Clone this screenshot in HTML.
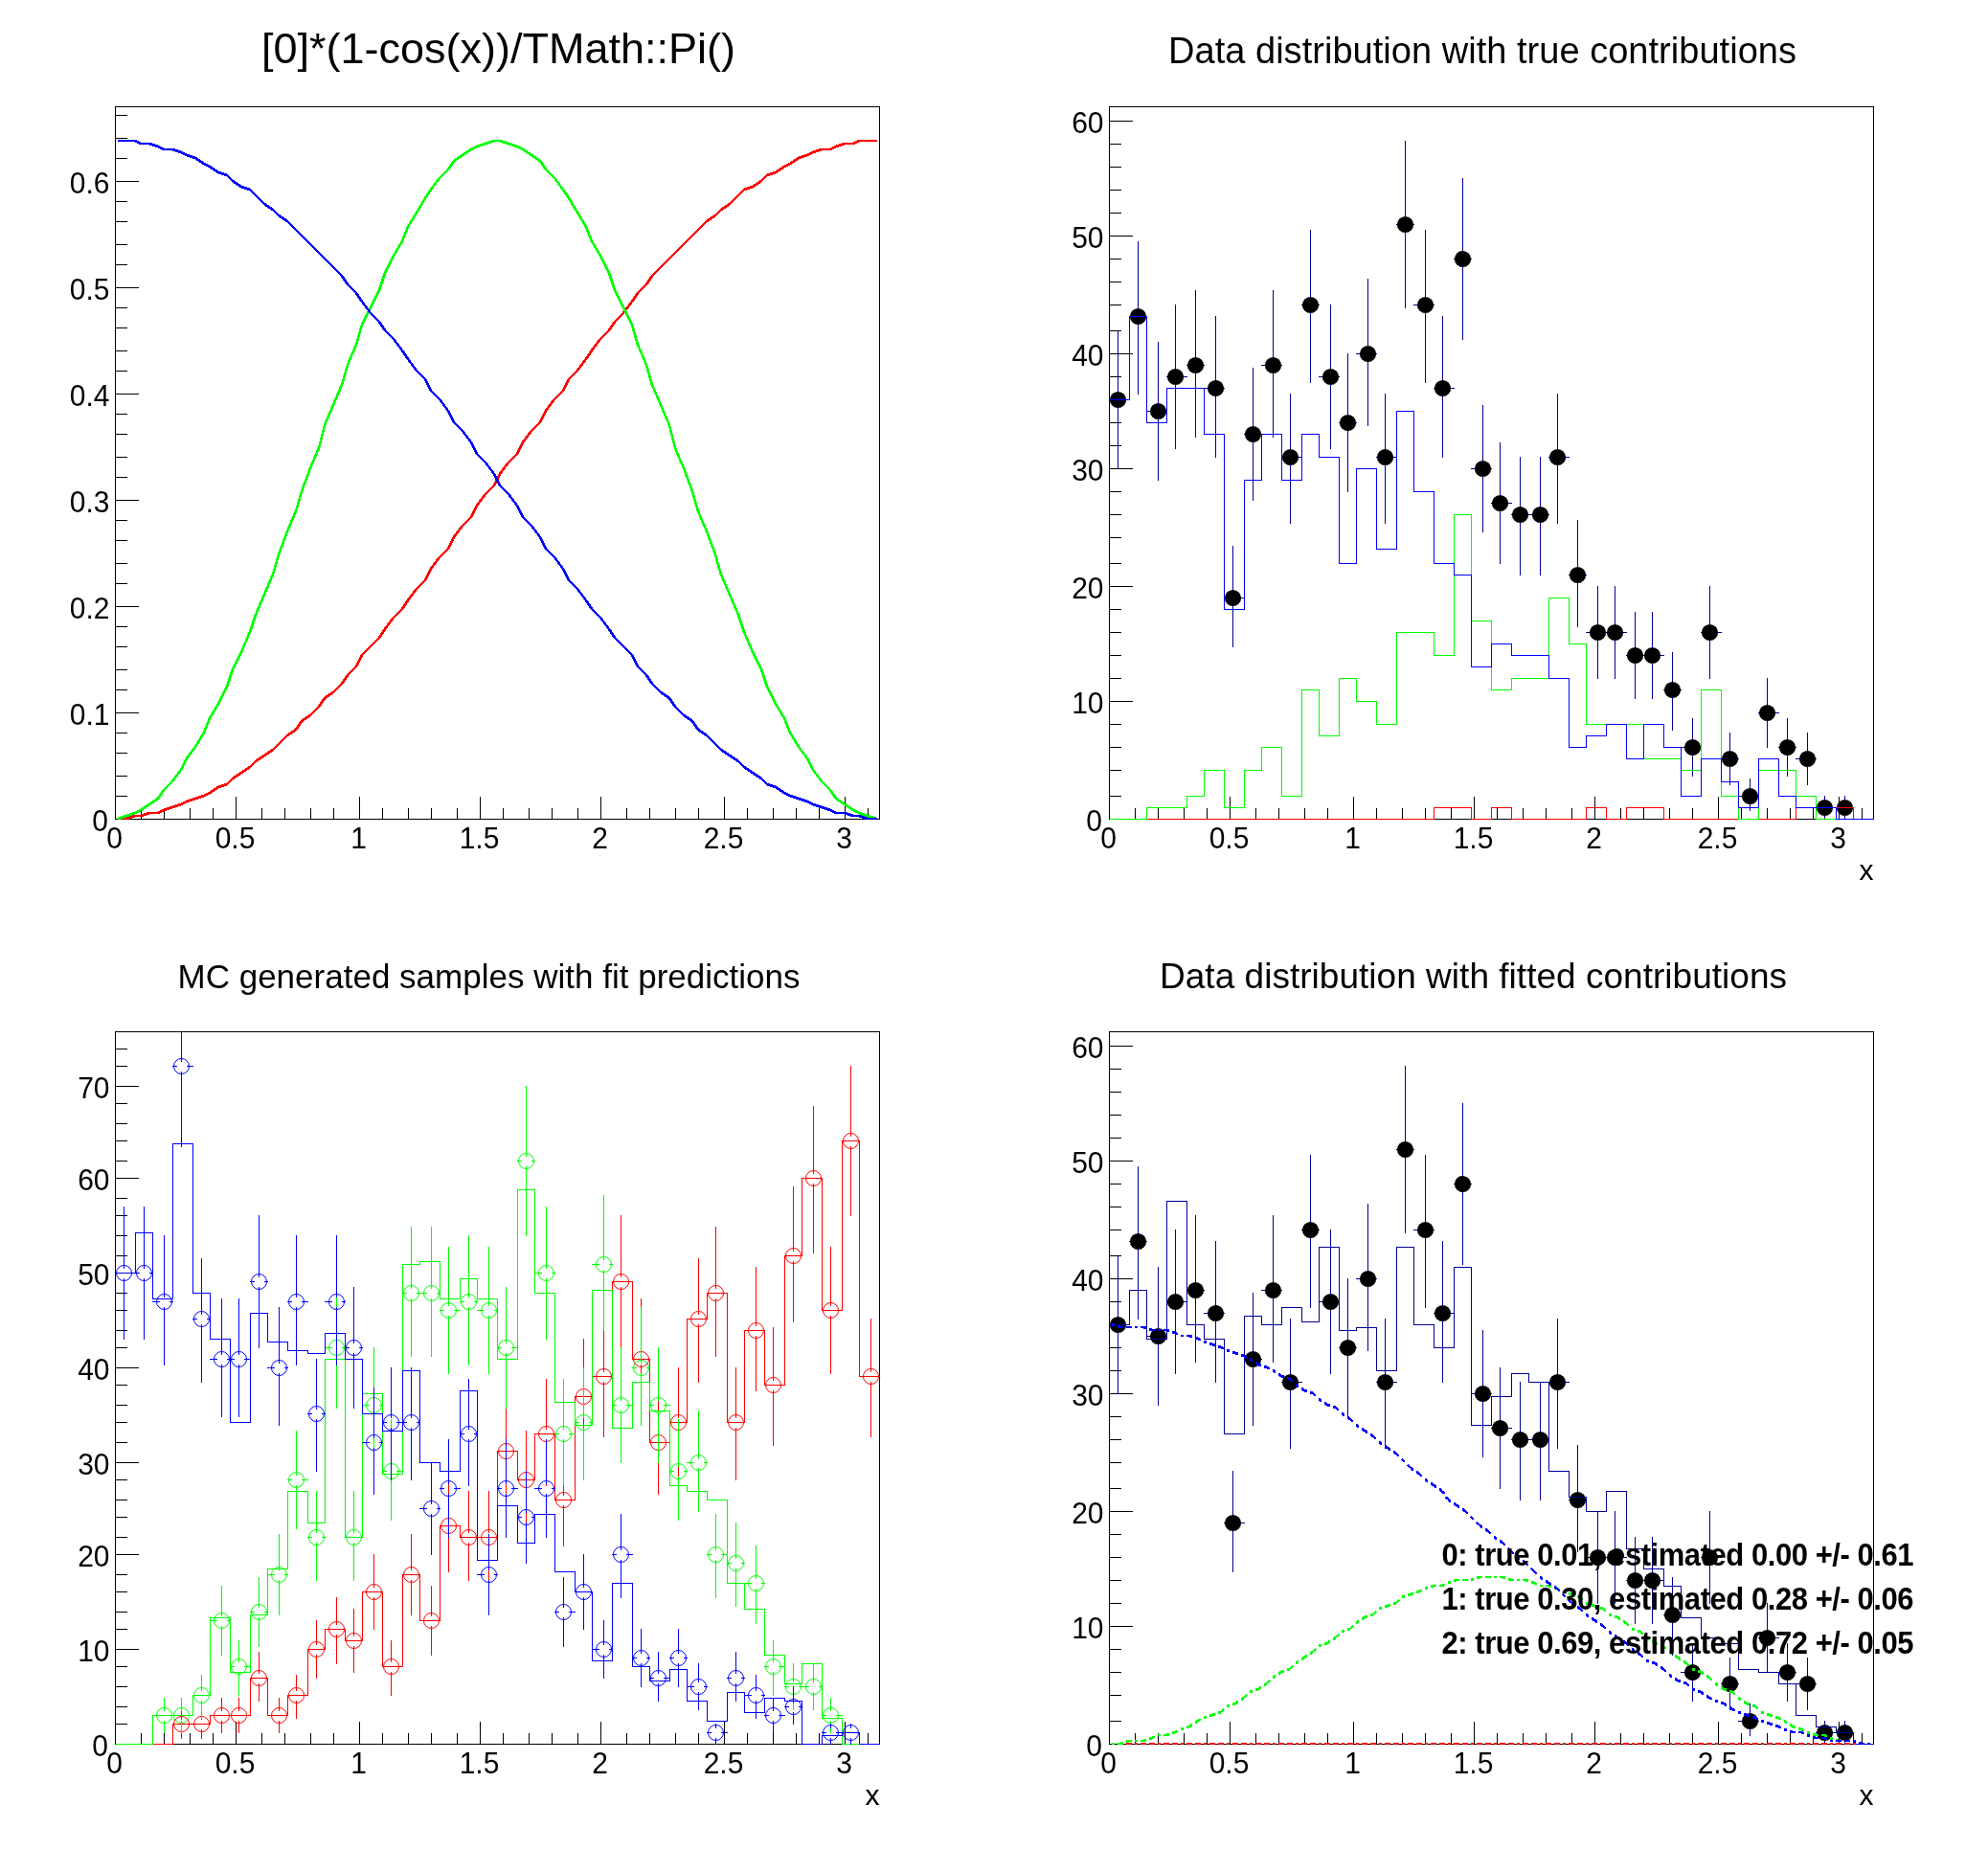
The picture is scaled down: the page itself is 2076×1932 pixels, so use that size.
<!DOCTYPE html>
<html><head><meta charset="utf-8"><title>TFractionFitter example</title>
<style>html,body{margin:0;padding:0;background:#fff}svg{display:block;will-change:transform}text{font-family:"Liberation Sans", sans-serif;fill:#000}.lab{font-size:30px}.b{font-size:31px;font-weight:bold}</style></head><body>
<svg width="2076" height="1932" viewBox="0 0 2076 1932" shape-rendering="crispEdges">
<rect x="0" y="0" width="2076" height="1932" fill="#fff"/>
<defs>
<clipPath id="c1"><rect x="120" y="111" width="799" height="745"/></clipPath>
<clipPath id="c2"><rect x="1158" y="111" width="799" height="745"/></clipPath>
<clipPath id="c3"><rect x="120" y="1077" width="799" height="745"/></clipPath>
<clipPath id="c4"><rect x="1158" y="1077" width="799" height="745"/></clipPath>
</defs>
<rect x="120.5" y="111.5" width="798" height="744" fill="none" stroke="#000" stroke-width="1"/>
<line x1="120.5" y1="855.5" x2="120.5" y2="831.5" stroke="#000" stroke-width="1" />
<text transform="translate(119.5,886.0) scale(1,1.07)" text-anchor="middle" class="lab">0</text>
<line x1="147.5" y1="855.5" x2="147.5" y2="843.5" stroke="#000" stroke-width="1" />
<line x1="171.5" y1="855.5" x2="171.5" y2="843.5" stroke="#000" stroke-width="1" />
<line x1="198.5" y1="855.5" x2="198.5" y2="843.5" stroke="#000" stroke-width="1" />
<line x1="222.5" y1="855.5" x2="222.5" y2="843.5" stroke="#000" stroke-width="1" />
<line x1="246.5" y1="855.5" x2="246.5" y2="831.5" stroke="#000" stroke-width="1" />
<text transform="translate(245.5,886.0) scale(1,1.07)" text-anchor="middle" class="lab">0.5</text>
<line x1="273.5" y1="855.5" x2="273.5" y2="843.5" stroke="#000" stroke-width="1" />
<line x1="297.5" y1="855.5" x2="297.5" y2="843.5" stroke="#000" stroke-width="1" />
<line x1="324.5" y1="855.5" x2="324.5" y2="843.5" stroke="#000" stroke-width="1" />
<line x1="348.5" y1="855.5" x2="348.5" y2="843.5" stroke="#000" stroke-width="1" />
<line x1="375.5" y1="855.5" x2="375.5" y2="831.5" stroke="#000" stroke-width="1" />
<text transform="translate(374.5,886.0) scale(1,1.07)" text-anchor="middle" class="lab">1</text>
<line x1="399.5" y1="855.5" x2="399.5" y2="843.5" stroke="#000" stroke-width="1" />
<line x1="426.5" y1="855.5" x2="426.5" y2="843.5" stroke="#000" stroke-width="1" />
<line x1="450.5" y1="855.5" x2="450.5" y2="843.5" stroke="#000" stroke-width="1" />
<line x1="477.5" y1="855.5" x2="477.5" y2="843.5" stroke="#000" stroke-width="1" />
<line x1="501.5" y1="855.5" x2="501.5" y2="831.5" stroke="#000" stroke-width="1" />
<text transform="translate(500.5,886.0) scale(1,1.07)" text-anchor="middle" class="lab">1.5</text>
<line x1="525.5" y1="855.5" x2="525.5" y2="843.5" stroke="#000" stroke-width="1" />
<line x1="552.5" y1="855.5" x2="552.5" y2="843.5" stroke="#000" stroke-width="1" />
<line x1="576.5" y1="855.5" x2="576.5" y2="843.5" stroke="#000" stroke-width="1" />
<line x1="603.5" y1="855.5" x2="603.5" y2="843.5" stroke="#000" stroke-width="1" />
<line x1="627.5" y1="855.5" x2="627.5" y2="831.5" stroke="#000" stroke-width="1" />
<text transform="translate(626.5,886.0) scale(1,1.07)" text-anchor="middle" class="lab">2</text>
<line x1="654.5" y1="855.5" x2="654.5" y2="843.5" stroke="#000" stroke-width="1" />
<line x1="678.5" y1="855.5" x2="678.5" y2="843.5" stroke="#000" stroke-width="1" />
<line x1="705.5" y1="855.5" x2="705.5" y2="843.5" stroke="#000" stroke-width="1" />
<line x1="729.5" y1="855.5" x2="729.5" y2="843.5" stroke="#000" stroke-width="1" />
<line x1="756.5" y1="855.5" x2="756.5" y2="831.5" stroke="#000" stroke-width="1" />
<text transform="translate(755.5,886.0) scale(1,1.07)" text-anchor="middle" class="lab">2.5</text>
<line x1="780.5" y1="855.5" x2="780.5" y2="843.5" stroke="#000" stroke-width="1" />
<line x1="807.5" y1="855.5" x2="807.5" y2="843.5" stroke="#000" stroke-width="1" />
<line x1="831.5" y1="855.5" x2="831.5" y2="843.5" stroke="#000" stroke-width="1" />
<line x1="855.5" y1="855.5" x2="855.5" y2="843.5" stroke="#000" stroke-width="1" />
<line x1="882.5" y1="855.5" x2="882.5" y2="831.5" stroke="#000" stroke-width="1" />
<text transform="translate(881.5,886.0) scale(1,1.07)" text-anchor="middle" class="lab">3</text>
<line x1="906.5" y1="855.5" x2="906.5" y2="843.5" stroke="#000" stroke-width="1" />
<line x1="120.5" y1="855.5" x2="145.0" y2="855.5" stroke="#000" stroke-width="1" />
<text transform="translate(113.0,868.0) scale(1,1.07)" text-anchor="end" class="lab">0</text>
<line x1="120.5" y1="831.5" x2="133.0" y2="831.5" stroke="#000" stroke-width="1" />
<line x1="120.5" y1="810.5" x2="133.0" y2="810.5" stroke="#000" stroke-width="1" />
<line x1="120.5" y1="786.5" x2="133.0" y2="786.5" stroke="#000" stroke-width="1" />
<line x1="120.5" y1="765.5" x2="133.0" y2="765.5" stroke="#000" stroke-width="1" />
<line x1="120.5" y1="744.5" x2="145.0" y2="744.5" stroke="#000" stroke-width="1" />
<text transform="translate(114.5,757.0) scale(1,1.07)" text-anchor="end" class="lab">0.1</text>
<line x1="120.5" y1="720.5" x2="133.0" y2="720.5" stroke="#000" stroke-width="1" />
<line x1="120.5" y1="699.5" x2="133.0" y2="699.5" stroke="#000" stroke-width="1" />
<line x1="120.5" y1="675.5" x2="133.0" y2="675.5" stroke="#000" stroke-width="1" />
<line x1="120.5" y1="654.5" x2="133.0" y2="654.5" stroke="#000" stroke-width="1" />
<line x1="120.5" y1="633.5" x2="145.0" y2="633.5" stroke="#000" stroke-width="1" />
<text transform="translate(114.5,646.0) scale(1,1.07)" text-anchor="end" class="lab">0.2</text>
<line x1="120.5" y1="609.5" x2="133.0" y2="609.5" stroke="#000" stroke-width="1" />
<line x1="120.5" y1="588.5" x2="133.0" y2="588.5" stroke="#000" stroke-width="1" />
<line x1="120.5" y1="564.5" x2="133.0" y2="564.5" stroke="#000" stroke-width="1" />
<line x1="120.5" y1="543.5" x2="133.0" y2="543.5" stroke="#000" stroke-width="1" />
<line x1="120.5" y1="522.5" x2="145.0" y2="522.5" stroke="#000" stroke-width="1" />
<text transform="translate(114.5,535.0) scale(1,1.07)" text-anchor="end" class="lab">0.3</text>
<line x1="120.5" y1="498.5" x2="133.0" y2="498.5" stroke="#000" stroke-width="1" />
<line x1="120.5" y1="477.5" x2="133.0" y2="477.5" stroke="#000" stroke-width="1" />
<line x1="120.5" y1="453.5" x2="133.0" y2="453.5" stroke="#000" stroke-width="1" />
<line x1="120.5" y1="432.5" x2="133.0" y2="432.5" stroke="#000" stroke-width="1" />
<line x1="120.5" y1="411.5" x2="145.0" y2="411.5" stroke="#000" stroke-width="1" />
<text transform="translate(114.5,424.0) scale(1,1.07)" text-anchor="end" class="lab">0.4</text>
<line x1="120.5" y1="387.5" x2="133.0" y2="387.5" stroke="#000" stroke-width="1" />
<line x1="120.5" y1="366.5" x2="133.0" y2="366.5" stroke="#000" stroke-width="1" />
<line x1="120.5" y1="342.5" x2="133.0" y2="342.5" stroke="#000" stroke-width="1" />
<line x1="120.5" y1="321.5" x2="133.0" y2="321.5" stroke="#000" stroke-width="1" />
<line x1="120.5" y1="300.5" x2="145.0" y2="300.5" stroke="#000" stroke-width="1" />
<text transform="translate(114.5,313.0) scale(1,1.07)" text-anchor="end" class="lab">0.5</text>
<line x1="120.5" y1="276.5" x2="133.0" y2="276.5" stroke="#000" stroke-width="1" />
<line x1="120.5" y1="255.5" x2="133.0" y2="255.5" stroke="#000" stroke-width="1" />
<line x1="120.5" y1="231.5" x2="133.0" y2="231.5" stroke="#000" stroke-width="1" />
<line x1="120.5" y1="210.5" x2="133.0" y2="210.5" stroke="#000" stroke-width="1" />
<line x1="120.5" y1="189.5" x2="145.0" y2="189.5" stroke="#000" stroke-width="1" />
<text transform="translate(114.5,202.0) scale(1,1.07)" text-anchor="end" class="lab">0.6</text>
<line x1="120.5" y1="165.5" x2="133.0" y2="165.5" stroke="#000" stroke-width="1" />
<line x1="120.5" y1="144.5" x2="133.0" y2="144.5" stroke="#000" stroke-width="1" />
<line x1="120.5" y1="120.5" x2="133.0" y2="120.5" stroke="#000" stroke-width="1" />
<text x="273" y="66" textLength="495" lengthAdjust="spacing" style="font-size:45px">[0]*(1-cos(x))/TMath::Pi()</text>
<path d="M123,855 L132,855 L141,852 L147,852 L156,849 L165,849 L171,846 L180,843 L189,840 L195,837 L204,834 L213,831 L219,828 L228,822 L237,819 L243,813 L252,807 L261,801 L267,795 L276,789 L285,783 L291,777 L300,768 L309,762 L315,753 L324,747 L333,738 L339,729 L348,723 L357,714 L363,705 L372,696 L378,684 L387,675 L396,666 L402,657 L411,645 L420,636 L426,627 L435,615 L444,606 L450,594 L459,582 L468,573 L474,561 L483,549 L492,540 L498,528 L507,516 L516,507 L522,495 L531,483 L540,474 L546,462 L555,450 L564,441 L570,429 L579,417 L588,408 L594,396 L603,387 L612,375 L618,366 L627,354 L636,345 L642,336 L651,327 L660,315 L666,306 L675,297 L681,288 L690,279 L699,270 L705,264 L714,255 L723,246 L729,240 L738,231 L747,225 L753,219 L762,213 L771,204 L777,198 L786,195 L795,189 L801,183 L810,180 L819,174 L825,171 L834,165 L843,162 L849,159 L858,156 L867,156 L873,153 L882,150 L891,150 L897,147 L906,147 L915,147 L916,147" fill="none" stroke="#ff0000" stroke-width="2.6" stroke-linejoin="round"/>
<path d="M123,855 L132,852 L141,849 L147,846 L156,840 L165,834 L171,825 L180,816 L189,804 L195,792 L204,780 L213,765 L219,750 L228,735 L237,717 L243,699 L252,681 L261,660 L267,642 L276,621 L285,600 L291,579 L300,555 L309,534 L315,513 L324,489 L333,468 L339,444 L348,423 L357,402 L363,381 L372,360 L378,339 L387,321 L396,303 L402,285 L411,267 L420,252 L426,237 L435,222 L444,207 L450,198 L459,186 L468,177 L474,168 L483,162 L492,156 L498,153 L507,150 L516,147 L522,147 L531,150 L540,153 L546,156 L555,162 L564,168 L570,177 L579,186 L588,198 L594,207 L603,222 L612,237 L618,252 L627,267 L636,285 L642,303 L651,321 L660,339 L666,360 L675,381 L681,402 L690,423 L699,444 L705,468 L714,489 L723,513 L729,534 L738,555 L747,579 L753,600 L762,621 L771,642 L777,660 L786,681 L795,699 L801,717 L810,735 L819,750 L825,765 L834,780 L843,792 L849,804 L858,816 L867,825 L873,834 L882,840 L891,846 L897,849 L906,852 L915,855 L916,855" fill="none" stroke="#00ff00" stroke-width="2.6" stroke-linejoin="round"/>
<path d="M123,147 L132,147 L141,147 L147,150 L156,150 L165,153 L171,156 L180,156 L189,159 L195,162 L204,165 L213,171 L219,174 L228,180 L237,183 L243,189 L252,195 L261,198 L267,204 L276,213 L285,219 L291,225 L300,231 L309,240 L315,246 L324,255 L333,264 L339,270 L348,279 L357,288 L363,297 L372,306 L378,315 L387,327 L396,336 L402,345 L411,354 L420,366 L426,375 L435,387 L444,396 L450,408 L459,417 L468,429 L474,441 L483,450 L492,462 L498,474 L507,483 L516,495 L522,507 L531,516 L540,528 L546,540 L555,549 L564,561 L570,573 L579,582 L588,594 L594,606 L603,615 L612,627 L618,636 L627,645 L636,657 L642,666 L651,675 L660,684 L666,696 L675,705 L681,714 L690,723 L699,729 L705,738 L714,747 L723,753 L729,762 L738,768 L747,777 L753,783 L762,789 L771,795 L777,801 L786,807 L795,813 L801,819 L810,822 L819,828 L825,831 L834,834 L843,837 L849,840 L858,843 L867,846 L873,849 L882,849 L891,852 L897,852 L906,855 L915,855 L916,855" fill="none" stroke="#0000ff" stroke-width="2.6" stroke-linejoin="round"/>
<rect x="1158.5" y="111.5" width="798" height="744" fill="none" stroke="#000" stroke-width="1"/>
<line x1="1158.5" y1="855.5" x2="1158.5" y2="831.5" stroke="#000" stroke-width="1" />
<text transform="translate(1157.5,886.0) scale(1,1.07)" text-anchor="middle" class="lab">0</text>
<line x1="1185.5" y1="855.5" x2="1185.5" y2="843.5" stroke="#000" stroke-width="1" />
<line x1="1209.5" y1="855.5" x2="1209.5" y2="843.5" stroke="#000" stroke-width="1" />
<line x1="1236.5" y1="855.5" x2="1236.5" y2="843.5" stroke="#000" stroke-width="1" />
<line x1="1260.5" y1="855.5" x2="1260.5" y2="843.5" stroke="#000" stroke-width="1" />
<line x1="1284.5" y1="855.5" x2="1284.5" y2="831.5" stroke="#000" stroke-width="1" />
<text transform="translate(1283.5,886.0) scale(1,1.07)" text-anchor="middle" class="lab">0.5</text>
<line x1="1311.5" y1="855.5" x2="1311.5" y2="843.5" stroke="#000" stroke-width="1" />
<line x1="1335.5" y1="855.5" x2="1335.5" y2="843.5" stroke="#000" stroke-width="1" />
<line x1="1362.5" y1="855.5" x2="1362.5" y2="843.5" stroke="#000" stroke-width="1" />
<line x1="1386.5" y1="855.5" x2="1386.5" y2="843.5" stroke="#000" stroke-width="1" />
<line x1="1413.5" y1="855.5" x2="1413.5" y2="831.5" stroke="#000" stroke-width="1" />
<text transform="translate(1412.5,886.0) scale(1,1.07)" text-anchor="middle" class="lab">1</text>
<line x1="1437.5" y1="855.5" x2="1437.5" y2="843.5" stroke="#000" stroke-width="1" />
<line x1="1464.5" y1="855.5" x2="1464.5" y2="843.5" stroke="#000" stroke-width="1" />
<line x1="1488.5" y1="855.5" x2="1488.5" y2="843.5" stroke="#000" stroke-width="1" />
<line x1="1515.5" y1="855.5" x2="1515.5" y2="843.5" stroke="#000" stroke-width="1" />
<line x1="1539.5" y1="855.5" x2="1539.5" y2="831.5" stroke="#000" stroke-width="1" />
<text transform="translate(1538.5,886.0) scale(1,1.07)" text-anchor="middle" class="lab">1.5</text>
<line x1="1563.5" y1="855.5" x2="1563.5" y2="843.5" stroke="#000" stroke-width="1" />
<line x1="1590.5" y1="855.5" x2="1590.5" y2="843.5" stroke="#000" stroke-width="1" />
<line x1="1614.5" y1="855.5" x2="1614.5" y2="843.5" stroke="#000" stroke-width="1" />
<line x1="1641.5" y1="855.5" x2="1641.5" y2="843.5" stroke="#000" stroke-width="1" />
<line x1="1665.5" y1="855.5" x2="1665.5" y2="831.5" stroke="#000" stroke-width="1" />
<text transform="translate(1664.5,886.0) scale(1,1.07)" text-anchor="middle" class="lab">2</text>
<line x1="1692.5" y1="855.5" x2="1692.5" y2="843.5" stroke="#000" stroke-width="1" />
<line x1="1716.5" y1="855.5" x2="1716.5" y2="843.5" stroke="#000" stroke-width="1" />
<line x1="1743.5" y1="855.5" x2="1743.5" y2="843.5" stroke="#000" stroke-width="1" />
<line x1="1767.5" y1="855.5" x2="1767.5" y2="843.5" stroke="#000" stroke-width="1" />
<line x1="1794.5" y1="855.5" x2="1794.5" y2="831.5" stroke="#000" stroke-width="1" />
<text transform="translate(1793.5,886.0) scale(1,1.07)" text-anchor="middle" class="lab">2.5</text>
<line x1="1818.5" y1="855.5" x2="1818.5" y2="843.5" stroke="#000" stroke-width="1" />
<line x1="1845.5" y1="855.5" x2="1845.5" y2="843.5" stroke="#000" stroke-width="1" />
<line x1="1869.5" y1="855.5" x2="1869.5" y2="843.5" stroke="#000" stroke-width="1" />
<line x1="1893.5" y1="855.5" x2="1893.5" y2="843.5" stroke="#000" stroke-width="1" />
<line x1="1920.5" y1="855.5" x2="1920.5" y2="831.5" stroke="#000" stroke-width="1" />
<text transform="translate(1919.5,886.0) scale(1,1.07)" text-anchor="middle" class="lab">3</text>
<line x1="1944.5" y1="855.5" x2="1944.5" y2="843.5" stroke="#000" stroke-width="1" />
<line x1="1158.5" y1="855.5" x2="1183.0" y2="855.5" stroke="#000" stroke-width="1" />
<text transform="translate(1151.0,868.0) scale(1,1.07)" text-anchor="end" class="lab">0</text>
<line x1="1158.5" y1="831.5" x2="1171.0" y2="831.5" stroke="#000" stroke-width="1" />
<line x1="1158.5" y1="804.5" x2="1171.0" y2="804.5" stroke="#000" stroke-width="1" />
<line x1="1158.5" y1="780.5" x2="1171.0" y2="780.5" stroke="#000" stroke-width="1" />
<line x1="1158.5" y1="756.5" x2="1171.0" y2="756.5" stroke="#000" stroke-width="1" />
<line x1="1158.5" y1="732.5" x2="1183.0" y2="732.5" stroke="#000" stroke-width="1" />
<text transform="translate(1152.5,745.0) scale(1,1.07)" text-anchor="end" class="lab">10</text>
<line x1="1158.5" y1="708.5" x2="1171.0" y2="708.5" stroke="#000" stroke-width="1" />
<line x1="1158.5" y1="684.5" x2="1171.0" y2="684.5" stroke="#000" stroke-width="1" />
<line x1="1158.5" y1="660.5" x2="1171.0" y2="660.5" stroke="#000" stroke-width="1" />
<line x1="1158.5" y1="636.5" x2="1171.0" y2="636.5" stroke="#000" stroke-width="1" />
<line x1="1158.5" y1="612.5" x2="1183.0" y2="612.5" stroke="#000" stroke-width="1" />
<text transform="translate(1152.5,625.0) scale(1,1.07)" text-anchor="end" class="lab">20</text>
<line x1="1158.5" y1="588.5" x2="1171.0" y2="588.5" stroke="#000" stroke-width="1" />
<line x1="1158.5" y1="561.5" x2="1171.0" y2="561.5" stroke="#000" stroke-width="1" />
<line x1="1158.5" y1="537.5" x2="1171.0" y2="537.5" stroke="#000" stroke-width="1" />
<line x1="1158.5" y1="513.5" x2="1171.0" y2="513.5" stroke="#000" stroke-width="1" />
<line x1="1158.5" y1="489.5" x2="1183.0" y2="489.5" stroke="#000" stroke-width="1" />
<text transform="translate(1152.5,502.0) scale(1,1.07)" text-anchor="end" class="lab">30</text>
<line x1="1158.5" y1="465.5" x2="1171.0" y2="465.5" stroke="#000" stroke-width="1" />
<line x1="1158.5" y1="441.5" x2="1171.0" y2="441.5" stroke="#000" stroke-width="1" />
<line x1="1158.5" y1="417.5" x2="1171.0" y2="417.5" stroke="#000" stroke-width="1" />
<line x1="1158.5" y1="393.5" x2="1171.0" y2="393.5" stroke="#000" stroke-width="1" />
<line x1="1158.5" y1="369.5" x2="1183.0" y2="369.5" stroke="#000" stroke-width="1" />
<text transform="translate(1152.5,382.0) scale(1,1.07)" text-anchor="end" class="lab">40</text>
<line x1="1158.5" y1="345.5" x2="1171.0" y2="345.5" stroke="#000" stroke-width="1" />
<line x1="1158.5" y1="318.5" x2="1171.0" y2="318.5" stroke="#000" stroke-width="1" />
<line x1="1158.5" y1="294.5" x2="1171.0" y2="294.5" stroke="#000" stroke-width="1" />
<line x1="1158.5" y1="270.5" x2="1171.0" y2="270.5" stroke="#000" stroke-width="1" />
<line x1="1158.5" y1="246.5" x2="1183.0" y2="246.5" stroke="#000" stroke-width="1" />
<text transform="translate(1152.5,259.0) scale(1,1.07)" text-anchor="end" class="lab">50</text>
<line x1="1158.5" y1="222.5" x2="1171.0" y2="222.5" stroke="#000" stroke-width="1" />
<line x1="1158.5" y1="198.5" x2="1171.0" y2="198.5" stroke="#000" stroke-width="1" />
<line x1="1158.5" y1="174.5" x2="1171.0" y2="174.5" stroke="#000" stroke-width="1" />
<line x1="1158.5" y1="150.5" x2="1171.0" y2="150.5" stroke="#000" stroke-width="1" />
<line x1="1158.5" y1="126.5" x2="1183.0" y2="126.5" stroke="#000" stroke-width="1" />
<text transform="translate(1152.5,139.0) scale(1,1.07)" text-anchor="end" class="lab">60</text>
<text x="1220" y="66" textLength="656" lengthAdjust="spacing" style="font-size:38px">Data distribution with true contributions</text>
<text x="1956.5" y="918.5" text-anchor="end" class="lab">x</text>
<g clip-path="url(#c2)">
<line x1="1167.5" y1="345" x2="1167.5" y2="409.5" stroke="#000099" stroke-width="1" />
<line x1="1167.5" y1="425.5" x2="1167.5" y2="490" stroke="#000099" stroke-width="1" />
<line x1="1158.0" y1="417.5" x2="1159.5" y2="417.5" stroke="#000099" stroke-width="1" />
<line x1="1175.5" y1="417.5" x2="1180.0" y2="417.5" stroke="#000099" stroke-width="1" />
<circle cx="1167.5" cy="417.5" r="8.6" fill="#000" shape-rendering="auto"/>
<line x1="1188.5" y1="252" x2="1188.5" y2="322.5" stroke="#000099" stroke-width="1" />
<line x1="1188.5" y1="338.5" x2="1188.5" y2="412" stroke="#000099" stroke-width="1" />
<line x1="1179.0" y1="330.5" x2="1180.5" y2="330.5" stroke="#000099" stroke-width="1" />
<line x1="1196.5" y1="330.5" x2="1198.0" y2="330.5" stroke="#000099" stroke-width="1" />
<circle cx="1188.5" cy="330.5" r="8.6" fill="#000" shape-rendering="auto"/>
<line x1="1209.5" y1="357" x2="1209.5" y2="421.5" stroke="#000099" stroke-width="1" />
<line x1="1209.5" y1="437.5" x2="1209.5" y2="502" stroke="#000099" stroke-width="1" />
<line x1="1197.0" y1="429.5" x2="1201.5" y2="429.5" stroke="#000099" stroke-width="1" />
<line x1="1217.5" y1="429.5" x2="1219.0" y2="429.5" stroke="#000099" stroke-width="1" />
<circle cx="1209.5" cy="429.5" r="8.6" fill="#000" shape-rendering="auto"/>
<line x1="1227.5" y1="318" x2="1227.5" y2="385.5" stroke="#000099" stroke-width="1" />
<line x1="1227.5" y1="401.5" x2="1227.5" y2="469" stroke="#000099" stroke-width="1" />
<line x1="1218.0" y1="393.5" x2="1219.5" y2="393.5" stroke="#000099" stroke-width="1" />
<line x1="1235.5" y1="393.5" x2="1240.0" y2="393.5" stroke="#000099" stroke-width="1" />
<circle cx="1227.5" cy="393.5" r="8.6" fill="#000" shape-rendering="auto"/>
<line x1="1248.5" y1="303" x2="1248.5" y2="373.5" stroke="#000099" stroke-width="1" />
<line x1="1248.5" y1="389.5" x2="1248.5" y2="457" stroke="#000099" stroke-width="1" />
<line x1="1239.0" y1="381.5" x2="1240.5" y2="381.5" stroke="#000099" stroke-width="1" />
<line x1="1256.5" y1="381.5" x2="1258.0" y2="381.5" stroke="#000099" stroke-width="1" />
<circle cx="1248.5" cy="381.5" r="8.6" fill="#000" shape-rendering="auto"/>
<line x1="1269.5" y1="330" x2="1269.5" y2="397.5" stroke="#000099" stroke-width="1" />
<line x1="1269.5" y1="413.5" x2="1269.5" y2="478" stroke="#000099" stroke-width="1" />
<line x1="1257.0" y1="405.5" x2="1261.5" y2="405.5" stroke="#000099" stroke-width="1" />
<line x1="1277.5" y1="405.5" x2="1279.0" y2="405.5" stroke="#000099" stroke-width="1" />
<circle cx="1269.5" cy="405.5" r="8.6" fill="#000" shape-rendering="auto"/>
<line x1="1287.5" y1="570" x2="1287.5" y2="616.5" stroke="#000099" stroke-width="1" />
<line x1="1287.5" y1="632.5" x2="1287.5" y2="676" stroke="#000099" stroke-width="1" />
<line x1="1278.0" y1="624.5" x2="1279.5" y2="624.5" stroke="#000099" stroke-width="1" />
<line x1="1295.5" y1="624.5" x2="1300.0" y2="624.5" stroke="#000099" stroke-width="1" />
<circle cx="1287.5" cy="624.5" r="8.6" fill="#000" shape-rendering="auto"/>
<line x1="1308.5" y1="384" x2="1308.5" y2="445.5" stroke="#000099" stroke-width="1" />
<line x1="1308.5" y1="461.5" x2="1308.5" y2="523" stroke="#000099" stroke-width="1" />
<line x1="1299.0" y1="453.5" x2="1300.5" y2="453.5" stroke="#000099" stroke-width="1" />
<line x1="1316.5" y1="453.5" x2="1318.0" y2="453.5" stroke="#000099" stroke-width="1" />
<circle cx="1308.5" cy="453.5" r="8.6" fill="#000" shape-rendering="auto"/>
<line x1="1329.5" y1="303" x2="1329.5" y2="373.5" stroke="#000099" stroke-width="1" />
<line x1="1329.5" y1="389.5" x2="1329.5" y2="457" stroke="#000099" stroke-width="1" />
<line x1="1317.0" y1="381.5" x2="1321.5" y2="381.5" stroke="#000099" stroke-width="1" />
<line x1="1337.5" y1="381.5" x2="1339.0" y2="381.5" stroke="#000099" stroke-width="1" />
<circle cx="1329.5" cy="381.5" r="8.6" fill="#000" shape-rendering="auto"/>
<line x1="1347.5" y1="411" x2="1347.5" y2="469.5" stroke="#000099" stroke-width="1" />
<line x1="1347.5" y1="485.5" x2="1347.5" y2="547" stroke="#000099" stroke-width="1" />
<line x1="1338.0" y1="477.5" x2="1339.5" y2="477.5" stroke="#000099" stroke-width="1" />
<line x1="1355.5" y1="477.5" x2="1360.0" y2="477.5" stroke="#000099" stroke-width="1" />
<circle cx="1347.5" cy="477.5" r="8.6" fill="#000" shape-rendering="auto"/>
<line x1="1368.5" y1="240" x2="1368.5" y2="310.5" stroke="#000099" stroke-width="1" />
<line x1="1368.5" y1="326.5" x2="1368.5" y2="400" stroke="#000099" stroke-width="1" />
<line x1="1359.0" y1="318.5" x2="1360.5" y2="318.5" stroke="#000099" stroke-width="1" />
<line x1="1376.5" y1="318.5" x2="1378.0" y2="318.5" stroke="#000099" stroke-width="1" />
<circle cx="1368.5" cy="318.5" r="8.6" fill="#000" shape-rendering="auto"/>
<line x1="1389.5" y1="318" x2="1389.5" y2="385.5" stroke="#000099" stroke-width="1" />
<line x1="1389.5" y1="401.5" x2="1389.5" y2="469" stroke="#000099" stroke-width="1" />
<line x1="1377.0" y1="393.5" x2="1381.5" y2="393.5" stroke="#000099" stroke-width="1" />
<line x1="1397.5" y1="393.5" x2="1399.0" y2="393.5" stroke="#000099" stroke-width="1" />
<circle cx="1389.5" cy="393.5" r="8.6" fill="#000" shape-rendering="auto"/>
<line x1="1407.5" y1="369" x2="1407.5" y2="433.5" stroke="#000099" stroke-width="1" />
<line x1="1407.5" y1="449.5" x2="1407.5" y2="514" stroke="#000099" stroke-width="1" />
<line x1="1398.0" y1="441.5" x2="1399.5" y2="441.5" stroke="#000099" stroke-width="1" />
<line x1="1415.5" y1="441.5" x2="1417.0" y2="441.5" stroke="#000099" stroke-width="1" />
<circle cx="1407.5" cy="441.5" r="8.6" fill="#000" shape-rendering="auto"/>
<line x1="1428.5" y1="291" x2="1428.5" y2="361.5" stroke="#000099" stroke-width="1" />
<line x1="1428.5" y1="377.5" x2="1428.5" y2="445" stroke="#000099" stroke-width="1" />
<line x1="1416.0" y1="369.5" x2="1420.5" y2="369.5" stroke="#000099" stroke-width="1" />
<line x1="1436.5" y1="369.5" x2="1438.0" y2="369.5" stroke="#000099" stroke-width="1" />
<circle cx="1428.5" cy="369.5" r="8.6" fill="#000" shape-rendering="auto"/>
<line x1="1446.5" y1="411" x2="1446.5" y2="469.5" stroke="#000099" stroke-width="1" />
<line x1="1446.5" y1="485.5" x2="1446.5" y2="547" stroke="#000099" stroke-width="1" />
<line x1="1437.0" y1="477.5" x2="1438.5" y2="477.5" stroke="#000099" stroke-width="1" />
<line x1="1454.5" y1="477.5" x2="1459.0" y2="477.5" stroke="#000099" stroke-width="1" />
<circle cx="1446.5" cy="477.5" r="8.6" fill="#000" shape-rendering="auto"/>
<line x1="1467.5" y1="147" x2="1467.5" y2="226.5" stroke="#000099" stroke-width="1" />
<line x1="1467.5" y1="242.5" x2="1467.5" y2="322" stroke="#000099" stroke-width="1" />
<line x1="1458.0" y1="234.5" x2="1459.5" y2="234.5" stroke="#000099" stroke-width="1" />
<line x1="1475.5" y1="234.5" x2="1477.0" y2="234.5" stroke="#000099" stroke-width="1" />
<circle cx="1467.5" cy="234.5" r="8.6" fill="#000" shape-rendering="auto"/>
<line x1="1488.5" y1="240" x2="1488.5" y2="310.5" stroke="#000099" stroke-width="1" />
<line x1="1488.5" y1="326.5" x2="1488.5" y2="400" stroke="#000099" stroke-width="1" />
<line x1="1476.0" y1="318.5" x2="1480.5" y2="318.5" stroke="#000099" stroke-width="1" />
<line x1="1496.5" y1="318.5" x2="1498.0" y2="318.5" stroke="#000099" stroke-width="1" />
<circle cx="1488.5" cy="318.5" r="8.6" fill="#000" shape-rendering="auto"/>
<line x1="1506.5" y1="330" x2="1506.5" y2="397.5" stroke="#000099" stroke-width="1" />
<line x1="1506.5" y1="413.5" x2="1506.5" y2="478" stroke="#000099" stroke-width="1" />
<line x1="1497.0" y1="405.5" x2="1498.5" y2="405.5" stroke="#000099" stroke-width="1" />
<line x1="1514.5" y1="405.5" x2="1519.0" y2="405.5" stroke="#000099" stroke-width="1" />
<circle cx="1506.5" cy="405.5" r="8.6" fill="#000" shape-rendering="auto"/>
<line x1="1527.5" y1="186" x2="1527.5" y2="262.5" stroke="#000099" stroke-width="1" />
<line x1="1527.5" y1="278.5" x2="1527.5" y2="355" stroke="#000099" stroke-width="1" />
<line x1="1518.0" y1="270.5" x2="1519.5" y2="270.5" stroke="#000099" stroke-width="1" />
<line x1="1535.5" y1="270.5" x2="1537.0" y2="270.5" stroke="#000099" stroke-width="1" />
<circle cx="1527.5" cy="270.5" r="8.6" fill="#000" shape-rendering="auto"/>
<line x1="1548.5" y1="423" x2="1548.5" y2="481.5" stroke="#000099" stroke-width="1" />
<line x1="1548.5" y1="497.5" x2="1548.5" y2="556" stroke="#000099" stroke-width="1" />
<line x1="1536.0" y1="489.5" x2="1540.5" y2="489.5" stroke="#000099" stroke-width="1" />
<line x1="1556.5" y1="489.5" x2="1558.0" y2="489.5" stroke="#000099" stroke-width="1" />
<circle cx="1548.5" cy="489.5" r="8.6" fill="#000" shape-rendering="auto"/>
<line x1="1566.5" y1="462" x2="1566.5" y2="517.5" stroke="#000099" stroke-width="1" />
<line x1="1566.5" y1="533.5" x2="1566.5" y2="589" stroke="#000099" stroke-width="1" />
<line x1="1557.0" y1="525.5" x2="1558.5" y2="525.5" stroke="#000099" stroke-width="1" />
<line x1="1574.5" y1="525.5" x2="1579.0" y2="525.5" stroke="#000099" stroke-width="1" />
<circle cx="1566.5" cy="525.5" r="8.6" fill="#000" shape-rendering="auto"/>
<line x1="1587.5" y1="477" x2="1587.5" y2="529.5" stroke="#000099" stroke-width="1" />
<line x1="1587.5" y1="545.5" x2="1587.5" y2="601" stroke="#000099" stroke-width="1" />
<line x1="1578.0" y1="537.5" x2="1579.5" y2="537.5" stroke="#000099" stroke-width="1" />
<line x1="1595.5" y1="537.5" x2="1597.0" y2="537.5" stroke="#000099" stroke-width="1" />
<circle cx="1587.5" cy="537.5" r="8.6" fill="#000" shape-rendering="auto"/>
<line x1="1608.5" y1="477" x2="1608.5" y2="529.5" stroke="#000099" stroke-width="1" />
<line x1="1608.5" y1="545.5" x2="1608.5" y2="601" stroke="#000099" stroke-width="1" />
<line x1="1596.0" y1="537.5" x2="1600.5" y2="537.5" stroke="#000099" stroke-width="1" />
<line x1="1616.5" y1="537.5" x2="1618.0" y2="537.5" stroke="#000099" stroke-width="1" />
<circle cx="1608.5" cy="537.5" r="8.6" fill="#000" shape-rendering="auto"/>
<line x1="1626.5" y1="411" x2="1626.5" y2="469.5" stroke="#000099" stroke-width="1" />
<line x1="1626.5" y1="485.5" x2="1626.5" y2="547" stroke="#000099" stroke-width="1" />
<line x1="1617.0" y1="477.5" x2="1618.5" y2="477.5" stroke="#000099" stroke-width="1" />
<line x1="1634.5" y1="477.5" x2="1639.0" y2="477.5" stroke="#000099" stroke-width="1" />
<circle cx="1626.5" cy="477.5" r="8.6" fill="#000" shape-rendering="auto"/>
<line x1="1647.5" y1="543" x2="1647.5" y2="592.5" stroke="#000099" stroke-width="1" />
<line x1="1647.5" y1="608.5" x2="1647.5" y2="655" stroke="#000099" stroke-width="1" />
<line x1="1638.0" y1="600.5" x2="1639.5" y2="600.5" stroke="#000099" stroke-width="1" />
<line x1="1655.5" y1="600.5" x2="1657.0" y2="600.5" stroke="#000099" stroke-width="1" />
<circle cx="1647.5" cy="600.5" r="8.6" fill="#000" shape-rendering="auto"/>
<line x1="1668.5" y1="612" x2="1668.5" y2="652.5" stroke="#000099" stroke-width="1" />
<line x1="1668.5" y1="668.5" x2="1668.5" y2="709" stroke="#000099" stroke-width="1" />
<line x1="1656.0" y1="660.5" x2="1660.5" y2="660.5" stroke="#000099" stroke-width="1" />
<line x1="1676.5" y1="660.5" x2="1678.0" y2="660.5" stroke="#000099" stroke-width="1" />
<circle cx="1668.5" cy="660.5" r="8.6" fill="#000" shape-rendering="auto"/>
<line x1="1686.5" y1="612" x2="1686.5" y2="652.5" stroke="#000099" stroke-width="1" />
<line x1="1686.5" y1="668.5" x2="1686.5" y2="709" stroke="#000099" stroke-width="1" />
<line x1="1677.0" y1="660.5" x2="1678.5" y2="660.5" stroke="#000099" stroke-width="1" />
<line x1="1694.5" y1="660.5" x2="1699.0" y2="660.5" stroke="#000099" stroke-width="1" />
<circle cx="1686.5" cy="660.5" r="8.6" fill="#000" shape-rendering="auto"/>
<line x1="1707.5" y1="639" x2="1707.5" y2="676.5" stroke="#000099" stroke-width="1" />
<line x1="1707.5" y1="692.5" x2="1707.5" y2="730" stroke="#000099" stroke-width="1" />
<line x1="1698.0" y1="684.5" x2="1699.5" y2="684.5" stroke="#000099" stroke-width="1" />
<line x1="1715.5" y1="684.5" x2="1717.0" y2="684.5" stroke="#000099" stroke-width="1" />
<circle cx="1707.5" cy="684.5" r="8.6" fill="#000" shape-rendering="auto"/>
<line x1="1725.5" y1="639" x2="1725.5" y2="676.5" stroke="#000099" stroke-width="1" />
<line x1="1725.5" y1="692.5" x2="1725.5" y2="730" stroke="#000099" stroke-width="1" />
<line x1="1716.0" y1="684.5" x2="1717.5" y2="684.5" stroke="#000099" stroke-width="1" />
<line x1="1733.5" y1="684.5" x2="1738.0" y2="684.5" stroke="#000099" stroke-width="1" />
<circle cx="1725.5" cy="684.5" r="8.6" fill="#000" shape-rendering="auto"/>
<line x1="1746.5" y1="681" x2="1746.5" y2="712.5" stroke="#000099" stroke-width="1" />
<line x1="1746.5" y1="728.5" x2="1746.5" y2="763" stroke="#000099" stroke-width="1" />
<line x1="1737.0" y1="720.5" x2="1738.5" y2="720.5" stroke="#000099" stroke-width="1" />
<line x1="1754.5" y1="720.5" x2="1756.0" y2="720.5" stroke="#000099" stroke-width="1" />
<circle cx="1746.5" cy="720.5" r="8.6" fill="#000" shape-rendering="auto"/>
<line x1="1767.5" y1="750" x2="1767.5" y2="772.5" stroke="#000099" stroke-width="1" />
<line x1="1767.5" y1="788.5" x2="1767.5" y2="811" stroke="#000099" stroke-width="1" />
<line x1="1755.0" y1="780.5" x2="1759.5" y2="780.5" stroke="#000099" stroke-width="1" />
<line x1="1775.5" y1="780.5" x2="1777.0" y2="780.5" stroke="#000099" stroke-width="1" />
<circle cx="1767.5" cy="780.5" r="8.6" fill="#000" shape-rendering="auto"/>
<line x1="1785.5" y1="612" x2="1785.5" y2="652.5" stroke="#000099" stroke-width="1" />
<line x1="1785.5" y1="668.5" x2="1785.5" y2="709" stroke="#000099" stroke-width="1" />
<line x1="1776.0" y1="660.5" x2="1777.5" y2="660.5" stroke="#000099" stroke-width="1" />
<line x1="1793.5" y1="660.5" x2="1798.0" y2="660.5" stroke="#000099" stroke-width="1" />
<circle cx="1785.5" cy="660.5" r="8.6" fill="#000" shape-rendering="auto"/>
<line x1="1806.5" y1="765" x2="1806.5" y2="784.5" stroke="#000099" stroke-width="1" />
<line x1="1806.5" y1="800.5" x2="1806.5" y2="820" stroke="#000099" stroke-width="1" />
<line x1="1797.0" y1="792.5" x2="1798.5" y2="792.5" stroke="#000099" stroke-width="1" />
<line x1="1814.5" y1="792.5" x2="1816.0" y2="792.5" stroke="#000099" stroke-width="1" />
<circle cx="1806.5" cy="792.5" r="8.6" fill="#000" shape-rendering="auto"/>
<line x1="1827.5" y1="813" x2="1827.5" y2="823.5" stroke="#000099" stroke-width="1" />
<line x1="1827.5" y1="839.5" x2="1827.5" y2="847" stroke="#000099" stroke-width="1" />
<line x1="1815.0" y1="831.5" x2="1819.5" y2="831.5" stroke="#000099" stroke-width="1" />
<line x1="1835.5" y1="831.5" x2="1837.0" y2="831.5" stroke="#000099" stroke-width="1" />
<circle cx="1827.5" cy="831.5" r="8.6" fill="#000" shape-rendering="auto"/>
<line x1="1845.5" y1="708" x2="1845.5" y2="736.5" stroke="#000099" stroke-width="1" />
<line x1="1845.5" y1="752.5" x2="1845.5" y2="781" stroke="#000099" stroke-width="1" />
<line x1="1836.0" y1="744.5" x2="1837.5" y2="744.5" stroke="#000099" stroke-width="1" />
<line x1="1853.5" y1="744.5" x2="1858.0" y2="744.5" stroke="#000099" stroke-width="1" />
<circle cx="1845.5" cy="744.5" r="8.6" fill="#000" shape-rendering="auto"/>
<line x1="1866.5" y1="750" x2="1866.5" y2="772.5" stroke="#000099" stroke-width="1" />
<line x1="1866.5" y1="788.5" x2="1866.5" y2="811" stroke="#000099" stroke-width="1" />
<line x1="1857.0" y1="780.5" x2="1858.5" y2="780.5" stroke="#000099" stroke-width="1" />
<line x1="1874.5" y1="780.5" x2="1876.0" y2="780.5" stroke="#000099" stroke-width="1" />
<circle cx="1866.5" cy="780.5" r="8.6" fill="#000" shape-rendering="auto"/>
<line x1="1887.5" y1="765" x2="1887.5" y2="784.5" stroke="#000099" stroke-width="1" />
<line x1="1887.5" y1="800.5" x2="1887.5" y2="820" stroke="#000099" stroke-width="1" />
<line x1="1875.0" y1="792.5" x2="1879.5" y2="792.5" stroke="#000099" stroke-width="1" />
<line x1="1895.5" y1="792.5" x2="1897.0" y2="792.5" stroke="#000099" stroke-width="1" />
<circle cx="1887.5" cy="792.5" r="8.6" fill="#000" shape-rendering="auto"/>
<line x1="1905.5" y1="831" x2="1905.5" y2="835.5" stroke="#000099" stroke-width="1" />
<line x1="1905.5" y1="851.5" x2="1905.5" y2="856" stroke="#000099" stroke-width="1" />
<line x1="1896.0" y1="843.5" x2="1897.5" y2="843.5" stroke="#000099" stroke-width="1" />
<line x1="1913.5" y1="843.5" x2="1918.0" y2="843.5" stroke="#000099" stroke-width="1" />
<circle cx="1905.5" cy="843.5" r="8.6" fill="#000" shape-rendering="auto"/>
<line x1="1926.5" y1="831" x2="1926.5" y2="835.5" stroke="#000099" stroke-width="1" />
<line x1="1926.5" y1="851.5" x2="1926.5" y2="856" stroke="#000099" stroke-width="1" />
<line x1="1917.0" y1="843.5" x2="1918.5" y2="843.5" stroke="#000099" stroke-width="1" />
<line x1="1934.5" y1="843.5" x2="1936.0" y2="843.5" stroke="#000099" stroke-width="1" />
<circle cx="1926.5" cy="843.5" r="8.6" fill="#000" shape-rendering="auto"/>
</g>
<path d="M1158.5,855.5 L1179.5,855.5 L1179.5,855.5 L1197.5,855.5 L1197.5,855.5 L1218.5,855.5 L1218.5,855.5 L1239.5,855.5 L1239.5,855.5 L1257.5,855.5 L1257.5,855.5 L1278.5,855.5 L1278.5,855.5 L1299.5,855.5 L1299.5,855.5 L1317.5,855.5 L1317.5,855.5 L1338.5,855.5 L1338.5,855.5 L1359.5,855.5 L1359.5,855.5 L1377.5,855.5 L1377.5,855.5 L1398.5,855.5 L1398.5,855.5 L1416.5,855.5 L1416.5,855.5 L1437.5,855.5 L1437.5,855.5 L1458.5,855.5 L1458.5,855.5 L1476.5,855.5 L1476.5,855.5 L1497.5,855.5 L1497.5,843.5 L1518.5,843.5 L1518.5,843.5 L1536.5,843.5 L1536.5,855.5 L1557.5,855.5 L1557.5,843.5 L1578.5,843.5 L1578.5,855.5 L1596.5,855.5 L1596.5,855.5 L1617.5,855.5 L1617.5,855.5 L1638.5,855.5 L1638.5,855.5 L1656.5,855.5 L1656.5,843.5 L1677.5,843.5 L1677.5,855.5 L1698.5,855.5 L1698.5,843.5 L1716.5,843.5 L1716.5,843.5 L1737.5,843.5 L1737.5,855.5 L1755.5,855.5 L1755.5,855.5 L1776.5,855.5 L1776.5,855.5 L1797.5,855.5 L1797.5,855.5 L1815.5,855.5 L1815.5,843.5 L1836.5,843.5 L1836.5,855.5 L1857.5,855.5 L1857.5,855.5 L1875.5,855.5 L1875.5,831.5 L1896.5,831.5 L1896.5,855.5 L1917.5,855.5 L1917.5,843.5 L1935.5,843.5 L1935.5,855.5 L1956.5,855.5" fill="none" stroke="#ff0000" stroke-width="1" stroke-linejoin="miter"/>
<path d="M1158.5,855.5 L1179.5,855.5 L1179.5,855.5 L1197.5,855.5 L1197.5,843.5 L1218.5,843.5 L1218.5,843.5 L1239.5,843.5 L1239.5,831.5 L1257.5,831.5 L1257.5,804.5 L1278.5,804.5 L1278.5,843.5 L1299.5,843.5 L1299.5,804.5 L1317.5,804.5 L1317.5,780.5 L1338.5,780.5 L1338.5,831.5 L1359.5,831.5 L1359.5,720.5 L1377.5,720.5 L1377.5,768.5 L1398.5,768.5 L1398.5,708.5 L1416.5,708.5 L1416.5,732.5 L1437.5,732.5 L1437.5,756.5 L1458.5,756.5 L1458.5,660.5 L1476.5,660.5 L1476.5,660.5 L1497.5,660.5 L1497.5,684.5 L1518.5,684.5 L1518.5,537.5 L1536.5,537.5 L1536.5,648.5 L1557.5,648.5 L1557.5,720.5 L1578.5,720.5 L1578.5,708.5 L1596.5,708.5 L1596.5,708.5 L1617.5,708.5 L1617.5,624.5 L1638.5,624.5 L1638.5,672.5 L1656.5,672.5 L1656.5,756.5 L1677.5,756.5 L1677.5,756.5 L1698.5,756.5 L1698.5,756.5 L1716.5,756.5 L1716.5,792.5 L1737.5,792.5 L1737.5,792.5 L1755.5,792.5 L1755.5,804.5 L1776.5,804.5 L1776.5,720.5 L1797.5,720.5 L1797.5,831.5 L1815.5,831.5 L1815.5,855.5 L1836.5,855.5 L1836.5,804.5 L1857.5,804.5 L1857.5,804.5 L1875.5,804.5 L1875.5,831.5 L1896.5,831.5 L1896.5,855.5 L1917.5,855.5 L1917.5,855.5 L1935.5,855.5 L1935.5,855.5 L1956.5,855.5" fill="none" stroke="#00ff00" stroke-width="1" stroke-linejoin="miter"/>
<path d="M1158.5,417.5 L1179.5,417.5 L1179.5,330.5 L1197.5,330.5 L1197.5,441.5 L1218.5,441.5 L1218.5,405.5 L1239.5,405.5 L1239.5,405.5 L1257.5,405.5 L1257.5,453.5 L1278.5,453.5 L1278.5,636.5 L1299.5,636.5 L1299.5,501.5 L1317.5,501.5 L1317.5,453.5 L1338.5,453.5 L1338.5,501.5 L1359.5,501.5 L1359.5,453.5 L1377.5,453.5 L1377.5,477.5 L1398.5,477.5 L1398.5,588.5 L1416.5,588.5 L1416.5,489.5 L1437.5,489.5 L1437.5,573.5 L1458.5,573.5 L1458.5,429.5 L1476.5,429.5 L1476.5,513.5 L1497.5,513.5 L1497.5,588.5 L1518.5,588.5 L1518.5,600.5 L1536.5,600.5 L1536.5,696.5 L1557.5,696.5 L1557.5,672.5 L1578.5,672.5 L1578.5,684.5 L1596.5,684.5 L1596.5,684.5 L1617.5,684.5 L1617.5,708.5 L1638.5,708.5 L1638.5,780.5 L1656.5,780.5 L1656.5,768.5 L1677.5,768.5 L1677.5,756.5 L1698.5,756.5 L1698.5,792.5 L1716.5,792.5 L1716.5,756.5 L1737.5,756.5 L1737.5,780.5 L1755.5,780.5 L1755.5,831.5 L1776.5,831.5 L1776.5,792.5 L1797.5,792.5 L1797.5,816.5 L1815.5,816.5 L1815.5,843.5 L1836.5,843.5 L1836.5,792.5 L1857.5,792.5 L1857.5,831.5 L1875.5,831.5 L1875.5,843.5 L1896.5,843.5 L1896.5,843.5 L1917.5,843.5 L1917.5,855.5 L1935.5,855.5 L1935.5,855.5 L1956.5,855.5" fill="none" stroke="#0000ff" stroke-width="1" stroke-linejoin="miter"/>
<rect x="120.5" y="1077.5" width="798" height="744" fill="none" stroke="#000" stroke-width="1"/>
<line x1="120.5" y1="1821.5" x2="120.5" y2="1797.5" stroke="#000" stroke-width="1" />
<text transform="translate(119.5,1852.0) scale(1,1.07)" text-anchor="middle" class="lab">0</text>
<line x1="147.5" y1="1821.5" x2="147.5" y2="1809.5" stroke="#000" stroke-width="1" />
<line x1="171.5" y1="1821.5" x2="171.5" y2="1809.5" stroke="#000" stroke-width="1" />
<line x1="198.5" y1="1821.5" x2="198.5" y2="1809.5" stroke="#000" stroke-width="1" />
<line x1="222.5" y1="1821.5" x2="222.5" y2="1809.5" stroke="#000" stroke-width="1" />
<line x1="246.5" y1="1821.5" x2="246.5" y2="1797.5" stroke="#000" stroke-width="1" />
<text transform="translate(245.5,1852.0) scale(1,1.07)" text-anchor="middle" class="lab">0.5</text>
<line x1="273.5" y1="1821.5" x2="273.5" y2="1809.5" stroke="#000" stroke-width="1" />
<line x1="297.5" y1="1821.5" x2="297.5" y2="1809.5" stroke="#000" stroke-width="1" />
<line x1="324.5" y1="1821.5" x2="324.5" y2="1809.5" stroke="#000" stroke-width="1" />
<line x1="348.5" y1="1821.5" x2="348.5" y2="1809.5" stroke="#000" stroke-width="1" />
<line x1="375.5" y1="1821.5" x2="375.5" y2="1797.5" stroke="#000" stroke-width="1" />
<text transform="translate(374.5,1852.0) scale(1,1.07)" text-anchor="middle" class="lab">1</text>
<line x1="399.5" y1="1821.5" x2="399.5" y2="1809.5" stroke="#000" stroke-width="1" />
<line x1="426.5" y1="1821.5" x2="426.5" y2="1809.5" stroke="#000" stroke-width="1" />
<line x1="450.5" y1="1821.5" x2="450.5" y2="1809.5" stroke="#000" stroke-width="1" />
<line x1="477.5" y1="1821.5" x2="477.5" y2="1809.5" stroke="#000" stroke-width="1" />
<line x1="501.5" y1="1821.5" x2="501.5" y2="1797.5" stroke="#000" stroke-width="1" />
<text transform="translate(500.5,1852.0) scale(1,1.07)" text-anchor="middle" class="lab">1.5</text>
<line x1="525.5" y1="1821.5" x2="525.5" y2="1809.5" stroke="#000" stroke-width="1" />
<line x1="552.5" y1="1821.5" x2="552.5" y2="1809.5" stroke="#000" stroke-width="1" />
<line x1="576.5" y1="1821.5" x2="576.5" y2="1809.5" stroke="#000" stroke-width="1" />
<line x1="603.5" y1="1821.5" x2="603.5" y2="1809.5" stroke="#000" stroke-width="1" />
<line x1="627.5" y1="1821.5" x2="627.5" y2="1797.5" stroke="#000" stroke-width="1" />
<text transform="translate(626.5,1852.0) scale(1,1.07)" text-anchor="middle" class="lab">2</text>
<line x1="654.5" y1="1821.5" x2="654.5" y2="1809.5" stroke="#000" stroke-width="1" />
<line x1="678.5" y1="1821.5" x2="678.5" y2="1809.5" stroke="#000" stroke-width="1" />
<line x1="705.5" y1="1821.5" x2="705.5" y2="1809.5" stroke="#000" stroke-width="1" />
<line x1="729.5" y1="1821.5" x2="729.5" y2="1809.5" stroke="#000" stroke-width="1" />
<line x1="756.5" y1="1821.5" x2="756.5" y2="1797.5" stroke="#000" stroke-width="1" />
<text transform="translate(755.5,1852.0) scale(1,1.07)" text-anchor="middle" class="lab">2.5</text>
<line x1="780.5" y1="1821.5" x2="780.5" y2="1809.5" stroke="#000" stroke-width="1" />
<line x1="807.5" y1="1821.5" x2="807.5" y2="1809.5" stroke="#000" stroke-width="1" />
<line x1="831.5" y1="1821.5" x2="831.5" y2="1809.5" stroke="#000" stroke-width="1" />
<line x1="855.5" y1="1821.5" x2="855.5" y2="1809.5" stroke="#000" stroke-width="1" />
<line x1="882.5" y1="1821.5" x2="882.5" y2="1797.5" stroke="#000" stroke-width="1" />
<text transform="translate(881.5,1852.0) scale(1,1.07)" text-anchor="middle" class="lab">3</text>
<line x1="906.5" y1="1821.5" x2="906.5" y2="1809.5" stroke="#000" stroke-width="1" />
<line x1="120.5" y1="1821.5" x2="145.0" y2="1821.5" stroke="#000" stroke-width="1" />
<text transform="translate(113.0,1834.0) scale(1,1.07)" text-anchor="end" class="lab">0</text>
<line x1="120.5" y1="1800.5" x2="133.0" y2="1800.5" stroke="#000" stroke-width="1" />
<line x1="120.5" y1="1782.5" x2="133.0" y2="1782.5" stroke="#000" stroke-width="1" />
<line x1="120.5" y1="1761.5" x2="133.0" y2="1761.5" stroke="#000" stroke-width="1" />
<line x1="120.5" y1="1740.5" x2="133.0" y2="1740.5" stroke="#000" stroke-width="1" />
<line x1="120.5" y1="1722.5" x2="145.0" y2="1722.5" stroke="#000" stroke-width="1" />
<text transform="translate(114.5,1735.0) scale(1,1.07)" text-anchor="end" class="lab">10</text>
<line x1="120.5" y1="1701.5" x2="133.0" y2="1701.5" stroke="#000" stroke-width="1" />
<line x1="120.5" y1="1683.5" x2="133.0" y2="1683.5" stroke="#000" stroke-width="1" />
<line x1="120.5" y1="1662.5" x2="133.0" y2="1662.5" stroke="#000" stroke-width="1" />
<line x1="120.5" y1="1644.5" x2="133.0" y2="1644.5" stroke="#000" stroke-width="1" />
<line x1="120.5" y1="1623.5" x2="145.0" y2="1623.5" stroke="#000" stroke-width="1" />
<text transform="translate(114.5,1636.0) scale(1,1.07)" text-anchor="end" class="lab">20</text>
<line x1="120.5" y1="1605.5" x2="133.0" y2="1605.5" stroke="#000" stroke-width="1" />
<line x1="120.5" y1="1584.5" x2="133.0" y2="1584.5" stroke="#000" stroke-width="1" />
<line x1="120.5" y1="1566.5" x2="133.0" y2="1566.5" stroke="#000" stroke-width="1" />
<line x1="120.5" y1="1545.5" x2="133.0" y2="1545.5" stroke="#000" stroke-width="1" />
<line x1="120.5" y1="1527.5" x2="145.0" y2="1527.5" stroke="#000" stroke-width="1" />
<text transform="translate(114.5,1540.0) scale(1,1.07)" text-anchor="end" class="lab">30</text>
<line x1="120.5" y1="1506.5" x2="133.0" y2="1506.5" stroke="#000" stroke-width="1" />
<line x1="120.5" y1="1485.5" x2="133.0" y2="1485.5" stroke="#000" stroke-width="1" />
<line x1="120.5" y1="1467.5" x2="133.0" y2="1467.5" stroke="#000" stroke-width="1" />
<line x1="120.5" y1="1446.5" x2="133.0" y2="1446.5" stroke="#000" stroke-width="1" />
<line x1="120.5" y1="1428.5" x2="145.0" y2="1428.5" stroke="#000" stroke-width="1" />
<text transform="translate(114.5,1441.0) scale(1,1.07)" text-anchor="end" class="lab">40</text>
<line x1="120.5" y1="1407.5" x2="133.0" y2="1407.5" stroke="#000" stroke-width="1" />
<line x1="120.5" y1="1389.5" x2="133.0" y2="1389.5" stroke="#000" stroke-width="1" />
<line x1="120.5" y1="1368.5" x2="133.0" y2="1368.5" stroke="#000" stroke-width="1" />
<line x1="120.5" y1="1350.5" x2="133.0" y2="1350.5" stroke="#000" stroke-width="1" />
<line x1="120.5" y1="1329.5" x2="145.0" y2="1329.5" stroke="#000" stroke-width="1" />
<text transform="translate(114.5,1342.0) scale(1,1.07)" text-anchor="end" class="lab">50</text>
<line x1="120.5" y1="1311.5" x2="133.0" y2="1311.5" stroke="#000" stroke-width="1" />
<line x1="120.5" y1="1290.5" x2="133.0" y2="1290.5" stroke="#000" stroke-width="1" />
<line x1="120.5" y1="1269.5" x2="133.0" y2="1269.5" stroke="#000" stroke-width="1" />
<line x1="120.5" y1="1251.5" x2="133.0" y2="1251.5" stroke="#000" stroke-width="1" />
<line x1="120.5" y1="1230.5" x2="145.0" y2="1230.5" stroke="#000" stroke-width="1" />
<text transform="translate(114.5,1243.0) scale(1,1.07)" text-anchor="end" class="lab">60</text>
<line x1="120.5" y1="1212.5" x2="133.0" y2="1212.5" stroke="#000" stroke-width="1" />
<line x1="120.5" y1="1191.5" x2="133.0" y2="1191.5" stroke="#000" stroke-width="1" />
<line x1="120.5" y1="1173.5" x2="133.0" y2="1173.5" stroke="#000" stroke-width="1" />
<line x1="120.5" y1="1152.5" x2="133.0" y2="1152.5" stroke="#000" stroke-width="1" />
<line x1="120.5" y1="1134.5" x2="145.0" y2="1134.5" stroke="#000" stroke-width="1" />
<text transform="translate(114.5,1147.0) scale(1,1.07)" text-anchor="end" class="lab">70</text>
<line x1="120.5" y1="1113.5" x2="133.0" y2="1113.5" stroke="#000" stroke-width="1" />
<line x1="120.5" y1="1095.5" x2="133.0" y2="1095.5" stroke="#000" stroke-width="1" />
<text x="185.5" y="1032" textLength="650" lengthAdjust="spacing" style="font-size:35px">MC generated samples with fit predictions</text>
<text x="918.5" y="1884.5" text-anchor="end" class="lab">x</text>
<g clip-path="url(#c3)">
<line x1="189.5" y1="1785" x2="189.5" y2="1792.5" stroke="#ff0000" stroke-width="1" />
<line x1="189.5" y1="1808.5" x2="189.5" y2="1816" stroke="#ff0000" stroke-width="1" />
<line x1="180.0" y1="1800.5" x2="181.5" y2="1800.5" stroke="#ff0000" stroke-width="1" />
<line x1="197.5" y1="1800.5" x2="202.0" y2="1800.5" stroke="#ff0000" stroke-width="1" />
<circle cx="189.5" cy="1800.5" r="8" fill="none" stroke="#ff0000" stroke-width="1" shape-rendering="auto"/>
<line x1="189.5" y1="1792.5" x2="189.5" y2="1795.5" stroke="#ff0000" stroke-width="1" />
<line x1="189.5" y1="1805.5" x2="189.5" y2="1808.5" stroke="#ff0000" stroke-width="1" />
<line x1="181.5" y1="1800.5" x2="184.5" y2="1800.5" stroke="#ff0000" stroke-width="1" />
<line x1="194.5" y1="1800.5" x2="197.5" y2="1800.5" stroke="#ff0000" stroke-width="1" />
<line x1="210.5" y1="1785" x2="210.5" y2="1792.5" stroke="#ff0000" stroke-width="1" />
<line x1="210.5" y1="1808.5" x2="210.5" y2="1816" stroke="#ff0000" stroke-width="1" />
<line x1="201.0" y1="1800.5" x2="202.5" y2="1800.5" stroke="#ff0000" stroke-width="1" />
<line x1="218.5" y1="1800.5" x2="220.0" y2="1800.5" stroke="#ff0000" stroke-width="1" />
<circle cx="210.5" cy="1800.5" r="8" fill="none" stroke="#ff0000" stroke-width="1" shape-rendering="auto"/>
<line x1="210.5" y1="1792.5" x2="210.5" y2="1795.5" stroke="#ff0000" stroke-width="1" />
<line x1="210.5" y1="1805.5" x2="210.5" y2="1808.5" stroke="#ff0000" stroke-width="1" />
<line x1="202.5" y1="1800.5" x2="205.5" y2="1800.5" stroke="#ff0000" stroke-width="1" />
<line x1="215.5" y1="1800.5" x2="218.5" y2="1800.5" stroke="#ff0000" stroke-width="1" />
<line x1="231.5" y1="1773" x2="231.5" y2="1783.5" stroke="#ff0000" stroke-width="1" />
<line x1="231.5" y1="1799.5" x2="231.5" y2="1810" stroke="#ff0000" stroke-width="1" />
<line x1="219.0" y1="1791.5" x2="223.5" y2="1791.5" stroke="#ff0000" stroke-width="1" />
<line x1="239.5" y1="1791.5" x2="241.0" y2="1791.5" stroke="#ff0000" stroke-width="1" />
<circle cx="231.5" cy="1791.5" r="8" fill="none" stroke="#ff0000" stroke-width="1" shape-rendering="auto"/>
<line x1="231.5" y1="1783.5" x2="231.5" y2="1786.5" stroke="#ff0000" stroke-width="1" />
<line x1="231.5" y1="1796.5" x2="231.5" y2="1799.5" stroke="#ff0000" stroke-width="1" />
<line x1="223.5" y1="1791.5" x2="226.5" y2="1791.5" stroke="#ff0000" stroke-width="1" />
<line x1="236.5" y1="1791.5" x2="239.5" y2="1791.5" stroke="#ff0000" stroke-width="1" />
<line x1="249.5" y1="1773" x2="249.5" y2="1783.5" stroke="#ff0000" stroke-width="1" />
<line x1="249.5" y1="1799.5" x2="249.5" y2="1810" stroke="#ff0000" stroke-width="1" />
<line x1="240.0" y1="1791.5" x2="241.5" y2="1791.5" stroke="#ff0000" stroke-width="1" />
<line x1="257.5" y1="1791.5" x2="262.0" y2="1791.5" stroke="#ff0000" stroke-width="1" />
<circle cx="249.5" cy="1791.5" r="8" fill="none" stroke="#ff0000" stroke-width="1" shape-rendering="auto"/>
<line x1="249.5" y1="1783.5" x2="249.5" y2="1786.5" stroke="#ff0000" stroke-width="1" />
<line x1="249.5" y1="1796.5" x2="249.5" y2="1799.5" stroke="#ff0000" stroke-width="1" />
<line x1="241.5" y1="1791.5" x2="244.5" y2="1791.5" stroke="#ff0000" stroke-width="1" />
<line x1="254.5" y1="1791.5" x2="257.5" y2="1791.5" stroke="#ff0000" stroke-width="1" />
<line x1="270.5" y1="1725" x2="270.5" y2="1744.5" stroke="#ff0000" stroke-width="1" />
<line x1="270.5" y1="1760.5" x2="270.5" y2="1777" stroke="#ff0000" stroke-width="1" />
<line x1="261.0" y1="1752.5" x2="262.5" y2="1752.5" stroke="#ff0000" stroke-width="1" />
<line x1="278.5" y1="1752.5" x2="280.0" y2="1752.5" stroke="#ff0000" stroke-width="1" />
<circle cx="270.5" cy="1752.5" r="8" fill="none" stroke="#ff0000" stroke-width="1" shape-rendering="auto"/>
<line x1="270.5" y1="1744.5" x2="270.5" y2="1747.5" stroke="#ff0000" stroke-width="1" />
<line x1="270.5" y1="1757.5" x2="270.5" y2="1760.5" stroke="#ff0000" stroke-width="1" />
<line x1="262.5" y1="1752.5" x2="265.5" y2="1752.5" stroke="#ff0000" stroke-width="1" />
<line x1="275.5" y1="1752.5" x2="278.5" y2="1752.5" stroke="#ff0000" stroke-width="1" />
<line x1="291.5" y1="1773" x2="291.5" y2="1783.5" stroke="#ff0000" stroke-width="1" />
<line x1="291.5" y1="1799.5" x2="291.5" y2="1810" stroke="#ff0000" stroke-width="1" />
<line x1="279.0" y1="1791.5" x2="283.5" y2="1791.5" stroke="#ff0000" stroke-width="1" />
<line x1="299.5" y1="1791.5" x2="301.0" y2="1791.5" stroke="#ff0000" stroke-width="1" />
<circle cx="291.5" cy="1791.5" r="8" fill="none" stroke="#ff0000" stroke-width="1" shape-rendering="auto"/>
<line x1="291.5" y1="1783.5" x2="291.5" y2="1786.5" stroke="#ff0000" stroke-width="1" />
<line x1="291.5" y1="1796.5" x2="291.5" y2="1799.5" stroke="#ff0000" stroke-width="1" />
<line x1="283.5" y1="1791.5" x2="286.5" y2="1791.5" stroke="#ff0000" stroke-width="1" />
<line x1="296.5" y1="1791.5" x2="299.5" y2="1791.5" stroke="#ff0000" stroke-width="1" />
<line x1="309.5" y1="1749" x2="309.5" y2="1762.5" stroke="#ff0000" stroke-width="1" />
<line x1="309.5" y1="1778.5" x2="309.5" y2="1795" stroke="#ff0000" stroke-width="1" />
<line x1="300.0" y1="1770.5" x2="301.5" y2="1770.5" stroke="#ff0000" stroke-width="1" />
<line x1="317.5" y1="1770.5" x2="322.0" y2="1770.5" stroke="#ff0000" stroke-width="1" />
<circle cx="309.5" cy="1770.5" r="8" fill="none" stroke="#ff0000" stroke-width="1" shape-rendering="auto"/>
<line x1="309.5" y1="1762.5" x2="309.5" y2="1765.5" stroke="#ff0000" stroke-width="1" />
<line x1="309.5" y1="1775.5" x2="309.5" y2="1778.5" stroke="#ff0000" stroke-width="1" />
<line x1="301.5" y1="1770.5" x2="304.5" y2="1770.5" stroke="#ff0000" stroke-width="1" />
<line x1="314.5" y1="1770.5" x2="317.5" y2="1770.5" stroke="#ff0000" stroke-width="1" />
<line x1="330.5" y1="1692" x2="330.5" y2="1714.5" stroke="#ff0000" stroke-width="1" />
<line x1="330.5" y1="1730.5" x2="330.5" y2="1753" stroke="#ff0000" stroke-width="1" />
<line x1="321.0" y1="1722.5" x2="322.5" y2="1722.5" stroke="#ff0000" stroke-width="1" />
<line x1="338.5" y1="1722.5" x2="340.0" y2="1722.5" stroke="#ff0000" stroke-width="1" />
<circle cx="330.5" cy="1722.5" r="8" fill="none" stroke="#ff0000" stroke-width="1" shape-rendering="auto"/>
<line x1="330.5" y1="1714.5" x2="330.5" y2="1717.5" stroke="#ff0000" stroke-width="1" />
<line x1="330.5" y1="1727.5" x2="330.5" y2="1730.5" stroke="#ff0000" stroke-width="1" />
<line x1="322.5" y1="1722.5" x2="325.5" y2="1722.5" stroke="#ff0000" stroke-width="1" />
<line x1="335.5" y1="1722.5" x2="338.5" y2="1722.5" stroke="#ff0000" stroke-width="1" />
<line x1="351.5" y1="1668" x2="351.5" y2="1693.5" stroke="#ff0000" stroke-width="1" />
<line x1="351.5" y1="1709.5" x2="351.5" y2="1738" stroke="#ff0000" stroke-width="1" />
<line x1="339.0" y1="1701.5" x2="343.5" y2="1701.5" stroke="#ff0000" stroke-width="1" />
<line x1="359.5" y1="1701.5" x2="361.0" y2="1701.5" stroke="#ff0000" stroke-width="1" />
<circle cx="351.5" cy="1701.5" r="8" fill="none" stroke="#ff0000" stroke-width="1" shape-rendering="auto"/>
<line x1="351.5" y1="1693.5" x2="351.5" y2="1696.5" stroke="#ff0000" stroke-width="1" />
<line x1="351.5" y1="1706.5" x2="351.5" y2="1709.5" stroke="#ff0000" stroke-width="1" />
<line x1="343.5" y1="1701.5" x2="346.5" y2="1701.5" stroke="#ff0000" stroke-width="1" />
<line x1="356.5" y1="1701.5" x2="359.5" y2="1701.5" stroke="#ff0000" stroke-width="1" />
<line x1="369.5" y1="1680" x2="369.5" y2="1705.5" stroke="#ff0000" stroke-width="1" />
<line x1="369.5" y1="1721.5" x2="369.5" y2="1747" stroke="#ff0000" stroke-width="1" />
<line x1="360.0" y1="1713.5" x2="361.5" y2="1713.5" stroke="#ff0000" stroke-width="1" />
<line x1="377.5" y1="1713.5" x2="379.0" y2="1713.5" stroke="#ff0000" stroke-width="1" />
<circle cx="369.5" cy="1713.5" r="8" fill="none" stroke="#ff0000" stroke-width="1" shape-rendering="auto"/>
<line x1="369.5" y1="1705.5" x2="369.5" y2="1708.5" stroke="#ff0000" stroke-width="1" />
<line x1="369.5" y1="1718.5" x2="369.5" y2="1721.5" stroke="#ff0000" stroke-width="1" />
<line x1="361.5" y1="1713.5" x2="364.5" y2="1713.5" stroke="#ff0000" stroke-width="1" />
<line x1="374.5" y1="1713.5" x2="377.5" y2="1713.5" stroke="#ff0000" stroke-width="1" />
<line x1="390.5" y1="1623" x2="390.5" y2="1654.5" stroke="#ff0000" stroke-width="1" />
<line x1="390.5" y1="1670.5" x2="390.5" y2="1702" stroke="#ff0000" stroke-width="1" />
<line x1="378.0" y1="1662.5" x2="382.5" y2="1662.5" stroke="#ff0000" stroke-width="1" />
<line x1="398.5" y1="1662.5" x2="400.0" y2="1662.5" stroke="#ff0000" stroke-width="1" />
<circle cx="390.5" cy="1662.5" r="8" fill="none" stroke="#ff0000" stroke-width="1" shape-rendering="auto"/>
<line x1="390.5" y1="1654.5" x2="390.5" y2="1657.5" stroke="#ff0000" stroke-width="1" />
<line x1="390.5" y1="1667.5" x2="390.5" y2="1670.5" stroke="#ff0000" stroke-width="1" />
<line x1="382.5" y1="1662.5" x2="385.5" y2="1662.5" stroke="#ff0000" stroke-width="1" />
<line x1="395.5" y1="1662.5" x2="398.5" y2="1662.5" stroke="#ff0000" stroke-width="1" />
<line x1="408.5" y1="1713" x2="408.5" y2="1732.5" stroke="#ff0000" stroke-width="1" />
<line x1="408.5" y1="1748.5" x2="408.5" y2="1771" stroke="#ff0000" stroke-width="1" />
<line x1="399.0" y1="1740.5" x2="400.5" y2="1740.5" stroke="#ff0000" stroke-width="1" />
<line x1="416.5" y1="1740.5" x2="421.0" y2="1740.5" stroke="#ff0000" stroke-width="1" />
<circle cx="408.5" cy="1740.5" r="8" fill="none" stroke="#ff0000" stroke-width="1" shape-rendering="auto"/>
<line x1="408.5" y1="1732.5" x2="408.5" y2="1735.5" stroke="#ff0000" stroke-width="1" />
<line x1="408.5" y1="1745.5" x2="408.5" y2="1748.5" stroke="#ff0000" stroke-width="1" />
<line x1="400.5" y1="1740.5" x2="403.5" y2="1740.5" stroke="#ff0000" stroke-width="1" />
<line x1="413.5" y1="1740.5" x2="416.5" y2="1740.5" stroke="#ff0000" stroke-width="1" />
<line x1="429.5" y1="1602" x2="429.5" y2="1636.5" stroke="#ff0000" stroke-width="1" />
<line x1="429.5" y1="1652.5" x2="429.5" y2="1687" stroke="#ff0000" stroke-width="1" />
<line x1="420.0" y1="1644.5" x2="421.5" y2="1644.5" stroke="#ff0000" stroke-width="1" />
<line x1="437.5" y1="1644.5" x2="439.0" y2="1644.5" stroke="#ff0000" stroke-width="1" />
<circle cx="429.5" cy="1644.5" r="8" fill="none" stroke="#ff0000" stroke-width="1" shape-rendering="auto"/>
<line x1="429.5" y1="1636.5" x2="429.5" y2="1639.5" stroke="#ff0000" stroke-width="1" />
<line x1="429.5" y1="1649.5" x2="429.5" y2="1652.5" stroke="#ff0000" stroke-width="1" />
<line x1="421.5" y1="1644.5" x2="424.5" y2="1644.5" stroke="#ff0000" stroke-width="1" />
<line x1="434.5" y1="1644.5" x2="437.5" y2="1644.5" stroke="#ff0000" stroke-width="1" />
<line x1="450.5" y1="1656" x2="450.5" y2="1684.5" stroke="#ff0000" stroke-width="1" />
<line x1="450.5" y1="1700.5" x2="450.5" y2="1729" stroke="#ff0000" stroke-width="1" />
<line x1="438.0" y1="1692.5" x2="442.5" y2="1692.5" stroke="#ff0000" stroke-width="1" />
<line x1="458.5" y1="1692.5" x2="460.0" y2="1692.5" stroke="#ff0000" stroke-width="1" />
<circle cx="450.5" cy="1692.5" r="8" fill="none" stroke="#ff0000" stroke-width="1" shape-rendering="auto"/>
<line x1="450.5" y1="1684.5" x2="450.5" y2="1687.5" stroke="#ff0000" stroke-width="1" />
<line x1="450.5" y1="1697.5" x2="450.5" y2="1700.5" stroke="#ff0000" stroke-width="1" />
<line x1="442.5" y1="1692.5" x2="445.5" y2="1692.5" stroke="#ff0000" stroke-width="1" />
<line x1="455.5" y1="1692.5" x2="458.5" y2="1692.5" stroke="#ff0000" stroke-width="1" />
<line x1="468.5" y1="1548" x2="468.5" y2="1585.5" stroke="#ff0000" stroke-width="1" />
<line x1="468.5" y1="1601.5" x2="468.5" y2="1642" stroke="#ff0000" stroke-width="1" />
<line x1="459.0" y1="1593.5" x2="460.5" y2="1593.5" stroke="#ff0000" stroke-width="1" />
<line x1="476.5" y1="1593.5" x2="481.0" y2="1593.5" stroke="#ff0000" stroke-width="1" />
<circle cx="468.5" cy="1593.5" r="8" fill="none" stroke="#ff0000" stroke-width="1" shape-rendering="auto"/>
<line x1="468.5" y1="1585.5" x2="468.5" y2="1588.5" stroke="#ff0000" stroke-width="1" />
<line x1="468.5" y1="1598.5" x2="468.5" y2="1601.5" stroke="#ff0000" stroke-width="1" />
<line x1="460.5" y1="1593.5" x2="463.5" y2="1593.5" stroke="#ff0000" stroke-width="1" />
<line x1="473.5" y1="1593.5" x2="476.5" y2="1593.5" stroke="#ff0000" stroke-width="1" />
<line x1="489.5" y1="1557" x2="489.5" y2="1597.5" stroke="#ff0000" stroke-width="1" />
<line x1="489.5" y1="1613.5" x2="489.5" y2="1651" stroke="#ff0000" stroke-width="1" />
<line x1="480.0" y1="1605.5" x2="481.5" y2="1605.5" stroke="#ff0000" stroke-width="1" />
<line x1="497.5" y1="1605.5" x2="499.0" y2="1605.5" stroke="#ff0000" stroke-width="1" />
<circle cx="489.5" cy="1605.5" r="8" fill="none" stroke="#ff0000" stroke-width="1" shape-rendering="auto"/>
<line x1="489.5" y1="1597.5" x2="489.5" y2="1600.5" stroke="#ff0000" stroke-width="1" />
<line x1="489.5" y1="1610.5" x2="489.5" y2="1613.5" stroke="#ff0000" stroke-width="1" />
<line x1="481.5" y1="1605.5" x2="484.5" y2="1605.5" stroke="#ff0000" stroke-width="1" />
<line x1="494.5" y1="1605.5" x2="497.5" y2="1605.5" stroke="#ff0000" stroke-width="1" />
<line x1="510.5" y1="1557" x2="510.5" y2="1597.5" stroke="#ff0000" stroke-width="1" />
<line x1="510.5" y1="1613.5" x2="510.5" y2="1651" stroke="#ff0000" stroke-width="1" />
<line x1="498.0" y1="1605.5" x2="502.5" y2="1605.5" stroke="#ff0000" stroke-width="1" />
<line x1="518.5" y1="1605.5" x2="520.0" y2="1605.5" stroke="#ff0000" stroke-width="1" />
<circle cx="510.5" cy="1605.5" r="8" fill="none" stroke="#ff0000" stroke-width="1" shape-rendering="auto"/>
<line x1="510.5" y1="1597.5" x2="510.5" y2="1600.5" stroke="#ff0000" stroke-width="1" />
<line x1="510.5" y1="1610.5" x2="510.5" y2="1613.5" stroke="#ff0000" stroke-width="1" />
<line x1="502.5" y1="1605.5" x2="505.5" y2="1605.5" stroke="#ff0000" stroke-width="1" />
<line x1="515.5" y1="1605.5" x2="518.5" y2="1605.5" stroke="#ff0000" stroke-width="1" />
<line x1="528.5" y1="1461" x2="528.5" y2="1507.5" stroke="#ff0000" stroke-width="1" />
<line x1="528.5" y1="1523.5" x2="528.5" y2="1570" stroke="#ff0000" stroke-width="1" />
<line x1="519.0" y1="1515.5" x2="520.5" y2="1515.5" stroke="#ff0000" stroke-width="1" />
<line x1="536.5" y1="1515.5" x2="541.0" y2="1515.5" stroke="#ff0000" stroke-width="1" />
<circle cx="528.5" cy="1515.5" r="8" fill="none" stroke="#ff0000" stroke-width="1" shape-rendering="auto"/>
<line x1="528.5" y1="1507.5" x2="528.5" y2="1510.5" stroke="#ff0000" stroke-width="1" />
<line x1="528.5" y1="1520.5" x2="528.5" y2="1523.5" stroke="#ff0000" stroke-width="1" />
<line x1="520.5" y1="1515.5" x2="523.5" y2="1515.5" stroke="#ff0000" stroke-width="1" />
<line x1="533.5" y1="1515.5" x2="536.5" y2="1515.5" stroke="#ff0000" stroke-width="1" />
<line x1="549.5" y1="1494" x2="549.5" y2="1537.5" stroke="#ff0000" stroke-width="1" />
<line x1="549.5" y1="1553.5" x2="549.5" y2="1597" stroke="#ff0000" stroke-width="1" />
<line x1="540.0" y1="1545.5" x2="541.5" y2="1545.5" stroke="#ff0000" stroke-width="1" />
<line x1="557.5" y1="1545.5" x2="559.0" y2="1545.5" stroke="#ff0000" stroke-width="1" />
<circle cx="549.5" cy="1545.5" r="8" fill="none" stroke="#ff0000" stroke-width="1" shape-rendering="auto"/>
<line x1="549.5" y1="1537.5" x2="549.5" y2="1540.5" stroke="#ff0000" stroke-width="1" />
<line x1="549.5" y1="1550.5" x2="549.5" y2="1553.5" stroke="#ff0000" stroke-width="1" />
<line x1="541.5" y1="1545.5" x2="544.5" y2="1545.5" stroke="#ff0000" stroke-width="1" />
<line x1="554.5" y1="1545.5" x2="557.5" y2="1545.5" stroke="#ff0000" stroke-width="1" />
<line x1="570.5" y1="1440" x2="570.5" y2="1489.5" stroke="#ff0000" stroke-width="1" />
<line x1="570.5" y1="1505.5" x2="570.5" y2="1552" stroke="#ff0000" stroke-width="1" />
<line x1="558.0" y1="1497.5" x2="562.5" y2="1497.5" stroke="#ff0000" stroke-width="1" />
<line x1="578.5" y1="1497.5" x2="580.0" y2="1497.5" stroke="#ff0000" stroke-width="1" />
<circle cx="570.5" cy="1497.5" r="8" fill="none" stroke="#ff0000" stroke-width="1" shape-rendering="auto"/>
<line x1="570.5" y1="1489.5" x2="570.5" y2="1492.5" stroke="#ff0000" stroke-width="1" />
<line x1="570.5" y1="1502.5" x2="570.5" y2="1505.5" stroke="#ff0000" stroke-width="1" />
<line x1="562.5" y1="1497.5" x2="565.5" y2="1497.5" stroke="#ff0000" stroke-width="1" />
<line x1="575.5" y1="1497.5" x2="578.5" y2="1497.5" stroke="#ff0000" stroke-width="1" />
<line x1="588.5" y1="1515" x2="588.5" y2="1558.5" stroke="#ff0000" stroke-width="1" />
<line x1="588.5" y1="1574.5" x2="588.5" y2="1615" stroke="#ff0000" stroke-width="1" />
<line x1="579.0" y1="1566.5" x2="580.5" y2="1566.5" stroke="#ff0000" stroke-width="1" />
<line x1="596.5" y1="1566.5" x2="601.0" y2="1566.5" stroke="#ff0000" stroke-width="1" />
<circle cx="588.5" cy="1566.5" r="8" fill="none" stroke="#ff0000" stroke-width="1" shape-rendering="auto"/>
<line x1="588.5" y1="1558.5" x2="588.5" y2="1561.5" stroke="#ff0000" stroke-width="1" />
<line x1="588.5" y1="1571.5" x2="588.5" y2="1574.5" stroke="#ff0000" stroke-width="1" />
<line x1="580.5" y1="1566.5" x2="583.5" y2="1566.5" stroke="#ff0000" stroke-width="1" />
<line x1="593.5" y1="1566.5" x2="596.5" y2="1566.5" stroke="#ff0000" stroke-width="1" />
<line x1="609.5" y1="1398" x2="609.5" y2="1450.5" stroke="#ff0000" stroke-width="1" />
<line x1="609.5" y1="1466.5" x2="609.5" y2="1519" stroke="#ff0000" stroke-width="1" />
<line x1="600.0" y1="1458.5" x2="601.5" y2="1458.5" stroke="#ff0000" stroke-width="1" />
<line x1="617.5" y1="1458.5" x2="619.0" y2="1458.5" stroke="#ff0000" stroke-width="1" />
<circle cx="609.5" cy="1458.5" r="8" fill="none" stroke="#ff0000" stroke-width="1" shape-rendering="auto"/>
<line x1="609.5" y1="1450.5" x2="609.5" y2="1453.5" stroke="#ff0000" stroke-width="1" />
<line x1="609.5" y1="1463.5" x2="609.5" y2="1466.5" stroke="#ff0000" stroke-width="1" />
<line x1="601.5" y1="1458.5" x2="604.5" y2="1458.5" stroke="#ff0000" stroke-width="1" />
<line x1="614.5" y1="1458.5" x2="617.5" y2="1458.5" stroke="#ff0000" stroke-width="1" />
<line x1="630.5" y1="1377" x2="630.5" y2="1429.5" stroke="#ff0000" stroke-width="1" />
<line x1="630.5" y1="1445.5" x2="630.5" y2="1501" stroke="#ff0000" stroke-width="1" />
<line x1="618.0" y1="1437.5" x2="622.5" y2="1437.5" stroke="#ff0000" stroke-width="1" />
<line x1="638.5" y1="1437.5" x2="640.0" y2="1437.5" stroke="#ff0000" stroke-width="1" />
<circle cx="630.5" cy="1437.5" r="8" fill="none" stroke="#ff0000" stroke-width="1" shape-rendering="auto"/>
<line x1="630.5" y1="1429.5" x2="630.5" y2="1432.5" stroke="#ff0000" stroke-width="1" />
<line x1="630.5" y1="1442.5" x2="630.5" y2="1445.5" stroke="#ff0000" stroke-width="1" />
<line x1="622.5" y1="1437.5" x2="625.5" y2="1437.5" stroke="#ff0000" stroke-width="1" />
<line x1="635.5" y1="1437.5" x2="638.5" y2="1437.5" stroke="#ff0000" stroke-width="1" />
<line x1="648.5" y1="1269" x2="648.5" y2="1330.5" stroke="#ff0000" stroke-width="1" />
<line x1="648.5" y1="1346.5" x2="648.5" y2="1408" stroke="#ff0000" stroke-width="1" />
<line x1="639.0" y1="1338.5" x2="640.5" y2="1338.5" stroke="#ff0000" stroke-width="1" />
<line x1="656.5" y1="1338.5" x2="661.0" y2="1338.5" stroke="#ff0000" stroke-width="1" />
<circle cx="648.5" cy="1338.5" r="8" fill="none" stroke="#ff0000" stroke-width="1" shape-rendering="auto"/>
<line x1="648.5" y1="1330.5" x2="648.5" y2="1333.5" stroke="#ff0000" stroke-width="1" />
<line x1="648.5" y1="1343.5" x2="648.5" y2="1346.5" stroke="#ff0000" stroke-width="1" />
<line x1="640.5" y1="1338.5" x2="643.5" y2="1338.5" stroke="#ff0000" stroke-width="1" />
<line x1="653.5" y1="1338.5" x2="656.5" y2="1338.5" stroke="#ff0000" stroke-width="1" />
<line x1="669.5" y1="1356" x2="669.5" y2="1411.5" stroke="#ff0000" stroke-width="1" />
<line x1="669.5" y1="1427.5" x2="669.5" y2="1480" stroke="#ff0000" stroke-width="1" />
<line x1="660.0" y1="1419.5" x2="661.5" y2="1419.5" stroke="#ff0000" stroke-width="1" />
<line x1="677.5" y1="1419.5" x2="679.0" y2="1419.5" stroke="#ff0000" stroke-width="1" />
<circle cx="669.5" cy="1419.5" r="8" fill="none" stroke="#ff0000" stroke-width="1" shape-rendering="auto"/>
<line x1="669.5" y1="1411.5" x2="669.5" y2="1414.5" stroke="#ff0000" stroke-width="1" />
<line x1="669.5" y1="1424.5" x2="669.5" y2="1427.5" stroke="#ff0000" stroke-width="1" />
<line x1="661.5" y1="1419.5" x2="664.5" y2="1419.5" stroke="#ff0000" stroke-width="1" />
<line x1="674.5" y1="1419.5" x2="677.5" y2="1419.5" stroke="#ff0000" stroke-width="1" />
<line x1="687.5" y1="1449" x2="687.5" y2="1498.5" stroke="#ff0000" stroke-width="1" />
<line x1="687.5" y1="1514.5" x2="687.5" y2="1561" stroke="#ff0000" stroke-width="1" />
<line x1="678.0" y1="1506.5" x2="679.5" y2="1506.5" stroke="#ff0000" stroke-width="1" />
<line x1="695.5" y1="1506.5" x2="700.0" y2="1506.5" stroke="#ff0000" stroke-width="1" />
<circle cx="687.5" cy="1506.5" r="8" fill="none" stroke="#ff0000" stroke-width="1" shape-rendering="auto"/>
<line x1="687.5" y1="1498.5" x2="687.5" y2="1501.5" stroke="#ff0000" stroke-width="1" />
<line x1="687.5" y1="1511.5" x2="687.5" y2="1514.5" stroke="#ff0000" stroke-width="1" />
<line x1="679.5" y1="1506.5" x2="682.5" y2="1506.5" stroke="#ff0000" stroke-width="1" />
<line x1="692.5" y1="1506.5" x2="695.5" y2="1506.5" stroke="#ff0000" stroke-width="1" />
<line x1="708.5" y1="1428" x2="708.5" y2="1477.5" stroke="#ff0000" stroke-width="1" />
<line x1="708.5" y1="1493.5" x2="708.5" y2="1546" stroke="#ff0000" stroke-width="1" />
<line x1="699.0" y1="1485.5" x2="700.5" y2="1485.5" stroke="#ff0000" stroke-width="1" />
<line x1="716.5" y1="1485.5" x2="718.0" y2="1485.5" stroke="#ff0000" stroke-width="1" />
<circle cx="708.5" cy="1485.5" r="8" fill="none" stroke="#ff0000" stroke-width="1" shape-rendering="auto"/>
<line x1="708.5" y1="1477.5" x2="708.5" y2="1480.5" stroke="#ff0000" stroke-width="1" />
<line x1="708.5" y1="1490.5" x2="708.5" y2="1493.5" stroke="#ff0000" stroke-width="1" />
<line x1="700.5" y1="1485.5" x2="703.5" y2="1485.5" stroke="#ff0000" stroke-width="1" />
<line x1="713.5" y1="1485.5" x2="716.5" y2="1485.5" stroke="#ff0000" stroke-width="1" />
<line x1="729.5" y1="1314" x2="729.5" y2="1369.5" stroke="#ff0000" stroke-width="1" />
<line x1="729.5" y1="1385.5" x2="729.5" y2="1444" stroke="#ff0000" stroke-width="1" />
<line x1="717.0" y1="1377.5" x2="721.5" y2="1377.5" stroke="#ff0000" stroke-width="1" />
<line x1="737.5" y1="1377.5" x2="739.0" y2="1377.5" stroke="#ff0000" stroke-width="1" />
<circle cx="729.5" cy="1377.5" r="8" fill="none" stroke="#ff0000" stroke-width="1" shape-rendering="auto"/>
<line x1="729.5" y1="1369.5" x2="729.5" y2="1372.5" stroke="#ff0000" stroke-width="1" />
<line x1="729.5" y1="1382.5" x2="729.5" y2="1385.5" stroke="#ff0000" stroke-width="1" />
<line x1="721.5" y1="1377.5" x2="724.5" y2="1377.5" stroke="#ff0000" stroke-width="1" />
<line x1="734.5" y1="1377.5" x2="737.5" y2="1377.5" stroke="#ff0000" stroke-width="1" />
<line x1="747.5" y1="1281" x2="747.5" y2="1342.5" stroke="#ff0000" stroke-width="1" />
<line x1="747.5" y1="1358.5" x2="747.5" y2="1417" stroke="#ff0000" stroke-width="1" />
<line x1="738.0" y1="1350.5" x2="739.5" y2="1350.5" stroke="#ff0000" stroke-width="1" />
<line x1="755.5" y1="1350.5" x2="760.0" y2="1350.5" stroke="#ff0000" stroke-width="1" />
<circle cx="747.5" cy="1350.5" r="8" fill="none" stroke="#ff0000" stroke-width="1" shape-rendering="auto"/>
<line x1="747.5" y1="1342.5" x2="747.5" y2="1345.5" stroke="#ff0000" stroke-width="1" />
<line x1="747.5" y1="1355.5" x2="747.5" y2="1358.5" stroke="#ff0000" stroke-width="1" />
<line x1="739.5" y1="1350.5" x2="742.5" y2="1350.5" stroke="#ff0000" stroke-width="1" />
<line x1="752.5" y1="1350.5" x2="755.5" y2="1350.5" stroke="#ff0000" stroke-width="1" />
<line x1="768.5" y1="1428" x2="768.5" y2="1477.5" stroke="#ff0000" stroke-width="1" />
<line x1="768.5" y1="1493.5" x2="768.5" y2="1546" stroke="#ff0000" stroke-width="1" />
<line x1="759.0" y1="1485.5" x2="760.5" y2="1485.5" stroke="#ff0000" stroke-width="1" />
<line x1="776.5" y1="1485.5" x2="778.0" y2="1485.5" stroke="#ff0000" stroke-width="1" />
<circle cx="768.5" cy="1485.5" r="8" fill="none" stroke="#ff0000" stroke-width="1" shape-rendering="auto"/>
<line x1="768.5" y1="1477.5" x2="768.5" y2="1480.5" stroke="#ff0000" stroke-width="1" />
<line x1="768.5" y1="1490.5" x2="768.5" y2="1493.5" stroke="#ff0000" stroke-width="1" />
<line x1="760.5" y1="1485.5" x2="763.5" y2="1485.5" stroke="#ff0000" stroke-width="1" />
<line x1="773.5" y1="1485.5" x2="776.5" y2="1485.5" stroke="#ff0000" stroke-width="1" />
<line x1="789.5" y1="1323" x2="789.5" y2="1381.5" stroke="#ff0000" stroke-width="1" />
<line x1="789.5" y1="1397.5" x2="789.5" y2="1453" stroke="#ff0000" stroke-width="1" />
<line x1="777.0" y1="1389.5" x2="781.5" y2="1389.5" stroke="#ff0000" stroke-width="1" />
<line x1="797.5" y1="1389.5" x2="799.0" y2="1389.5" stroke="#ff0000" stroke-width="1" />
<circle cx="789.5" cy="1389.5" r="8" fill="none" stroke="#ff0000" stroke-width="1" shape-rendering="auto"/>
<line x1="789.5" y1="1381.5" x2="789.5" y2="1384.5" stroke="#ff0000" stroke-width="1" />
<line x1="789.5" y1="1394.5" x2="789.5" y2="1397.5" stroke="#ff0000" stroke-width="1" />
<line x1="781.5" y1="1389.5" x2="784.5" y2="1389.5" stroke="#ff0000" stroke-width="1" />
<line x1="794.5" y1="1389.5" x2="797.5" y2="1389.5" stroke="#ff0000" stroke-width="1" />
<line x1="807.5" y1="1386" x2="807.5" y2="1438.5" stroke="#ff0000" stroke-width="1" />
<line x1="807.5" y1="1454.5" x2="807.5" y2="1510" stroke="#ff0000" stroke-width="1" />
<line x1="798.0" y1="1446.5" x2="799.5" y2="1446.5" stroke="#ff0000" stroke-width="1" />
<line x1="815.5" y1="1446.5" x2="820.0" y2="1446.5" stroke="#ff0000" stroke-width="1" />
<circle cx="807.5" cy="1446.5" r="8" fill="none" stroke="#ff0000" stroke-width="1" shape-rendering="auto"/>
<line x1="807.5" y1="1438.5" x2="807.5" y2="1441.5" stroke="#ff0000" stroke-width="1" />
<line x1="807.5" y1="1451.5" x2="807.5" y2="1454.5" stroke="#ff0000" stroke-width="1" />
<line x1="799.5" y1="1446.5" x2="802.5" y2="1446.5" stroke="#ff0000" stroke-width="1" />
<line x1="812.5" y1="1446.5" x2="815.5" y2="1446.5" stroke="#ff0000" stroke-width="1" />
<line x1="828.5" y1="1239" x2="828.5" y2="1303.5" stroke="#ff0000" stroke-width="1" />
<line x1="828.5" y1="1319.5" x2="828.5" y2="1381" stroke="#ff0000" stroke-width="1" />
<line x1="819.0" y1="1311.5" x2="820.5" y2="1311.5" stroke="#ff0000" stroke-width="1" />
<line x1="836.5" y1="1311.5" x2="838.0" y2="1311.5" stroke="#ff0000" stroke-width="1" />
<circle cx="828.5" cy="1311.5" r="8" fill="none" stroke="#ff0000" stroke-width="1" shape-rendering="auto"/>
<line x1="828.5" y1="1303.5" x2="828.5" y2="1306.5" stroke="#ff0000" stroke-width="1" />
<line x1="828.5" y1="1316.5" x2="828.5" y2="1319.5" stroke="#ff0000" stroke-width="1" />
<line x1="820.5" y1="1311.5" x2="823.5" y2="1311.5" stroke="#ff0000" stroke-width="1" />
<line x1="833.5" y1="1311.5" x2="836.5" y2="1311.5" stroke="#ff0000" stroke-width="1" />
<line x1="849.5" y1="1155" x2="849.5" y2="1222.5" stroke="#ff0000" stroke-width="1" />
<line x1="849.5" y1="1238.5" x2="849.5" y2="1309" stroke="#ff0000" stroke-width="1" />
<line x1="837.0" y1="1230.5" x2="841.5" y2="1230.5" stroke="#ff0000" stroke-width="1" />
<line x1="857.5" y1="1230.5" x2="859.0" y2="1230.5" stroke="#ff0000" stroke-width="1" />
<circle cx="849.5" cy="1230.5" r="8" fill="none" stroke="#ff0000" stroke-width="1" shape-rendering="auto"/>
<line x1="849.5" y1="1222.5" x2="849.5" y2="1225.5" stroke="#ff0000" stroke-width="1" />
<line x1="849.5" y1="1235.5" x2="849.5" y2="1238.5" stroke="#ff0000" stroke-width="1" />
<line x1="841.5" y1="1230.5" x2="844.5" y2="1230.5" stroke="#ff0000" stroke-width="1" />
<line x1="854.5" y1="1230.5" x2="857.5" y2="1230.5" stroke="#ff0000" stroke-width="1" />
<line x1="867.5" y1="1302" x2="867.5" y2="1360.5" stroke="#ff0000" stroke-width="1" />
<line x1="867.5" y1="1376.5" x2="867.5" y2="1435" stroke="#ff0000" stroke-width="1" />
<line x1="858.0" y1="1368.5" x2="859.5" y2="1368.5" stroke="#ff0000" stroke-width="1" />
<line x1="875.5" y1="1368.5" x2="880.0" y2="1368.5" stroke="#ff0000" stroke-width="1" />
<circle cx="867.5" cy="1368.5" r="8" fill="none" stroke="#ff0000" stroke-width="1" shape-rendering="auto"/>
<line x1="867.5" y1="1360.5" x2="867.5" y2="1363.5" stroke="#ff0000" stroke-width="1" />
<line x1="867.5" y1="1373.5" x2="867.5" y2="1376.5" stroke="#ff0000" stroke-width="1" />
<line x1="859.5" y1="1368.5" x2="862.5" y2="1368.5" stroke="#ff0000" stroke-width="1" />
<line x1="872.5" y1="1368.5" x2="875.5" y2="1368.5" stroke="#ff0000" stroke-width="1" />
<line x1="888.5" y1="1113" x2="888.5" y2="1183.5" stroke="#ff0000" stroke-width="1" />
<line x1="888.5" y1="1199.5" x2="888.5" y2="1270" stroke="#ff0000" stroke-width="1" />
<line x1="879.0" y1="1191.5" x2="880.5" y2="1191.5" stroke="#ff0000" stroke-width="1" />
<line x1="896.5" y1="1191.5" x2="898.0" y2="1191.5" stroke="#ff0000" stroke-width="1" />
<circle cx="888.5" cy="1191.5" r="8" fill="none" stroke="#ff0000" stroke-width="1" shape-rendering="auto"/>
<line x1="888.5" y1="1183.5" x2="888.5" y2="1186.5" stroke="#ff0000" stroke-width="1" />
<line x1="888.5" y1="1196.5" x2="888.5" y2="1199.5" stroke="#ff0000" stroke-width="1" />
<line x1="880.5" y1="1191.5" x2="883.5" y2="1191.5" stroke="#ff0000" stroke-width="1" />
<line x1="893.5" y1="1191.5" x2="896.5" y2="1191.5" stroke="#ff0000" stroke-width="1" />
<line x1="909.5" y1="1377" x2="909.5" y2="1429.5" stroke="#ff0000" stroke-width="1" />
<line x1="909.5" y1="1445.5" x2="909.5" y2="1501" stroke="#ff0000" stroke-width="1" />
<line x1="897.0" y1="1437.5" x2="901.5" y2="1437.5" stroke="#ff0000" stroke-width="1" />
<line x1="917.5" y1="1437.5" x2="919.0" y2="1437.5" stroke="#ff0000" stroke-width="1" />
<circle cx="909.5" cy="1437.5" r="8" fill="none" stroke="#ff0000" stroke-width="1" shape-rendering="auto"/>
<line x1="909.5" y1="1429.5" x2="909.5" y2="1432.5" stroke="#ff0000" stroke-width="1" />
<line x1="909.5" y1="1442.5" x2="909.5" y2="1445.5" stroke="#ff0000" stroke-width="1" />
<line x1="901.5" y1="1437.5" x2="904.5" y2="1437.5" stroke="#ff0000" stroke-width="1" />
<line x1="914.5" y1="1437.5" x2="917.5" y2="1437.5" stroke="#ff0000" stroke-width="1" />
</g>
<path d="M120.5,1821.5 L141.5,1821.5 L141.5,1821.5 L159.5,1821.5 L159.5,1821.5 L180.5,1821.5 L180.5,1800.5 L201.5,1800.5 L201.5,1800.5 L219.5,1800.5 L219.5,1791.5 L240.5,1791.5 L240.5,1791.5 L261.5,1791.5 L261.5,1752.5 L279.5,1752.5 L279.5,1791.5 L300.5,1791.5 L300.5,1770.5 L321.5,1770.5 L321.5,1722.5 L339.5,1722.5 L339.5,1701.5 L360.5,1701.5 L360.5,1713.5 L378.5,1713.5 L378.5,1662.5 L399.5,1662.5 L399.5,1740.5 L420.5,1740.5 L420.5,1644.5 L438.5,1644.5 L438.5,1692.5 L459.5,1692.5 L459.5,1593.5 L480.5,1593.5 L480.5,1605.5 L498.5,1605.5 L498.5,1605.5 L519.5,1605.5 L519.5,1515.5 L540.5,1515.5 L540.5,1545.5 L558.5,1545.5 L558.5,1497.5 L579.5,1497.5 L579.5,1566.5 L600.5,1566.5 L600.5,1458.5 L618.5,1458.5 L618.5,1437.5 L639.5,1437.5 L639.5,1338.5 L660.5,1338.5 L660.5,1419.5 L678.5,1419.5 L678.5,1506.5 L699.5,1506.5 L699.5,1485.5 L717.5,1485.5 L717.5,1377.5 L738.5,1377.5 L738.5,1350.5 L759.5,1350.5 L759.5,1485.5 L777.5,1485.5 L777.5,1389.5 L798.5,1389.5 L798.5,1446.5 L819.5,1446.5 L819.5,1311.5 L837.5,1311.5 L837.5,1230.5 L858.5,1230.5 L858.5,1368.5 L879.5,1368.5 L879.5,1191.5 L897.5,1191.5 L897.5,1437.5 L918.5,1437.5" fill="none" stroke="#ff0000" stroke-width="1" stroke-linejoin="miter"/>
<g clip-path="url(#c3)">
<line x1="171.5" y1="1773" x2="171.5" y2="1783.5" stroke="#00ff00" stroke-width="1" />
<line x1="171.5" y1="1799.5" x2="171.5" y2="1810" stroke="#00ff00" stroke-width="1" />
<line x1="159.0" y1="1791.5" x2="163.5" y2="1791.5" stroke="#00ff00" stroke-width="1" />
<line x1="179.5" y1="1791.5" x2="181.0" y2="1791.5" stroke="#00ff00" stroke-width="1" />
<circle cx="171.5" cy="1791.5" r="8" fill="none" stroke="#00ff00" stroke-width="1" shape-rendering="auto"/>
<line x1="171.5" y1="1783.5" x2="171.5" y2="1786.5" stroke="#00ff00" stroke-width="1" />
<line x1="171.5" y1="1796.5" x2="171.5" y2="1799.5" stroke="#00ff00" stroke-width="1" />
<line x1="163.5" y1="1791.5" x2="166.5" y2="1791.5" stroke="#00ff00" stroke-width="1" />
<line x1="176.5" y1="1791.5" x2="179.5" y2="1791.5" stroke="#00ff00" stroke-width="1" />
<line x1="189.5" y1="1773" x2="189.5" y2="1783.5" stroke="#00ff00" stroke-width="1" />
<line x1="189.5" y1="1799.5" x2="189.5" y2="1810" stroke="#00ff00" stroke-width="1" />
<line x1="180.0" y1="1791.5" x2="181.5" y2="1791.5" stroke="#00ff00" stroke-width="1" />
<line x1="197.5" y1="1791.5" x2="202.0" y2="1791.5" stroke="#00ff00" stroke-width="1" />
<circle cx="189.5" cy="1791.5" r="8" fill="none" stroke="#00ff00" stroke-width="1" shape-rendering="auto"/>
<line x1="189.5" y1="1783.5" x2="189.5" y2="1786.5" stroke="#00ff00" stroke-width="1" />
<line x1="189.5" y1="1796.5" x2="189.5" y2="1799.5" stroke="#00ff00" stroke-width="1" />
<line x1="181.5" y1="1791.5" x2="184.5" y2="1791.5" stroke="#00ff00" stroke-width="1" />
<line x1="194.5" y1="1791.5" x2="197.5" y2="1791.5" stroke="#00ff00" stroke-width="1" />
<line x1="210.5" y1="1749" x2="210.5" y2="1762.5" stroke="#00ff00" stroke-width="1" />
<line x1="210.5" y1="1778.5" x2="210.5" y2="1795" stroke="#00ff00" stroke-width="1" />
<line x1="201.0" y1="1770.5" x2="202.5" y2="1770.5" stroke="#00ff00" stroke-width="1" />
<line x1="218.5" y1="1770.5" x2="220.0" y2="1770.5" stroke="#00ff00" stroke-width="1" />
<circle cx="210.5" cy="1770.5" r="8" fill="none" stroke="#00ff00" stroke-width="1" shape-rendering="auto"/>
<line x1="210.5" y1="1762.5" x2="210.5" y2="1765.5" stroke="#00ff00" stroke-width="1" />
<line x1="210.5" y1="1775.5" x2="210.5" y2="1778.5" stroke="#00ff00" stroke-width="1" />
<line x1="202.5" y1="1770.5" x2="205.5" y2="1770.5" stroke="#00ff00" stroke-width="1" />
<line x1="215.5" y1="1770.5" x2="218.5" y2="1770.5" stroke="#00ff00" stroke-width="1" />
<line x1="231.5" y1="1656" x2="231.5" y2="1684.5" stroke="#00ff00" stroke-width="1" />
<line x1="231.5" y1="1700.5" x2="231.5" y2="1729" stroke="#00ff00" stroke-width="1" />
<line x1="219.0" y1="1692.5" x2="223.5" y2="1692.5" stroke="#00ff00" stroke-width="1" />
<line x1="239.5" y1="1692.5" x2="241.0" y2="1692.5" stroke="#00ff00" stroke-width="1" />
<circle cx="231.5" cy="1692.5" r="8" fill="none" stroke="#00ff00" stroke-width="1" shape-rendering="auto"/>
<line x1="231.5" y1="1684.5" x2="231.5" y2="1687.5" stroke="#00ff00" stroke-width="1" />
<line x1="231.5" y1="1697.5" x2="231.5" y2="1700.5" stroke="#00ff00" stroke-width="1" />
<line x1="223.5" y1="1692.5" x2="226.5" y2="1692.5" stroke="#00ff00" stroke-width="1" />
<line x1="236.5" y1="1692.5" x2="239.5" y2="1692.5" stroke="#00ff00" stroke-width="1" />
<line x1="249.5" y1="1713" x2="249.5" y2="1732.5" stroke="#00ff00" stroke-width="1" />
<line x1="249.5" y1="1748.5" x2="249.5" y2="1771" stroke="#00ff00" stroke-width="1" />
<line x1="240.0" y1="1740.5" x2="241.5" y2="1740.5" stroke="#00ff00" stroke-width="1" />
<line x1="257.5" y1="1740.5" x2="262.0" y2="1740.5" stroke="#00ff00" stroke-width="1" />
<circle cx="249.5" cy="1740.5" r="8" fill="none" stroke="#00ff00" stroke-width="1" shape-rendering="auto"/>
<line x1="249.5" y1="1732.5" x2="249.5" y2="1735.5" stroke="#00ff00" stroke-width="1" />
<line x1="249.5" y1="1745.5" x2="249.5" y2="1748.5" stroke="#00ff00" stroke-width="1" />
<line x1="241.5" y1="1740.5" x2="244.5" y2="1740.5" stroke="#00ff00" stroke-width="1" />
<line x1="254.5" y1="1740.5" x2="257.5" y2="1740.5" stroke="#00ff00" stroke-width="1" />
<line x1="270.5" y1="1647" x2="270.5" y2="1675.5" stroke="#00ff00" stroke-width="1" />
<line x1="270.5" y1="1691.5" x2="270.5" y2="1720" stroke="#00ff00" stroke-width="1" />
<line x1="261.0" y1="1683.5" x2="262.5" y2="1683.5" stroke="#00ff00" stroke-width="1" />
<line x1="278.5" y1="1683.5" x2="280.0" y2="1683.5" stroke="#00ff00" stroke-width="1" />
<circle cx="270.5" cy="1683.5" r="8" fill="none" stroke="#00ff00" stroke-width="1" shape-rendering="auto"/>
<line x1="270.5" y1="1675.5" x2="270.5" y2="1678.5" stroke="#00ff00" stroke-width="1" />
<line x1="270.5" y1="1688.5" x2="270.5" y2="1691.5" stroke="#00ff00" stroke-width="1" />
<line x1="262.5" y1="1683.5" x2="265.5" y2="1683.5" stroke="#00ff00" stroke-width="1" />
<line x1="275.5" y1="1683.5" x2="278.5" y2="1683.5" stroke="#00ff00" stroke-width="1" />
<line x1="291.5" y1="1602" x2="291.5" y2="1636.5" stroke="#00ff00" stroke-width="1" />
<line x1="291.5" y1="1652.5" x2="291.5" y2="1687" stroke="#00ff00" stroke-width="1" />
<line x1="279.0" y1="1644.5" x2="283.5" y2="1644.5" stroke="#00ff00" stroke-width="1" />
<line x1="299.5" y1="1644.5" x2="301.0" y2="1644.5" stroke="#00ff00" stroke-width="1" />
<circle cx="291.5" cy="1644.5" r="8" fill="none" stroke="#00ff00" stroke-width="1" shape-rendering="auto"/>
<line x1="291.5" y1="1636.5" x2="291.5" y2="1639.5" stroke="#00ff00" stroke-width="1" />
<line x1="291.5" y1="1649.5" x2="291.5" y2="1652.5" stroke="#00ff00" stroke-width="1" />
<line x1="283.5" y1="1644.5" x2="286.5" y2="1644.5" stroke="#00ff00" stroke-width="1" />
<line x1="296.5" y1="1644.5" x2="299.5" y2="1644.5" stroke="#00ff00" stroke-width="1" />
<line x1="309.5" y1="1494" x2="309.5" y2="1537.5" stroke="#00ff00" stroke-width="1" />
<line x1="309.5" y1="1553.5" x2="309.5" y2="1597" stroke="#00ff00" stroke-width="1" />
<line x1="300.0" y1="1545.5" x2="301.5" y2="1545.5" stroke="#00ff00" stroke-width="1" />
<line x1="317.5" y1="1545.5" x2="322.0" y2="1545.5" stroke="#00ff00" stroke-width="1" />
<circle cx="309.5" cy="1545.5" r="8" fill="none" stroke="#00ff00" stroke-width="1" shape-rendering="auto"/>
<line x1="309.5" y1="1537.5" x2="309.5" y2="1540.5" stroke="#00ff00" stroke-width="1" />
<line x1="309.5" y1="1550.5" x2="309.5" y2="1553.5" stroke="#00ff00" stroke-width="1" />
<line x1="301.5" y1="1545.5" x2="304.5" y2="1545.5" stroke="#00ff00" stroke-width="1" />
<line x1="314.5" y1="1545.5" x2="317.5" y2="1545.5" stroke="#00ff00" stroke-width="1" />
<line x1="330.5" y1="1557" x2="330.5" y2="1597.5" stroke="#00ff00" stroke-width="1" />
<line x1="330.5" y1="1613.5" x2="330.5" y2="1651" stroke="#00ff00" stroke-width="1" />
<line x1="321.0" y1="1605.5" x2="322.5" y2="1605.5" stroke="#00ff00" stroke-width="1" />
<line x1="338.5" y1="1605.5" x2="340.0" y2="1605.5" stroke="#00ff00" stroke-width="1" />
<circle cx="330.5" cy="1605.5" r="8" fill="none" stroke="#00ff00" stroke-width="1" shape-rendering="auto"/>
<line x1="330.5" y1="1597.5" x2="330.5" y2="1600.5" stroke="#00ff00" stroke-width="1" />
<line x1="330.5" y1="1610.5" x2="330.5" y2="1613.5" stroke="#00ff00" stroke-width="1" />
<line x1="322.5" y1="1605.5" x2="325.5" y2="1605.5" stroke="#00ff00" stroke-width="1" />
<line x1="335.5" y1="1605.5" x2="338.5" y2="1605.5" stroke="#00ff00" stroke-width="1" />
<line x1="351.5" y1="1344" x2="351.5" y2="1399.5" stroke="#00ff00" stroke-width="1" />
<line x1="351.5" y1="1415.5" x2="351.5" y2="1471" stroke="#00ff00" stroke-width="1" />
<line x1="339.0" y1="1407.5" x2="343.5" y2="1407.5" stroke="#00ff00" stroke-width="1" />
<line x1="359.5" y1="1407.5" x2="361.0" y2="1407.5" stroke="#00ff00" stroke-width="1" />
<circle cx="351.5" cy="1407.5" r="8" fill="none" stroke="#00ff00" stroke-width="1" shape-rendering="auto"/>
<line x1="351.5" y1="1399.5" x2="351.5" y2="1402.5" stroke="#00ff00" stroke-width="1" />
<line x1="351.5" y1="1412.5" x2="351.5" y2="1415.5" stroke="#00ff00" stroke-width="1" />
<line x1="343.5" y1="1407.5" x2="346.5" y2="1407.5" stroke="#00ff00" stroke-width="1" />
<line x1="356.5" y1="1407.5" x2="359.5" y2="1407.5" stroke="#00ff00" stroke-width="1" />
<line x1="369.5" y1="1557" x2="369.5" y2="1597.5" stroke="#00ff00" stroke-width="1" />
<line x1="369.5" y1="1613.5" x2="369.5" y2="1651" stroke="#00ff00" stroke-width="1" />
<line x1="360.0" y1="1605.5" x2="361.5" y2="1605.5" stroke="#00ff00" stroke-width="1" />
<line x1="377.5" y1="1605.5" x2="379.0" y2="1605.5" stroke="#00ff00" stroke-width="1" />
<circle cx="369.5" cy="1605.5" r="8" fill="none" stroke="#00ff00" stroke-width="1" shape-rendering="auto"/>
<line x1="369.5" y1="1597.5" x2="369.5" y2="1600.5" stroke="#00ff00" stroke-width="1" />
<line x1="369.5" y1="1610.5" x2="369.5" y2="1613.5" stroke="#00ff00" stroke-width="1" />
<line x1="361.5" y1="1605.5" x2="364.5" y2="1605.5" stroke="#00ff00" stroke-width="1" />
<line x1="374.5" y1="1605.5" x2="377.5" y2="1605.5" stroke="#00ff00" stroke-width="1" />
<line x1="390.5" y1="1407" x2="390.5" y2="1459.5" stroke="#00ff00" stroke-width="1" />
<line x1="390.5" y1="1475.5" x2="390.5" y2="1528" stroke="#00ff00" stroke-width="1" />
<line x1="378.0" y1="1467.5" x2="382.5" y2="1467.5" stroke="#00ff00" stroke-width="1" />
<line x1="398.5" y1="1467.5" x2="400.0" y2="1467.5" stroke="#00ff00" stroke-width="1" />
<circle cx="390.5" cy="1467.5" r="8" fill="none" stroke="#00ff00" stroke-width="1" shape-rendering="auto"/>
<line x1="390.5" y1="1459.5" x2="390.5" y2="1462.5" stroke="#00ff00" stroke-width="1" />
<line x1="390.5" y1="1472.5" x2="390.5" y2="1475.5" stroke="#00ff00" stroke-width="1" />
<line x1="382.5" y1="1467.5" x2="385.5" y2="1467.5" stroke="#00ff00" stroke-width="1" />
<line x1="395.5" y1="1467.5" x2="398.5" y2="1467.5" stroke="#00ff00" stroke-width="1" />
<line x1="408.5" y1="1482" x2="408.5" y2="1528.5" stroke="#00ff00" stroke-width="1" />
<line x1="408.5" y1="1544.5" x2="408.5" y2="1588" stroke="#00ff00" stroke-width="1" />
<line x1="399.0" y1="1536.5" x2="400.5" y2="1536.5" stroke="#00ff00" stroke-width="1" />
<line x1="416.5" y1="1536.5" x2="421.0" y2="1536.5" stroke="#00ff00" stroke-width="1" />
<circle cx="408.5" cy="1536.5" r="8" fill="none" stroke="#00ff00" stroke-width="1" shape-rendering="auto"/>
<line x1="408.5" y1="1528.5" x2="408.5" y2="1531.5" stroke="#00ff00" stroke-width="1" />
<line x1="408.5" y1="1541.5" x2="408.5" y2="1544.5" stroke="#00ff00" stroke-width="1" />
<line x1="400.5" y1="1536.5" x2="403.5" y2="1536.5" stroke="#00ff00" stroke-width="1" />
<line x1="413.5" y1="1536.5" x2="416.5" y2="1536.5" stroke="#00ff00" stroke-width="1" />
<line x1="429.5" y1="1281" x2="429.5" y2="1342.5" stroke="#00ff00" stroke-width="1" />
<line x1="429.5" y1="1358.5" x2="429.5" y2="1417" stroke="#00ff00" stroke-width="1" />
<line x1="420.0" y1="1350.5" x2="421.5" y2="1350.5" stroke="#00ff00" stroke-width="1" />
<line x1="437.5" y1="1350.5" x2="439.0" y2="1350.5" stroke="#00ff00" stroke-width="1" />
<circle cx="429.5" cy="1350.5" r="8" fill="none" stroke="#00ff00" stroke-width="1" shape-rendering="auto"/>
<line x1="429.5" y1="1342.5" x2="429.5" y2="1345.5" stroke="#00ff00" stroke-width="1" />
<line x1="429.5" y1="1355.5" x2="429.5" y2="1358.5" stroke="#00ff00" stroke-width="1" />
<line x1="421.5" y1="1350.5" x2="424.5" y2="1350.5" stroke="#00ff00" stroke-width="1" />
<line x1="434.5" y1="1350.5" x2="437.5" y2="1350.5" stroke="#00ff00" stroke-width="1" />
<line x1="450.5" y1="1281" x2="450.5" y2="1342.5" stroke="#00ff00" stroke-width="1" />
<line x1="450.5" y1="1358.5" x2="450.5" y2="1417" stroke="#00ff00" stroke-width="1" />
<line x1="438.0" y1="1350.5" x2="442.5" y2="1350.5" stroke="#00ff00" stroke-width="1" />
<line x1="458.5" y1="1350.5" x2="460.0" y2="1350.5" stroke="#00ff00" stroke-width="1" />
<circle cx="450.5" cy="1350.5" r="8" fill="none" stroke="#00ff00" stroke-width="1" shape-rendering="auto"/>
<line x1="450.5" y1="1342.5" x2="450.5" y2="1345.5" stroke="#00ff00" stroke-width="1" />
<line x1="450.5" y1="1355.5" x2="450.5" y2="1358.5" stroke="#00ff00" stroke-width="1" />
<line x1="442.5" y1="1350.5" x2="445.5" y2="1350.5" stroke="#00ff00" stroke-width="1" />
<line x1="455.5" y1="1350.5" x2="458.5" y2="1350.5" stroke="#00ff00" stroke-width="1" />
<line x1="468.5" y1="1302" x2="468.5" y2="1360.5" stroke="#00ff00" stroke-width="1" />
<line x1="468.5" y1="1376.5" x2="468.5" y2="1435" stroke="#00ff00" stroke-width="1" />
<line x1="459.0" y1="1368.5" x2="460.5" y2="1368.5" stroke="#00ff00" stroke-width="1" />
<line x1="476.5" y1="1368.5" x2="481.0" y2="1368.5" stroke="#00ff00" stroke-width="1" />
<circle cx="468.5" cy="1368.5" r="8" fill="none" stroke="#00ff00" stroke-width="1" shape-rendering="auto"/>
<line x1="468.5" y1="1360.5" x2="468.5" y2="1363.5" stroke="#00ff00" stroke-width="1" />
<line x1="468.5" y1="1373.5" x2="468.5" y2="1376.5" stroke="#00ff00" stroke-width="1" />
<line x1="460.5" y1="1368.5" x2="463.5" y2="1368.5" stroke="#00ff00" stroke-width="1" />
<line x1="473.5" y1="1368.5" x2="476.5" y2="1368.5" stroke="#00ff00" stroke-width="1" />
<line x1="489.5" y1="1290" x2="489.5" y2="1351.5" stroke="#00ff00" stroke-width="1" />
<line x1="489.5" y1="1367.5" x2="489.5" y2="1426" stroke="#00ff00" stroke-width="1" />
<line x1="480.0" y1="1359.5" x2="481.5" y2="1359.5" stroke="#00ff00" stroke-width="1" />
<line x1="497.5" y1="1359.5" x2="499.0" y2="1359.5" stroke="#00ff00" stroke-width="1" />
<circle cx="489.5" cy="1359.5" r="8" fill="none" stroke="#00ff00" stroke-width="1" shape-rendering="auto"/>
<line x1="489.5" y1="1351.5" x2="489.5" y2="1354.5" stroke="#00ff00" stroke-width="1" />
<line x1="489.5" y1="1364.5" x2="489.5" y2="1367.5" stroke="#00ff00" stroke-width="1" />
<line x1="481.5" y1="1359.5" x2="484.5" y2="1359.5" stroke="#00ff00" stroke-width="1" />
<line x1="494.5" y1="1359.5" x2="497.5" y2="1359.5" stroke="#00ff00" stroke-width="1" />
<line x1="510.5" y1="1302" x2="510.5" y2="1360.5" stroke="#00ff00" stroke-width="1" />
<line x1="510.5" y1="1376.5" x2="510.5" y2="1435" stroke="#00ff00" stroke-width="1" />
<line x1="498.0" y1="1368.5" x2="502.5" y2="1368.5" stroke="#00ff00" stroke-width="1" />
<line x1="518.5" y1="1368.5" x2="520.0" y2="1368.5" stroke="#00ff00" stroke-width="1" />
<circle cx="510.5" cy="1368.5" r="8" fill="none" stroke="#00ff00" stroke-width="1" shape-rendering="auto"/>
<line x1="510.5" y1="1360.5" x2="510.5" y2="1363.5" stroke="#00ff00" stroke-width="1" />
<line x1="510.5" y1="1373.5" x2="510.5" y2="1376.5" stroke="#00ff00" stroke-width="1" />
<line x1="502.5" y1="1368.5" x2="505.5" y2="1368.5" stroke="#00ff00" stroke-width="1" />
<line x1="515.5" y1="1368.5" x2="518.5" y2="1368.5" stroke="#00ff00" stroke-width="1" />
<line x1="528.5" y1="1344" x2="528.5" y2="1399.5" stroke="#00ff00" stroke-width="1" />
<line x1="528.5" y1="1415.5" x2="528.5" y2="1471" stroke="#00ff00" stroke-width="1" />
<line x1="519.0" y1="1407.5" x2="520.5" y2="1407.5" stroke="#00ff00" stroke-width="1" />
<line x1="536.5" y1="1407.5" x2="541.0" y2="1407.5" stroke="#00ff00" stroke-width="1" />
<circle cx="528.5" cy="1407.5" r="8" fill="none" stroke="#00ff00" stroke-width="1" shape-rendering="auto"/>
<line x1="528.5" y1="1399.5" x2="528.5" y2="1402.5" stroke="#00ff00" stroke-width="1" />
<line x1="528.5" y1="1412.5" x2="528.5" y2="1415.5" stroke="#00ff00" stroke-width="1" />
<line x1="520.5" y1="1407.5" x2="523.5" y2="1407.5" stroke="#00ff00" stroke-width="1" />
<line x1="533.5" y1="1407.5" x2="536.5" y2="1407.5" stroke="#00ff00" stroke-width="1" />
<line x1="549.5" y1="1134" x2="549.5" y2="1204.5" stroke="#00ff00" stroke-width="1" />
<line x1="549.5" y1="1220.5" x2="549.5" y2="1291" stroke="#00ff00" stroke-width="1" />
<line x1="540.0" y1="1212.5" x2="541.5" y2="1212.5" stroke="#00ff00" stroke-width="1" />
<line x1="557.5" y1="1212.5" x2="559.0" y2="1212.5" stroke="#00ff00" stroke-width="1" />
<circle cx="549.5" cy="1212.5" r="8" fill="none" stroke="#00ff00" stroke-width="1" shape-rendering="auto"/>
<line x1="549.5" y1="1204.5" x2="549.5" y2="1207.5" stroke="#00ff00" stroke-width="1" />
<line x1="549.5" y1="1217.5" x2="549.5" y2="1220.5" stroke="#00ff00" stroke-width="1" />
<line x1="541.5" y1="1212.5" x2="544.5" y2="1212.5" stroke="#00ff00" stroke-width="1" />
<line x1="554.5" y1="1212.5" x2="557.5" y2="1212.5" stroke="#00ff00" stroke-width="1" />
<line x1="570.5" y1="1260" x2="570.5" y2="1321.5" stroke="#00ff00" stroke-width="1" />
<line x1="570.5" y1="1337.5" x2="570.5" y2="1399" stroke="#00ff00" stroke-width="1" />
<line x1="558.0" y1="1329.5" x2="562.5" y2="1329.5" stroke="#00ff00" stroke-width="1" />
<line x1="578.5" y1="1329.5" x2="580.0" y2="1329.5" stroke="#00ff00" stroke-width="1" />
<circle cx="570.5" cy="1329.5" r="8" fill="none" stroke="#00ff00" stroke-width="1" shape-rendering="auto"/>
<line x1="570.5" y1="1321.5" x2="570.5" y2="1324.5" stroke="#00ff00" stroke-width="1" />
<line x1="570.5" y1="1334.5" x2="570.5" y2="1337.5" stroke="#00ff00" stroke-width="1" />
<line x1="562.5" y1="1329.5" x2="565.5" y2="1329.5" stroke="#00ff00" stroke-width="1" />
<line x1="575.5" y1="1329.5" x2="578.5" y2="1329.5" stroke="#00ff00" stroke-width="1" />
<line x1="588.5" y1="1440" x2="588.5" y2="1489.5" stroke="#00ff00" stroke-width="1" />
<line x1="588.5" y1="1505.5" x2="588.5" y2="1552" stroke="#00ff00" stroke-width="1" />
<line x1="579.0" y1="1497.5" x2="580.5" y2="1497.5" stroke="#00ff00" stroke-width="1" />
<line x1="596.5" y1="1497.5" x2="601.0" y2="1497.5" stroke="#00ff00" stroke-width="1" />
<circle cx="588.5" cy="1497.5" r="8" fill="none" stroke="#00ff00" stroke-width="1" shape-rendering="auto"/>
<line x1="588.5" y1="1489.5" x2="588.5" y2="1492.5" stroke="#00ff00" stroke-width="1" />
<line x1="588.5" y1="1502.5" x2="588.5" y2="1505.5" stroke="#00ff00" stroke-width="1" />
<line x1="580.5" y1="1497.5" x2="583.5" y2="1497.5" stroke="#00ff00" stroke-width="1" />
<line x1="593.5" y1="1497.5" x2="596.5" y2="1497.5" stroke="#00ff00" stroke-width="1" />
<line x1="609.5" y1="1428" x2="609.5" y2="1477.5" stroke="#00ff00" stroke-width="1" />
<line x1="609.5" y1="1493.5" x2="609.5" y2="1546" stroke="#00ff00" stroke-width="1" />
<line x1="600.0" y1="1485.5" x2="601.5" y2="1485.5" stroke="#00ff00" stroke-width="1" />
<line x1="617.5" y1="1485.5" x2="619.0" y2="1485.5" stroke="#00ff00" stroke-width="1" />
<circle cx="609.5" cy="1485.5" r="8" fill="none" stroke="#00ff00" stroke-width="1" shape-rendering="auto"/>
<line x1="609.5" y1="1477.5" x2="609.5" y2="1480.5" stroke="#00ff00" stroke-width="1" />
<line x1="609.5" y1="1490.5" x2="609.5" y2="1493.5" stroke="#00ff00" stroke-width="1" />
<line x1="601.5" y1="1485.5" x2="604.5" y2="1485.5" stroke="#00ff00" stroke-width="1" />
<line x1="614.5" y1="1485.5" x2="617.5" y2="1485.5" stroke="#00ff00" stroke-width="1" />
<line x1="630.5" y1="1248" x2="630.5" y2="1312.5" stroke="#00ff00" stroke-width="1" />
<line x1="630.5" y1="1328.5" x2="630.5" y2="1390" stroke="#00ff00" stroke-width="1" />
<line x1="618.0" y1="1320.5" x2="622.5" y2="1320.5" stroke="#00ff00" stroke-width="1" />
<line x1="638.5" y1="1320.5" x2="640.0" y2="1320.5" stroke="#00ff00" stroke-width="1" />
<circle cx="630.5" cy="1320.5" r="8" fill="none" stroke="#00ff00" stroke-width="1" shape-rendering="auto"/>
<line x1="630.5" y1="1312.5" x2="630.5" y2="1315.5" stroke="#00ff00" stroke-width="1" />
<line x1="630.5" y1="1325.5" x2="630.5" y2="1328.5" stroke="#00ff00" stroke-width="1" />
<line x1="622.5" y1="1320.5" x2="625.5" y2="1320.5" stroke="#00ff00" stroke-width="1" />
<line x1="635.5" y1="1320.5" x2="638.5" y2="1320.5" stroke="#00ff00" stroke-width="1" />
<line x1="648.5" y1="1407" x2="648.5" y2="1459.5" stroke="#00ff00" stroke-width="1" />
<line x1="648.5" y1="1475.5" x2="648.5" y2="1528" stroke="#00ff00" stroke-width="1" />
<line x1="639.0" y1="1467.5" x2="640.5" y2="1467.5" stroke="#00ff00" stroke-width="1" />
<line x1="656.5" y1="1467.5" x2="661.0" y2="1467.5" stroke="#00ff00" stroke-width="1" />
<circle cx="648.5" cy="1467.5" r="8" fill="none" stroke="#00ff00" stroke-width="1" shape-rendering="auto"/>
<line x1="648.5" y1="1459.5" x2="648.5" y2="1462.5" stroke="#00ff00" stroke-width="1" />
<line x1="648.5" y1="1472.5" x2="648.5" y2="1475.5" stroke="#00ff00" stroke-width="1" />
<line x1="640.5" y1="1467.5" x2="643.5" y2="1467.5" stroke="#00ff00" stroke-width="1" />
<line x1="653.5" y1="1467.5" x2="656.5" y2="1467.5" stroke="#00ff00" stroke-width="1" />
<line x1="669.5" y1="1365" x2="669.5" y2="1420.5" stroke="#00ff00" stroke-width="1" />
<line x1="669.5" y1="1436.5" x2="669.5" y2="1489" stroke="#00ff00" stroke-width="1" />
<line x1="660.0" y1="1428.5" x2="661.5" y2="1428.5" stroke="#00ff00" stroke-width="1" />
<line x1="677.5" y1="1428.5" x2="679.0" y2="1428.5" stroke="#00ff00" stroke-width="1" />
<circle cx="669.5" cy="1428.5" r="8" fill="none" stroke="#00ff00" stroke-width="1" shape-rendering="auto"/>
<line x1="669.5" y1="1420.5" x2="669.5" y2="1423.5" stroke="#00ff00" stroke-width="1" />
<line x1="669.5" y1="1433.5" x2="669.5" y2="1436.5" stroke="#00ff00" stroke-width="1" />
<line x1="661.5" y1="1428.5" x2="664.5" y2="1428.5" stroke="#00ff00" stroke-width="1" />
<line x1="674.5" y1="1428.5" x2="677.5" y2="1428.5" stroke="#00ff00" stroke-width="1" />
<line x1="687.5" y1="1407" x2="687.5" y2="1459.5" stroke="#00ff00" stroke-width="1" />
<line x1="687.5" y1="1475.5" x2="687.5" y2="1528" stroke="#00ff00" stroke-width="1" />
<line x1="678.0" y1="1467.5" x2="679.5" y2="1467.5" stroke="#00ff00" stroke-width="1" />
<line x1="695.5" y1="1467.5" x2="700.0" y2="1467.5" stroke="#00ff00" stroke-width="1" />
<circle cx="687.5" cy="1467.5" r="8" fill="none" stroke="#00ff00" stroke-width="1" shape-rendering="auto"/>
<line x1="687.5" y1="1459.5" x2="687.5" y2="1462.5" stroke="#00ff00" stroke-width="1" />
<line x1="687.5" y1="1472.5" x2="687.5" y2="1475.5" stroke="#00ff00" stroke-width="1" />
<line x1="679.5" y1="1467.5" x2="682.5" y2="1467.5" stroke="#00ff00" stroke-width="1" />
<line x1="692.5" y1="1467.5" x2="695.5" y2="1467.5" stroke="#00ff00" stroke-width="1" />
<line x1="708.5" y1="1482" x2="708.5" y2="1528.5" stroke="#00ff00" stroke-width="1" />
<line x1="708.5" y1="1544.5" x2="708.5" y2="1588" stroke="#00ff00" stroke-width="1" />
<line x1="699.0" y1="1536.5" x2="700.5" y2="1536.5" stroke="#00ff00" stroke-width="1" />
<line x1="716.5" y1="1536.5" x2="718.0" y2="1536.5" stroke="#00ff00" stroke-width="1" />
<circle cx="708.5" cy="1536.5" r="8" fill="none" stroke="#00ff00" stroke-width="1" shape-rendering="auto"/>
<line x1="708.5" y1="1528.5" x2="708.5" y2="1531.5" stroke="#00ff00" stroke-width="1" />
<line x1="708.5" y1="1541.5" x2="708.5" y2="1544.5" stroke="#00ff00" stroke-width="1" />
<line x1="700.5" y1="1536.5" x2="703.5" y2="1536.5" stroke="#00ff00" stroke-width="1" />
<line x1="713.5" y1="1536.5" x2="716.5" y2="1536.5" stroke="#00ff00" stroke-width="1" />
<line x1="729.5" y1="1473" x2="729.5" y2="1519.5" stroke="#00ff00" stroke-width="1" />
<line x1="729.5" y1="1535.5" x2="729.5" y2="1579" stroke="#00ff00" stroke-width="1" />
<line x1="717.0" y1="1527.5" x2="721.5" y2="1527.5" stroke="#00ff00" stroke-width="1" />
<line x1="737.5" y1="1527.5" x2="739.0" y2="1527.5" stroke="#00ff00" stroke-width="1" />
<circle cx="729.5" cy="1527.5" r="8" fill="none" stroke="#00ff00" stroke-width="1" shape-rendering="auto"/>
<line x1="729.5" y1="1519.5" x2="729.5" y2="1522.5" stroke="#00ff00" stroke-width="1" />
<line x1="729.5" y1="1532.5" x2="729.5" y2="1535.5" stroke="#00ff00" stroke-width="1" />
<line x1="721.5" y1="1527.5" x2="724.5" y2="1527.5" stroke="#00ff00" stroke-width="1" />
<line x1="734.5" y1="1527.5" x2="737.5" y2="1527.5" stroke="#00ff00" stroke-width="1" />
<line x1="747.5" y1="1581" x2="747.5" y2="1615.5" stroke="#00ff00" stroke-width="1" />
<line x1="747.5" y1="1631.5" x2="747.5" y2="1669" stroke="#00ff00" stroke-width="1" />
<line x1="738.0" y1="1623.5" x2="739.5" y2="1623.5" stroke="#00ff00" stroke-width="1" />
<line x1="755.5" y1="1623.5" x2="760.0" y2="1623.5" stroke="#00ff00" stroke-width="1" />
<circle cx="747.5" cy="1623.5" r="8" fill="none" stroke="#00ff00" stroke-width="1" shape-rendering="auto"/>
<line x1="747.5" y1="1615.5" x2="747.5" y2="1618.5" stroke="#00ff00" stroke-width="1" />
<line x1="747.5" y1="1628.5" x2="747.5" y2="1631.5" stroke="#00ff00" stroke-width="1" />
<line x1="739.5" y1="1623.5" x2="742.5" y2="1623.5" stroke="#00ff00" stroke-width="1" />
<line x1="752.5" y1="1623.5" x2="755.5" y2="1623.5" stroke="#00ff00" stroke-width="1" />
<line x1="768.5" y1="1590" x2="768.5" y2="1624.5" stroke="#00ff00" stroke-width="1" />
<line x1="768.5" y1="1640.5" x2="768.5" y2="1678" stroke="#00ff00" stroke-width="1" />
<line x1="759.0" y1="1632.5" x2="760.5" y2="1632.5" stroke="#00ff00" stroke-width="1" />
<line x1="776.5" y1="1632.5" x2="778.0" y2="1632.5" stroke="#00ff00" stroke-width="1" />
<circle cx="768.5" cy="1632.5" r="8" fill="none" stroke="#00ff00" stroke-width="1" shape-rendering="auto"/>
<line x1="768.5" y1="1624.5" x2="768.5" y2="1627.5" stroke="#00ff00" stroke-width="1" />
<line x1="768.5" y1="1637.5" x2="768.5" y2="1640.5" stroke="#00ff00" stroke-width="1" />
<line x1="760.5" y1="1632.5" x2="763.5" y2="1632.5" stroke="#00ff00" stroke-width="1" />
<line x1="773.5" y1="1632.5" x2="776.5" y2="1632.5" stroke="#00ff00" stroke-width="1" />
<line x1="789.5" y1="1614" x2="789.5" y2="1645.5" stroke="#00ff00" stroke-width="1" />
<line x1="789.5" y1="1661.5" x2="789.5" y2="1696" stroke="#00ff00" stroke-width="1" />
<line x1="777.0" y1="1653.5" x2="781.5" y2="1653.5" stroke="#00ff00" stroke-width="1" />
<line x1="797.5" y1="1653.5" x2="799.0" y2="1653.5" stroke="#00ff00" stroke-width="1" />
<circle cx="789.5" cy="1653.5" r="8" fill="none" stroke="#00ff00" stroke-width="1" shape-rendering="auto"/>
<line x1="789.5" y1="1645.5" x2="789.5" y2="1648.5" stroke="#00ff00" stroke-width="1" />
<line x1="789.5" y1="1658.5" x2="789.5" y2="1661.5" stroke="#00ff00" stroke-width="1" />
<line x1="781.5" y1="1653.5" x2="784.5" y2="1653.5" stroke="#00ff00" stroke-width="1" />
<line x1="794.5" y1="1653.5" x2="797.5" y2="1653.5" stroke="#00ff00" stroke-width="1" />
<line x1="807.5" y1="1713" x2="807.5" y2="1732.5" stroke="#00ff00" stroke-width="1" />
<line x1="807.5" y1="1748.5" x2="807.5" y2="1771" stroke="#00ff00" stroke-width="1" />
<line x1="798.0" y1="1740.5" x2="799.5" y2="1740.5" stroke="#00ff00" stroke-width="1" />
<line x1="815.5" y1="1740.5" x2="820.0" y2="1740.5" stroke="#00ff00" stroke-width="1" />
<circle cx="807.5" cy="1740.5" r="8" fill="none" stroke="#00ff00" stroke-width="1" shape-rendering="auto"/>
<line x1="807.5" y1="1732.5" x2="807.5" y2="1735.5" stroke="#00ff00" stroke-width="1" />
<line x1="807.5" y1="1745.5" x2="807.5" y2="1748.5" stroke="#00ff00" stroke-width="1" />
<line x1="799.5" y1="1740.5" x2="802.5" y2="1740.5" stroke="#00ff00" stroke-width="1" />
<line x1="812.5" y1="1740.5" x2="815.5" y2="1740.5" stroke="#00ff00" stroke-width="1" />
<line x1="828.5" y1="1737" x2="828.5" y2="1753.5" stroke="#00ff00" stroke-width="1" />
<line x1="828.5" y1="1769.5" x2="828.5" y2="1786" stroke="#00ff00" stroke-width="1" />
<line x1="819.0" y1="1761.5" x2="820.5" y2="1761.5" stroke="#00ff00" stroke-width="1" />
<line x1="836.5" y1="1761.5" x2="838.0" y2="1761.5" stroke="#00ff00" stroke-width="1" />
<circle cx="828.5" cy="1761.5" r="8" fill="none" stroke="#00ff00" stroke-width="1" shape-rendering="auto"/>
<line x1="828.5" y1="1753.5" x2="828.5" y2="1756.5" stroke="#00ff00" stroke-width="1" />
<line x1="828.5" y1="1766.5" x2="828.5" y2="1769.5" stroke="#00ff00" stroke-width="1" />
<line x1="820.5" y1="1761.5" x2="823.5" y2="1761.5" stroke="#00ff00" stroke-width="1" />
<line x1="833.5" y1="1761.5" x2="836.5" y2="1761.5" stroke="#00ff00" stroke-width="1" />
<line x1="849.5" y1="1737" x2="849.5" y2="1753.5" stroke="#00ff00" stroke-width="1" />
<line x1="849.5" y1="1769.5" x2="849.5" y2="1786" stroke="#00ff00" stroke-width="1" />
<line x1="837.0" y1="1761.5" x2="841.5" y2="1761.5" stroke="#00ff00" stroke-width="1" />
<line x1="857.5" y1="1761.5" x2="859.0" y2="1761.5" stroke="#00ff00" stroke-width="1" />
<circle cx="849.5" cy="1761.5" r="8" fill="none" stroke="#00ff00" stroke-width="1" shape-rendering="auto"/>
<line x1="849.5" y1="1753.5" x2="849.5" y2="1756.5" stroke="#00ff00" stroke-width="1" />
<line x1="849.5" y1="1766.5" x2="849.5" y2="1769.5" stroke="#00ff00" stroke-width="1" />
<line x1="841.5" y1="1761.5" x2="844.5" y2="1761.5" stroke="#00ff00" stroke-width="1" />
<line x1="854.5" y1="1761.5" x2="857.5" y2="1761.5" stroke="#00ff00" stroke-width="1" />
<line x1="867.5" y1="1773" x2="867.5" y2="1783.5" stroke="#00ff00" stroke-width="1" />
<line x1="867.5" y1="1799.5" x2="867.5" y2="1810" stroke="#00ff00" stroke-width="1" />
<line x1="858.0" y1="1791.5" x2="859.5" y2="1791.5" stroke="#00ff00" stroke-width="1" />
<line x1="875.5" y1="1791.5" x2="880.0" y2="1791.5" stroke="#00ff00" stroke-width="1" />
<circle cx="867.5" cy="1791.5" r="8" fill="none" stroke="#00ff00" stroke-width="1" shape-rendering="auto"/>
<line x1="867.5" y1="1783.5" x2="867.5" y2="1786.5" stroke="#00ff00" stroke-width="1" />
<line x1="867.5" y1="1796.5" x2="867.5" y2="1799.5" stroke="#00ff00" stroke-width="1" />
<line x1="859.5" y1="1791.5" x2="862.5" y2="1791.5" stroke="#00ff00" stroke-width="1" />
<line x1="872.5" y1="1791.5" x2="875.5" y2="1791.5" stroke="#00ff00" stroke-width="1" />
</g>
<path d="M120.5,1821.5 L141.5,1821.5 L141.5,1821.5 L159.5,1821.5 L159.5,1791.5 L180.5,1791.5 L180.5,1791.5 L201.5,1791.5 L201.5,1770.5 L219.5,1770.5 L219.5,1689.5 L240.5,1689.5 L240.5,1746.5 L261.5,1746.5 L261.5,1686.5 L279.5,1686.5 L279.5,1638.5 L300.5,1638.5 L300.5,1557.5 L321.5,1557.5 L321.5,1590.5 L339.5,1590.5 L339.5,1419.5 L360.5,1419.5 L360.5,1605.5 L378.5,1605.5 L378.5,1455.5 L399.5,1455.5 L399.5,1539.5 L420.5,1539.5 L420.5,1320.5 L438.5,1320.5 L438.5,1317.5 L459.5,1317.5 L459.5,1356.5 L480.5,1356.5 L480.5,1335.5 L498.5,1335.5 L498.5,1356.5 L519.5,1356.5 L519.5,1419.5 L540.5,1419.5 L540.5,1242.5 L558.5,1242.5 L558.5,1350.5 L579.5,1350.5 L579.5,1464.5 L600.5,1464.5 L600.5,1488.5 L618.5,1488.5 L618.5,1347.5 L639.5,1347.5 L639.5,1491.5 L660.5,1491.5 L660.5,1443.5 L678.5,1443.5 L678.5,1473.5 L699.5,1473.5 L699.5,1551.5 L717.5,1551.5 L717.5,1557.5 L738.5,1557.5 L738.5,1566.5 L759.5,1566.5 L759.5,1653.5 L777.5,1653.5 L777.5,1680.5 L798.5,1680.5 L798.5,1728.5 L819.5,1728.5 L819.5,1758.5 L837.5,1758.5 L837.5,1737.5 L858.5,1737.5 L858.5,1794.5 L879.5,1794.5 L879.5,1821.5 L897.5,1821.5 L897.5,1821.5 L918.5,1821.5" fill="none" stroke="#00ff00" stroke-width="1" stroke-linejoin="miter"/>
<g clip-path="url(#c3)">
<line x1="129.5" y1="1260" x2="129.5" y2="1321.5" stroke="#0000ff" stroke-width="1" />
<line x1="129.5" y1="1337.5" x2="129.5" y2="1399" stroke="#0000ff" stroke-width="1" />
<line x1="120.0" y1="1329.5" x2="121.5" y2="1329.5" stroke="#0000ff" stroke-width="1" />
<line x1="137.5" y1="1329.5" x2="142.0" y2="1329.5" stroke="#0000ff" stroke-width="1" />
<circle cx="129.5" cy="1329.5" r="8" fill="none" stroke="#0000ff" stroke-width="1" shape-rendering="auto"/>
<line x1="129.5" y1="1321.5" x2="129.5" y2="1324.5" stroke="#0000ff" stroke-width="1" />
<line x1="129.5" y1="1334.5" x2="129.5" y2="1337.5" stroke="#0000ff" stroke-width="1" />
<line x1="121.5" y1="1329.5" x2="124.5" y2="1329.5" stroke="#0000ff" stroke-width="1" />
<line x1="134.5" y1="1329.5" x2="137.5" y2="1329.5" stroke="#0000ff" stroke-width="1" />
<line x1="150.5" y1="1260" x2="150.5" y2="1321.5" stroke="#0000ff" stroke-width="1" />
<line x1="150.5" y1="1337.5" x2="150.5" y2="1399" stroke="#0000ff" stroke-width="1" />
<line x1="141.0" y1="1329.5" x2="142.5" y2="1329.5" stroke="#0000ff" stroke-width="1" />
<line x1="158.5" y1="1329.5" x2="160.0" y2="1329.5" stroke="#0000ff" stroke-width="1" />
<circle cx="150.5" cy="1329.5" r="8" fill="none" stroke="#0000ff" stroke-width="1" shape-rendering="auto"/>
<line x1="150.5" y1="1321.5" x2="150.5" y2="1324.5" stroke="#0000ff" stroke-width="1" />
<line x1="150.5" y1="1334.5" x2="150.5" y2="1337.5" stroke="#0000ff" stroke-width="1" />
<line x1="142.5" y1="1329.5" x2="145.5" y2="1329.5" stroke="#0000ff" stroke-width="1" />
<line x1="155.5" y1="1329.5" x2="158.5" y2="1329.5" stroke="#0000ff" stroke-width="1" />
<line x1="171.5" y1="1290" x2="171.5" y2="1351.5" stroke="#0000ff" stroke-width="1" />
<line x1="171.5" y1="1367.5" x2="171.5" y2="1426" stroke="#0000ff" stroke-width="1" />
<line x1="159.0" y1="1359.5" x2="163.5" y2="1359.5" stroke="#0000ff" stroke-width="1" />
<line x1="179.5" y1="1359.5" x2="181.0" y2="1359.5" stroke="#0000ff" stroke-width="1" />
<circle cx="171.5" cy="1359.5" r="8" fill="none" stroke="#0000ff" stroke-width="1" shape-rendering="auto"/>
<line x1="171.5" y1="1351.5" x2="171.5" y2="1354.5" stroke="#0000ff" stroke-width="1" />
<line x1="171.5" y1="1364.5" x2="171.5" y2="1367.5" stroke="#0000ff" stroke-width="1" />
<line x1="163.5" y1="1359.5" x2="166.5" y2="1359.5" stroke="#0000ff" stroke-width="1" />
<line x1="176.5" y1="1359.5" x2="179.5" y2="1359.5" stroke="#0000ff" stroke-width="1" />
<line x1="189.5" y1="1029" x2="189.5" y2="1105.5" stroke="#0000ff" stroke-width="1" />
<line x1="189.5" y1="1121.5" x2="189.5" y2="1198" stroke="#0000ff" stroke-width="1" />
<line x1="180.0" y1="1113.5" x2="181.5" y2="1113.5" stroke="#0000ff" stroke-width="1" />
<line x1="197.5" y1="1113.5" x2="202.0" y2="1113.5" stroke="#0000ff" stroke-width="1" />
<circle cx="189.5" cy="1113.5" r="8" fill="none" stroke="#0000ff" stroke-width="1" shape-rendering="auto"/>
<line x1="189.5" y1="1105.5" x2="189.5" y2="1108.5" stroke="#0000ff" stroke-width="1" />
<line x1="189.5" y1="1118.5" x2="189.5" y2="1121.5" stroke="#0000ff" stroke-width="1" />
<line x1="181.5" y1="1113.5" x2="184.5" y2="1113.5" stroke="#0000ff" stroke-width="1" />
<line x1="194.5" y1="1113.5" x2="197.5" y2="1113.5" stroke="#0000ff" stroke-width="1" />
<line x1="210.5" y1="1314" x2="210.5" y2="1369.5" stroke="#0000ff" stroke-width="1" />
<line x1="210.5" y1="1385.5" x2="210.5" y2="1444" stroke="#0000ff" stroke-width="1" />
<line x1="201.0" y1="1377.5" x2="202.5" y2="1377.5" stroke="#0000ff" stroke-width="1" />
<line x1="218.5" y1="1377.5" x2="220.0" y2="1377.5" stroke="#0000ff" stroke-width="1" />
<circle cx="210.5" cy="1377.5" r="8" fill="none" stroke="#0000ff" stroke-width="1" shape-rendering="auto"/>
<line x1="210.5" y1="1369.5" x2="210.5" y2="1372.5" stroke="#0000ff" stroke-width="1" />
<line x1="210.5" y1="1382.5" x2="210.5" y2="1385.5" stroke="#0000ff" stroke-width="1" />
<line x1="202.5" y1="1377.5" x2="205.5" y2="1377.5" stroke="#0000ff" stroke-width="1" />
<line x1="215.5" y1="1377.5" x2="218.5" y2="1377.5" stroke="#0000ff" stroke-width="1" />
<line x1="231.5" y1="1356" x2="231.5" y2="1411.5" stroke="#0000ff" stroke-width="1" />
<line x1="231.5" y1="1427.5" x2="231.5" y2="1480" stroke="#0000ff" stroke-width="1" />
<line x1="219.0" y1="1419.5" x2="223.5" y2="1419.5" stroke="#0000ff" stroke-width="1" />
<line x1="239.5" y1="1419.5" x2="241.0" y2="1419.5" stroke="#0000ff" stroke-width="1" />
<circle cx="231.5" cy="1419.5" r="8" fill="none" stroke="#0000ff" stroke-width="1" shape-rendering="auto"/>
<line x1="231.5" y1="1411.5" x2="231.5" y2="1414.5" stroke="#0000ff" stroke-width="1" />
<line x1="231.5" y1="1424.5" x2="231.5" y2="1427.5" stroke="#0000ff" stroke-width="1" />
<line x1="223.5" y1="1419.5" x2="226.5" y2="1419.5" stroke="#0000ff" stroke-width="1" />
<line x1="236.5" y1="1419.5" x2="239.5" y2="1419.5" stroke="#0000ff" stroke-width="1" />
<line x1="249.5" y1="1356" x2="249.5" y2="1411.5" stroke="#0000ff" stroke-width="1" />
<line x1="249.5" y1="1427.5" x2="249.5" y2="1480" stroke="#0000ff" stroke-width="1" />
<line x1="240.0" y1="1419.5" x2="241.5" y2="1419.5" stroke="#0000ff" stroke-width="1" />
<line x1="257.5" y1="1419.5" x2="262.0" y2="1419.5" stroke="#0000ff" stroke-width="1" />
<circle cx="249.5" cy="1419.5" r="8" fill="none" stroke="#0000ff" stroke-width="1" shape-rendering="auto"/>
<line x1="249.5" y1="1411.5" x2="249.5" y2="1414.5" stroke="#0000ff" stroke-width="1" />
<line x1="249.5" y1="1424.5" x2="249.5" y2="1427.5" stroke="#0000ff" stroke-width="1" />
<line x1="241.5" y1="1419.5" x2="244.5" y2="1419.5" stroke="#0000ff" stroke-width="1" />
<line x1="254.5" y1="1419.5" x2="257.5" y2="1419.5" stroke="#0000ff" stroke-width="1" />
<line x1="270.5" y1="1269" x2="270.5" y2="1330.5" stroke="#0000ff" stroke-width="1" />
<line x1="270.5" y1="1346.5" x2="270.5" y2="1408" stroke="#0000ff" stroke-width="1" />
<line x1="261.0" y1="1338.5" x2="262.5" y2="1338.5" stroke="#0000ff" stroke-width="1" />
<line x1="278.5" y1="1338.5" x2="280.0" y2="1338.5" stroke="#0000ff" stroke-width="1" />
<circle cx="270.5" cy="1338.5" r="8" fill="none" stroke="#0000ff" stroke-width="1" shape-rendering="auto"/>
<line x1="270.5" y1="1330.5" x2="270.5" y2="1333.5" stroke="#0000ff" stroke-width="1" />
<line x1="270.5" y1="1343.5" x2="270.5" y2="1346.5" stroke="#0000ff" stroke-width="1" />
<line x1="262.5" y1="1338.5" x2="265.5" y2="1338.5" stroke="#0000ff" stroke-width="1" />
<line x1="275.5" y1="1338.5" x2="278.5" y2="1338.5" stroke="#0000ff" stroke-width="1" />
<line x1="291.5" y1="1365" x2="291.5" y2="1420.5" stroke="#0000ff" stroke-width="1" />
<line x1="291.5" y1="1436.5" x2="291.5" y2="1489" stroke="#0000ff" stroke-width="1" />
<line x1="279.0" y1="1428.5" x2="283.5" y2="1428.5" stroke="#0000ff" stroke-width="1" />
<line x1="299.5" y1="1428.5" x2="301.0" y2="1428.5" stroke="#0000ff" stroke-width="1" />
<circle cx="291.5" cy="1428.5" r="8" fill="none" stroke="#0000ff" stroke-width="1" shape-rendering="auto"/>
<line x1="291.5" y1="1420.5" x2="291.5" y2="1423.5" stroke="#0000ff" stroke-width="1" />
<line x1="291.5" y1="1433.5" x2="291.5" y2="1436.5" stroke="#0000ff" stroke-width="1" />
<line x1="283.5" y1="1428.5" x2="286.5" y2="1428.5" stroke="#0000ff" stroke-width="1" />
<line x1="296.5" y1="1428.5" x2="299.5" y2="1428.5" stroke="#0000ff" stroke-width="1" />
<line x1="309.5" y1="1290" x2="309.5" y2="1351.5" stroke="#0000ff" stroke-width="1" />
<line x1="309.5" y1="1367.5" x2="309.5" y2="1426" stroke="#0000ff" stroke-width="1" />
<line x1="300.0" y1="1359.5" x2="301.5" y2="1359.5" stroke="#0000ff" stroke-width="1" />
<line x1="317.5" y1="1359.5" x2="322.0" y2="1359.5" stroke="#0000ff" stroke-width="1" />
<circle cx="309.5" cy="1359.5" r="8" fill="none" stroke="#0000ff" stroke-width="1" shape-rendering="auto"/>
<line x1="309.5" y1="1351.5" x2="309.5" y2="1354.5" stroke="#0000ff" stroke-width="1" />
<line x1="309.5" y1="1364.5" x2="309.5" y2="1367.5" stroke="#0000ff" stroke-width="1" />
<line x1="301.5" y1="1359.5" x2="304.5" y2="1359.5" stroke="#0000ff" stroke-width="1" />
<line x1="314.5" y1="1359.5" x2="317.5" y2="1359.5" stroke="#0000ff" stroke-width="1" />
<line x1="330.5" y1="1419" x2="330.5" y2="1468.5" stroke="#0000ff" stroke-width="1" />
<line x1="330.5" y1="1484.5" x2="330.5" y2="1537" stroke="#0000ff" stroke-width="1" />
<line x1="321.0" y1="1476.5" x2="322.5" y2="1476.5" stroke="#0000ff" stroke-width="1" />
<line x1="338.5" y1="1476.5" x2="340.0" y2="1476.5" stroke="#0000ff" stroke-width="1" />
<circle cx="330.5" cy="1476.5" r="8" fill="none" stroke="#0000ff" stroke-width="1" shape-rendering="auto"/>
<line x1="330.5" y1="1468.5" x2="330.5" y2="1471.5" stroke="#0000ff" stroke-width="1" />
<line x1="330.5" y1="1481.5" x2="330.5" y2="1484.5" stroke="#0000ff" stroke-width="1" />
<line x1="322.5" y1="1476.5" x2="325.5" y2="1476.5" stroke="#0000ff" stroke-width="1" />
<line x1="335.5" y1="1476.5" x2="338.5" y2="1476.5" stroke="#0000ff" stroke-width="1" />
<line x1="351.5" y1="1290" x2="351.5" y2="1351.5" stroke="#0000ff" stroke-width="1" />
<line x1="351.5" y1="1367.5" x2="351.5" y2="1426" stroke="#0000ff" stroke-width="1" />
<line x1="339.0" y1="1359.5" x2="343.5" y2="1359.5" stroke="#0000ff" stroke-width="1" />
<line x1="359.5" y1="1359.5" x2="361.0" y2="1359.5" stroke="#0000ff" stroke-width="1" />
<circle cx="351.5" cy="1359.5" r="8" fill="none" stroke="#0000ff" stroke-width="1" shape-rendering="auto"/>
<line x1="351.5" y1="1351.5" x2="351.5" y2="1354.5" stroke="#0000ff" stroke-width="1" />
<line x1="351.5" y1="1364.5" x2="351.5" y2="1367.5" stroke="#0000ff" stroke-width="1" />
<line x1="343.5" y1="1359.5" x2="346.5" y2="1359.5" stroke="#0000ff" stroke-width="1" />
<line x1="356.5" y1="1359.5" x2="359.5" y2="1359.5" stroke="#0000ff" stroke-width="1" />
<line x1="369.5" y1="1344" x2="369.5" y2="1399.5" stroke="#0000ff" stroke-width="1" />
<line x1="369.5" y1="1415.5" x2="369.5" y2="1471" stroke="#0000ff" stroke-width="1" />
<line x1="360.0" y1="1407.5" x2="361.5" y2="1407.5" stroke="#0000ff" stroke-width="1" />
<line x1="377.5" y1="1407.5" x2="379.0" y2="1407.5" stroke="#0000ff" stroke-width="1" />
<circle cx="369.5" cy="1407.5" r="8" fill="none" stroke="#0000ff" stroke-width="1" shape-rendering="auto"/>
<line x1="369.5" y1="1399.5" x2="369.5" y2="1402.5" stroke="#0000ff" stroke-width="1" />
<line x1="369.5" y1="1412.5" x2="369.5" y2="1415.5" stroke="#0000ff" stroke-width="1" />
<line x1="361.5" y1="1407.5" x2="364.5" y2="1407.5" stroke="#0000ff" stroke-width="1" />
<line x1="374.5" y1="1407.5" x2="377.5" y2="1407.5" stroke="#0000ff" stroke-width="1" />
<line x1="390.5" y1="1449" x2="390.5" y2="1498.5" stroke="#0000ff" stroke-width="1" />
<line x1="390.5" y1="1514.5" x2="390.5" y2="1561" stroke="#0000ff" stroke-width="1" />
<line x1="378.0" y1="1506.5" x2="382.5" y2="1506.5" stroke="#0000ff" stroke-width="1" />
<line x1="398.5" y1="1506.5" x2="400.0" y2="1506.5" stroke="#0000ff" stroke-width="1" />
<circle cx="390.5" cy="1506.5" r="8" fill="none" stroke="#0000ff" stroke-width="1" shape-rendering="auto"/>
<line x1="390.5" y1="1498.5" x2="390.5" y2="1501.5" stroke="#0000ff" stroke-width="1" />
<line x1="390.5" y1="1511.5" x2="390.5" y2="1514.5" stroke="#0000ff" stroke-width="1" />
<line x1="382.5" y1="1506.5" x2="385.5" y2="1506.5" stroke="#0000ff" stroke-width="1" />
<line x1="395.5" y1="1506.5" x2="398.5" y2="1506.5" stroke="#0000ff" stroke-width="1" />
<line x1="408.5" y1="1428" x2="408.5" y2="1477.5" stroke="#0000ff" stroke-width="1" />
<line x1="408.5" y1="1493.5" x2="408.5" y2="1546" stroke="#0000ff" stroke-width="1" />
<line x1="399.0" y1="1485.5" x2="400.5" y2="1485.5" stroke="#0000ff" stroke-width="1" />
<line x1="416.5" y1="1485.5" x2="421.0" y2="1485.5" stroke="#0000ff" stroke-width="1" />
<circle cx="408.5" cy="1485.5" r="8" fill="none" stroke="#0000ff" stroke-width="1" shape-rendering="auto"/>
<line x1="408.5" y1="1477.5" x2="408.5" y2="1480.5" stroke="#0000ff" stroke-width="1" />
<line x1="408.5" y1="1490.5" x2="408.5" y2="1493.5" stroke="#0000ff" stroke-width="1" />
<line x1="400.5" y1="1485.5" x2="403.5" y2="1485.5" stroke="#0000ff" stroke-width="1" />
<line x1="413.5" y1="1485.5" x2="416.5" y2="1485.5" stroke="#0000ff" stroke-width="1" />
<line x1="429.5" y1="1428" x2="429.5" y2="1477.5" stroke="#0000ff" stroke-width="1" />
<line x1="429.5" y1="1493.5" x2="429.5" y2="1546" stroke="#0000ff" stroke-width="1" />
<line x1="420.0" y1="1485.5" x2="421.5" y2="1485.5" stroke="#0000ff" stroke-width="1" />
<line x1="437.5" y1="1485.5" x2="439.0" y2="1485.5" stroke="#0000ff" stroke-width="1" />
<circle cx="429.5" cy="1485.5" r="8" fill="none" stroke="#0000ff" stroke-width="1" shape-rendering="auto"/>
<line x1="429.5" y1="1477.5" x2="429.5" y2="1480.5" stroke="#0000ff" stroke-width="1" />
<line x1="429.5" y1="1490.5" x2="429.5" y2="1493.5" stroke="#0000ff" stroke-width="1" />
<line x1="421.5" y1="1485.5" x2="424.5" y2="1485.5" stroke="#0000ff" stroke-width="1" />
<line x1="434.5" y1="1485.5" x2="437.5" y2="1485.5" stroke="#0000ff" stroke-width="1" />
<line x1="450.5" y1="1527" x2="450.5" y2="1567.5" stroke="#0000ff" stroke-width="1" />
<line x1="450.5" y1="1583.5" x2="450.5" y2="1624" stroke="#0000ff" stroke-width="1" />
<line x1="438.0" y1="1575.5" x2="442.5" y2="1575.5" stroke="#0000ff" stroke-width="1" />
<line x1="458.5" y1="1575.5" x2="460.0" y2="1575.5" stroke="#0000ff" stroke-width="1" />
<circle cx="450.5" cy="1575.5" r="8" fill="none" stroke="#0000ff" stroke-width="1" shape-rendering="auto"/>
<line x1="450.5" y1="1567.5" x2="450.5" y2="1570.5" stroke="#0000ff" stroke-width="1" />
<line x1="450.5" y1="1580.5" x2="450.5" y2="1583.5" stroke="#0000ff" stroke-width="1" />
<line x1="442.5" y1="1575.5" x2="445.5" y2="1575.5" stroke="#0000ff" stroke-width="1" />
<line x1="455.5" y1="1575.5" x2="458.5" y2="1575.5" stroke="#0000ff" stroke-width="1" />
<line x1="468.5" y1="1503" x2="468.5" y2="1546.5" stroke="#0000ff" stroke-width="1" />
<line x1="468.5" y1="1562.5" x2="468.5" y2="1606" stroke="#0000ff" stroke-width="1" />
<line x1="459.0" y1="1554.5" x2="460.5" y2="1554.5" stroke="#0000ff" stroke-width="1" />
<line x1="476.5" y1="1554.5" x2="481.0" y2="1554.5" stroke="#0000ff" stroke-width="1" />
<circle cx="468.5" cy="1554.5" r="8" fill="none" stroke="#0000ff" stroke-width="1" shape-rendering="auto"/>
<line x1="468.5" y1="1546.5" x2="468.5" y2="1549.5" stroke="#0000ff" stroke-width="1" />
<line x1="468.5" y1="1559.5" x2="468.5" y2="1562.5" stroke="#0000ff" stroke-width="1" />
<line x1="460.5" y1="1554.5" x2="463.5" y2="1554.5" stroke="#0000ff" stroke-width="1" />
<line x1="473.5" y1="1554.5" x2="476.5" y2="1554.5" stroke="#0000ff" stroke-width="1" />
<line x1="489.5" y1="1440" x2="489.5" y2="1489.5" stroke="#0000ff" stroke-width="1" />
<line x1="489.5" y1="1505.5" x2="489.5" y2="1552" stroke="#0000ff" stroke-width="1" />
<line x1="480.0" y1="1497.5" x2="481.5" y2="1497.5" stroke="#0000ff" stroke-width="1" />
<line x1="497.5" y1="1497.5" x2="499.0" y2="1497.5" stroke="#0000ff" stroke-width="1" />
<circle cx="489.5" cy="1497.5" r="8" fill="none" stroke="#0000ff" stroke-width="1" shape-rendering="auto"/>
<line x1="489.5" y1="1489.5" x2="489.5" y2="1492.5" stroke="#0000ff" stroke-width="1" />
<line x1="489.5" y1="1502.5" x2="489.5" y2="1505.5" stroke="#0000ff" stroke-width="1" />
<line x1="481.5" y1="1497.5" x2="484.5" y2="1497.5" stroke="#0000ff" stroke-width="1" />
<line x1="494.5" y1="1497.5" x2="497.5" y2="1497.5" stroke="#0000ff" stroke-width="1" />
<line x1="510.5" y1="1602" x2="510.5" y2="1636.5" stroke="#0000ff" stroke-width="1" />
<line x1="510.5" y1="1652.5" x2="510.5" y2="1687" stroke="#0000ff" stroke-width="1" />
<line x1="498.0" y1="1644.5" x2="502.5" y2="1644.5" stroke="#0000ff" stroke-width="1" />
<line x1="518.5" y1="1644.5" x2="520.0" y2="1644.5" stroke="#0000ff" stroke-width="1" />
<circle cx="510.5" cy="1644.5" r="8" fill="none" stroke="#0000ff" stroke-width="1" shape-rendering="auto"/>
<line x1="510.5" y1="1636.5" x2="510.5" y2="1639.5" stroke="#0000ff" stroke-width="1" />
<line x1="510.5" y1="1649.5" x2="510.5" y2="1652.5" stroke="#0000ff" stroke-width="1" />
<line x1="502.5" y1="1644.5" x2="505.5" y2="1644.5" stroke="#0000ff" stroke-width="1" />
<line x1="515.5" y1="1644.5" x2="518.5" y2="1644.5" stroke="#0000ff" stroke-width="1" />
<line x1="528.5" y1="1503" x2="528.5" y2="1546.5" stroke="#0000ff" stroke-width="1" />
<line x1="528.5" y1="1562.5" x2="528.5" y2="1606" stroke="#0000ff" stroke-width="1" />
<line x1="519.0" y1="1554.5" x2="520.5" y2="1554.5" stroke="#0000ff" stroke-width="1" />
<line x1="536.5" y1="1554.5" x2="541.0" y2="1554.5" stroke="#0000ff" stroke-width="1" />
<circle cx="528.5" cy="1554.5" r="8" fill="none" stroke="#0000ff" stroke-width="1" shape-rendering="auto"/>
<line x1="528.5" y1="1546.5" x2="528.5" y2="1549.5" stroke="#0000ff" stroke-width="1" />
<line x1="528.5" y1="1559.5" x2="528.5" y2="1562.5" stroke="#0000ff" stroke-width="1" />
<line x1="520.5" y1="1554.5" x2="523.5" y2="1554.5" stroke="#0000ff" stroke-width="1" />
<line x1="533.5" y1="1554.5" x2="536.5" y2="1554.5" stroke="#0000ff" stroke-width="1" />
<line x1="549.5" y1="1536" x2="549.5" y2="1576.5" stroke="#0000ff" stroke-width="1" />
<line x1="549.5" y1="1592.5" x2="549.5" y2="1633" stroke="#0000ff" stroke-width="1" />
<line x1="540.0" y1="1584.5" x2="541.5" y2="1584.5" stroke="#0000ff" stroke-width="1" />
<line x1="557.5" y1="1584.5" x2="559.0" y2="1584.5" stroke="#0000ff" stroke-width="1" />
<circle cx="549.5" cy="1584.5" r="8" fill="none" stroke="#0000ff" stroke-width="1" shape-rendering="auto"/>
<line x1="549.5" y1="1576.5" x2="549.5" y2="1579.5" stroke="#0000ff" stroke-width="1" />
<line x1="549.5" y1="1589.5" x2="549.5" y2="1592.5" stroke="#0000ff" stroke-width="1" />
<line x1="541.5" y1="1584.5" x2="544.5" y2="1584.5" stroke="#0000ff" stroke-width="1" />
<line x1="554.5" y1="1584.5" x2="557.5" y2="1584.5" stroke="#0000ff" stroke-width="1" />
<line x1="570.5" y1="1503" x2="570.5" y2="1546.5" stroke="#0000ff" stroke-width="1" />
<line x1="570.5" y1="1562.5" x2="570.5" y2="1606" stroke="#0000ff" stroke-width="1" />
<line x1="558.0" y1="1554.5" x2="562.5" y2="1554.5" stroke="#0000ff" stroke-width="1" />
<line x1="578.5" y1="1554.5" x2="580.0" y2="1554.5" stroke="#0000ff" stroke-width="1" />
<circle cx="570.5" cy="1554.5" r="8" fill="none" stroke="#0000ff" stroke-width="1" shape-rendering="auto"/>
<line x1="570.5" y1="1546.5" x2="570.5" y2="1549.5" stroke="#0000ff" stroke-width="1" />
<line x1="570.5" y1="1559.5" x2="570.5" y2="1562.5" stroke="#0000ff" stroke-width="1" />
<line x1="562.5" y1="1554.5" x2="565.5" y2="1554.5" stroke="#0000ff" stroke-width="1" />
<line x1="575.5" y1="1554.5" x2="578.5" y2="1554.5" stroke="#0000ff" stroke-width="1" />
<line x1="588.5" y1="1647" x2="588.5" y2="1675.5" stroke="#0000ff" stroke-width="1" />
<line x1="588.5" y1="1691.5" x2="588.5" y2="1720" stroke="#0000ff" stroke-width="1" />
<line x1="579.0" y1="1683.5" x2="580.5" y2="1683.5" stroke="#0000ff" stroke-width="1" />
<line x1="596.5" y1="1683.5" x2="601.0" y2="1683.5" stroke="#0000ff" stroke-width="1" />
<circle cx="588.5" cy="1683.5" r="8" fill="none" stroke="#0000ff" stroke-width="1" shape-rendering="auto"/>
<line x1="588.5" y1="1675.5" x2="588.5" y2="1678.5" stroke="#0000ff" stroke-width="1" />
<line x1="588.5" y1="1688.5" x2="588.5" y2="1691.5" stroke="#0000ff" stroke-width="1" />
<line x1="580.5" y1="1683.5" x2="583.5" y2="1683.5" stroke="#0000ff" stroke-width="1" />
<line x1="593.5" y1="1683.5" x2="596.5" y2="1683.5" stroke="#0000ff" stroke-width="1" />
<line x1="609.5" y1="1623" x2="609.5" y2="1654.5" stroke="#0000ff" stroke-width="1" />
<line x1="609.5" y1="1670.5" x2="609.5" y2="1702" stroke="#0000ff" stroke-width="1" />
<line x1="600.0" y1="1662.5" x2="601.5" y2="1662.5" stroke="#0000ff" stroke-width="1" />
<line x1="617.5" y1="1662.5" x2="619.0" y2="1662.5" stroke="#0000ff" stroke-width="1" />
<circle cx="609.5" cy="1662.5" r="8" fill="none" stroke="#0000ff" stroke-width="1" shape-rendering="auto"/>
<line x1="609.5" y1="1654.5" x2="609.5" y2="1657.5" stroke="#0000ff" stroke-width="1" />
<line x1="609.5" y1="1667.5" x2="609.5" y2="1670.5" stroke="#0000ff" stroke-width="1" />
<line x1="601.5" y1="1662.5" x2="604.5" y2="1662.5" stroke="#0000ff" stroke-width="1" />
<line x1="614.5" y1="1662.5" x2="617.5" y2="1662.5" stroke="#0000ff" stroke-width="1" />
<line x1="630.5" y1="1692" x2="630.5" y2="1714.5" stroke="#0000ff" stroke-width="1" />
<line x1="630.5" y1="1730.5" x2="630.5" y2="1753" stroke="#0000ff" stroke-width="1" />
<line x1="618.0" y1="1722.5" x2="622.5" y2="1722.5" stroke="#0000ff" stroke-width="1" />
<line x1="638.5" y1="1722.5" x2="640.0" y2="1722.5" stroke="#0000ff" stroke-width="1" />
<circle cx="630.5" cy="1722.5" r="8" fill="none" stroke="#0000ff" stroke-width="1" shape-rendering="auto"/>
<line x1="630.5" y1="1714.5" x2="630.5" y2="1717.5" stroke="#0000ff" stroke-width="1" />
<line x1="630.5" y1="1727.5" x2="630.5" y2="1730.5" stroke="#0000ff" stroke-width="1" />
<line x1="622.5" y1="1722.5" x2="625.5" y2="1722.5" stroke="#0000ff" stroke-width="1" />
<line x1="635.5" y1="1722.5" x2="638.5" y2="1722.5" stroke="#0000ff" stroke-width="1" />
<line x1="648.5" y1="1581" x2="648.5" y2="1615.5" stroke="#0000ff" stroke-width="1" />
<line x1="648.5" y1="1631.5" x2="648.5" y2="1669" stroke="#0000ff" stroke-width="1" />
<line x1="639.0" y1="1623.5" x2="640.5" y2="1623.5" stroke="#0000ff" stroke-width="1" />
<line x1="656.5" y1="1623.5" x2="661.0" y2="1623.5" stroke="#0000ff" stroke-width="1" />
<circle cx="648.5" cy="1623.5" r="8" fill="none" stroke="#0000ff" stroke-width="1" shape-rendering="auto"/>
<line x1="648.5" y1="1615.5" x2="648.5" y2="1618.5" stroke="#0000ff" stroke-width="1" />
<line x1="648.5" y1="1628.5" x2="648.5" y2="1631.5" stroke="#0000ff" stroke-width="1" />
<line x1="640.5" y1="1623.5" x2="643.5" y2="1623.5" stroke="#0000ff" stroke-width="1" />
<line x1="653.5" y1="1623.5" x2="656.5" y2="1623.5" stroke="#0000ff" stroke-width="1" />
<line x1="669.5" y1="1701" x2="669.5" y2="1723.5" stroke="#0000ff" stroke-width="1" />
<line x1="669.5" y1="1739.5" x2="669.5" y2="1762" stroke="#0000ff" stroke-width="1" />
<line x1="660.0" y1="1731.5" x2="661.5" y2="1731.5" stroke="#0000ff" stroke-width="1" />
<line x1="677.5" y1="1731.5" x2="679.0" y2="1731.5" stroke="#0000ff" stroke-width="1" />
<circle cx="669.5" cy="1731.5" r="8" fill="none" stroke="#0000ff" stroke-width="1" shape-rendering="auto"/>
<line x1="669.5" y1="1723.5" x2="669.5" y2="1726.5" stroke="#0000ff" stroke-width="1" />
<line x1="669.5" y1="1736.5" x2="669.5" y2="1739.5" stroke="#0000ff" stroke-width="1" />
<line x1="661.5" y1="1731.5" x2="664.5" y2="1731.5" stroke="#0000ff" stroke-width="1" />
<line x1="674.5" y1="1731.5" x2="677.5" y2="1731.5" stroke="#0000ff" stroke-width="1" />
<line x1="687.5" y1="1725" x2="687.5" y2="1744.5" stroke="#0000ff" stroke-width="1" />
<line x1="687.5" y1="1760.5" x2="687.5" y2="1777" stroke="#0000ff" stroke-width="1" />
<line x1="678.0" y1="1752.5" x2="679.5" y2="1752.5" stroke="#0000ff" stroke-width="1" />
<line x1="695.5" y1="1752.5" x2="700.0" y2="1752.5" stroke="#0000ff" stroke-width="1" />
<circle cx="687.5" cy="1752.5" r="8" fill="none" stroke="#0000ff" stroke-width="1" shape-rendering="auto"/>
<line x1="687.5" y1="1744.5" x2="687.5" y2="1747.5" stroke="#0000ff" stroke-width="1" />
<line x1="687.5" y1="1757.5" x2="687.5" y2="1760.5" stroke="#0000ff" stroke-width="1" />
<line x1="679.5" y1="1752.5" x2="682.5" y2="1752.5" stroke="#0000ff" stroke-width="1" />
<line x1="692.5" y1="1752.5" x2="695.5" y2="1752.5" stroke="#0000ff" stroke-width="1" />
<line x1="708.5" y1="1701" x2="708.5" y2="1723.5" stroke="#0000ff" stroke-width="1" />
<line x1="708.5" y1="1739.5" x2="708.5" y2="1762" stroke="#0000ff" stroke-width="1" />
<line x1="699.0" y1="1731.5" x2="700.5" y2="1731.5" stroke="#0000ff" stroke-width="1" />
<line x1="716.5" y1="1731.5" x2="718.0" y2="1731.5" stroke="#0000ff" stroke-width="1" />
<circle cx="708.5" cy="1731.5" r="8" fill="none" stroke="#0000ff" stroke-width="1" shape-rendering="auto"/>
<line x1="708.5" y1="1723.5" x2="708.5" y2="1726.5" stroke="#0000ff" stroke-width="1" />
<line x1="708.5" y1="1736.5" x2="708.5" y2="1739.5" stroke="#0000ff" stroke-width="1" />
<line x1="700.5" y1="1731.5" x2="703.5" y2="1731.5" stroke="#0000ff" stroke-width="1" />
<line x1="713.5" y1="1731.5" x2="716.5" y2="1731.5" stroke="#0000ff" stroke-width="1" />
<line x1="729.5" y1="1737" x2="729.5" y2="1753.5" stroke="#0000ff" stroke-width="1" />
<line x1="729.5" y1="1769.5" x2="729.5" y2="1786" stroke="#0000ff" stroke-width="1" />
<line x1="717.0" y1="1761.5" x2="721.5" y2="1761.5" stroke="#0000ff" stroke-width="1" />
<line x1="737.5" y1="1761.5" x2="739.0" y2="1761.5" stroke="#0000ff" stroke-width="1" />
<circle cx="729.5" cy="1761.5" r="8" fill="none" stroke="#0000ff" stroke-width="1" shape-rendering="auto"/>
<line x1="729.5" y1="1753.5" x2="729.5" y2="1756.5" stroke="#0000ff" stroke-width="1" />
<line x1="729.5" y1="1766.5" x2="729.5" y2="1769.5" stroke="#0000ff" stroke-width="1" />
<line x1="721.5" y1="1761.5" x2="724.5" y2="1761.5" stroke="#0000ff" stroke-width="1" />
<line x1="734.5" y1="1761.5" x2="737.5" y2="1761.5" stroke="#0000ff" stroke-width="1" />
<line x1="747.5" y1="1800" x2="747.5" y2="1801.5" stroke="#0000ff" stroke-width="1" />
<line x1="747.5" y1="1817.5" x2="747.5" y2="1822" stroke="#0000ff" stroke-width="1" />
<line x1="738.0" y1="1809.5" x2="739.5" y2="1809.5" stroke="#0000ff" stroke-width="1" />
<line x1="755.5" y1="1809.5" x2="760.0" y2="1809.5" stroke="#0000ff" stroke-width="1" />
<circle cx="747.5" cy="1809.5" r="8" fill="none" stroke="#0000ff" stroke-width="1" shape-rendering="auto"/>
<line x1="747.5" y1="1801.5" x2="747.5" y2="1804.5" stroke="#0000ff" stroke-width="1" />
<line x1="747.5" y1="1814.5" x2="747.5" y2="1817.5" stroke="#0000ff" stroke-width="1" />
<line x1="739.5" y1="1809.5" x2="742.5" y2="1809.5" stroke="#0000ff" stroke-width="1" />
<line x1="752.5" y1="1809.5" x2="755.5" y2="1809.5" stroke="#0000ff" stroke-width="1" />
<line x1="768.5" y1="1725" x2="768.5" y2="1744.5" stroke="#0000ff" stroke-width="1" />
<line x1="768.5" y1="1760.5" x2="768.5" y2="1777" stroke="#0000ff" stroke-width="1" />
<line x1="759.0" y1="1752.5" x2="760.5" y2="1752.5" stroke="#0000ff" stroke-width="1" />
<line x1="776.5" y1="1752.5" x2="778.0" y2="1752.5" stroke="#0000ff" stroke-width="1" />
<circle cx="768.5" cy="1752.5" r="8" fill="none" stroke="#0000ff" stroke-width="1" shape-rendering="auto"/>
<line x1="768.5" y1="1744.5" x2="768.5" y2="1747.5" stroke="#0000ff" stroke-width="1" />
<line x1="768.5" y1="1757.5" x2="768.5" y2="1760.5" stroke="#0000ff" stroke-width="1" />
<line x1="760.5" y1="1752.5" x2="763.5" y2="1752.5" stroke="#0000ff" stroke-width="1" />
<line x1="773.5" y1="1752.5" x2="776.5" y2="1752.5" stroke="#0000ff" stroke-width="1" />
<line x1="789.5" y1="1749" x2="789.5" y2="1762.5" stroke="#0000ff" stroke-width="1" />
<line x1="789.5" y1="1778.5" x2="789.5" y2="1795" stroke="#0000ff" stroke-width="1" />
<line x1="777.0" y1="1770.5" x2="781.5" y2="1770.5" stroke="#0000ff" stroke-width="1" />
<line x1="797.5" y1="1770.5" x2="799.0" y2="1770.5" stroke="#0000ff" stroke-width="1" />
<circle cx="789.5" cy="1770.5" r="8" fill="none" stroke="#0000ff" stroke-width="1" shape-rendering="auto"/>
<line x1="789.5" y1="1762.5" x2="789.5" y2="1765.5" stroke="#0000ff" stroke-width="1" />
<line x1="789.5" y1="1775.5" x2="789.5" y2="1778.5" stroke="#0000ff" stroke-width="1" />
<line x1="781.5" y1="1770.5" x2="784.5" y2="1770.5" stroke="#0000ff" stroke-width="1" />
<line x1="794.5" y1="1770.5" x2="797.5" y2="1770.5" stroke="#0000ff" stroke-width="1" />
<line x1="807.5" y1="1773" x2="807.5" y2="1783.5" stroke="#0000ff" stroke-width="1" />
<line x1="807.5" y1="1799.5" x2="807.5" y2="1810" stroke="#0000ff" stroke-width="1" />
<line x1="798.0" y1="1791.5" x2="799.5" y2="1791.5" stroke="#0000ff" stroke-width="1" />
<line x1="815.5" y1="1791.5" x2="820.0" y2="1791.5" stroke="#0000ff" stroke-width="1" />
<circle cx="807.5" cy="1791.5" r="8" fill="none" stroke="#0000ff" stroke-width="1" shape-rendering="auto"/>
<line x1="807.5" y1="1783.5" x2="807.5" y2="1786.5" stroke="#0000ff" stroke-width="1" />
<line x1="807.5" y1="1796.5" x2="807.5" y2="1799.5" stroke="#0000ff" stroke-width="1" />
<line x1="799.5" y1="1791.5" x2="802.5" y2="1791.5" stroke="#0000ff" stroke-width="1" />
<line x1="812.5" y1="1791.5" x2="815.5" y2="1791.5" stroke="#0000ff" stroke-width="1" />
<line x1="828.5" y1="1761" x2="828.5" y2="1774.5" stroke="#0000ff" stroke-width="1" />
<line x1="828.5" y1="1790.5" x2="828.5" y2="1801" stroke="#0000ff" stroke-width="1" />
<line x1="819.0" y1="1782.5" x2="820.5" y2="1782.5" stroke="#0000ff" stroke-width="1" />
<line x1="836.5" y1="1782.5" x2="838.0" y2="1782.5" stroke="#0000ff" stroke-width="1" />
<circle cx="828.5" cy="1782.5" r="8" fill="none" stroke="#0000ff" stroke-width="1" shape-rendering="auto"/>
<line x1="828.5" y1="1774.5" x2="828.5" y2="1777.5" stroke="#0000ff" stroke-width="1" />
<line x1="828.5" y1="1787.5" x2="828.5" y2="1790.5" stroke="#0000ff" stroke-width="1" />
<line x1="820.5" y1="1782.5" x2="823.5" y2="1782.5" stroke="#0000ff" stroke-width="1" />
<line x1="833.5" y1="1782.5" x2="836.5" y2="1782.5" stroke="#0000ff" stroke-width="1" />
<line x1="867.5" y1="1800" x2="867.5" y2="1801.5" stroke="#0000ff" stroke-width="1" />
<line x1="867.5" y1="1817.5" x2="867.5" y2="1822" stroke="#0000ff" stroke-width="1" />
<line x1="858.0" y1="1809.5" x2="859.5" y2="1809.5" stroke="#0000ff" stroke-width="1" />
<line x1="875.5" y1="1809.5" x2="880.0" y2="1809.5" stroke="#0000ff" stroke-width="1" />
<circle cx="867.5" cy="1809.5" r="8" fill="none" stroke="#0000ff" stroke-width="1" shape-rendering="auto"/>
<line x1="867.5" y1="1801.5" x2="867.5" y2="1804.5" stroke="#0000ff" stroke-width="1" />
<line x1="867.5" y1="1814.5" x2="867.5" y2="1817.5" stroke="#0000ff" stroke-width="1" />
<line x1="859.5" y1="1809.5" x2="862.5" y2="1809.5" stroke="#0000ff" stroke-width="1" />
<line x1="872.5" y1="1809.5" x2="875.5" y2="1809.5" stroke="#0000ff" stroke-width="1" />
<line x1="888.5" y1="1800" x2="888.5" y2="1801.5" stroke="#0000ff" stroke-width="1" />
<line x1="888.5" y1="1817.5" x2="888.5" y2="1822" stroke="#0000ff" stroke-width="1" />
<line x1="879.0" y1="1809.5" x2="880.5" y2="1809.5" stroke="#0000ff" stroke-width="1" />
<line x1="896.5" y1="1809.5" x2="898.0" y2="1809.5" stroke="#0000ff" stroke-width="1" />
<circle cx="888.5" cy="1809.5" r="8" fill="none" stroke="#0000ff" stroke-width="1" shape-rendering="auto"/>
<line x1="888.5" y1="1801.5" x2="888.5" y2="1804.5" stroke="#0000ff" stroke-width="1" />
<line x1="888.5" y1="1814.5" x2="888.5" y2="1817.5" stroke="#0000ff" stroke-width="1" />
<line x1="880.5" y1="1809.5" x2="883.5" y2="1809.5" stroke="#0000ff" stroke-width="1" />
<line x1="893.5" y1="1809.5" x2="896.5" y2="1809.5" stroke="#0000ff" stroke-width="1" />
</g>
<path d="M120.5,1329.5 L141.5,1329.5 L141.5,1287.5 L159.5,1287.5 L159.5,1356.5 L180.5,1356.5 L180.5,1194.5 L201.5,1194.5 L201.5,1350.5 L219.5,1350.5 L219.5,1398.5 L240.5,1398.5 L240.5,1485.5 L261.5,1485.5 L261.5,1371.5 L279.5,1371.5 L279.5,1401.5 L300.5,1401.5 L300.5,1410.5 L321.5,1410.5 L321.5,1413.5 L339.5,1413.5 L339.5,1392.5 L360.5,1392.5 L360.5,1419.5 L378.5,1419.5 L378.5,1476.5 L399.5,1476.5 L399.5,1494.5 L420.5,1494.5 L420.5,1431.5 L438.5,1431.5 L438.5,1527.5 L459.5,1527.5 L459.5,1536.5 L480.5,1536.5 L480.5,1452.5 L498.5,1452.5 L498.5,1629.5 L519.5,1629.5 L519.5,1572.5 L540.5,1572.5 L540.5,1611.5 L558.5,1611.5 L558.5,1581.5 L579.5,1581.5 L579.5,1641.5 L600.5,1641.5 L600.5,1662.5 L618.5,1662.5 L618.5,1734.5 L639.5,1734.5 L639.5,1653.5 L660.5,1653.5 L660.5,1740.5 L678.5,1740.5 L678.5,1755.5 L699.5,1755.5 L699.5,1743.5 L717.5,1743.5 L717.5,1776.5 L738.5,1776.5 L738.5,1797.5 L759.5,1797.5 L759.5,1767.5 L777.5,1767.5 L777.5,1788.5 L798.5,1788.5 L798.5,1773.5 L819.5,1773.5 L819.5,1776.5 L837.5,1776.5 L837.5,1821.5 L858.5,1821.5 L858.5,1812.5 L879.5,1812.5 L879.5,1809.5 L897.5,1809.5 L897.5,1821.5 L918.5,1821.5" fill="none" stroke="#0000ff" stroke-width="1" stroke-linejoin="miter"/>
<rect x="1158.5" y="1077.5" width="798" height="744" fill="none" stroke="#000" stroke-width="1"/>
<line x1="1158.5" y1="1821.5" x2="1158.5" y2="1797.5" stroke="#000" stroke-width="1" />
<text transform="translate(1157.5,1852.0) scale(1,1.07)" text-anchor="middle" class="lab">0</text>
<line x1="1185.5" y1="1821.5" x2="1185.5" y2="1809.5" stroke="#000" stroke-width="1" />
<line x1="1209.5" y1="1821.5" x2="1209.5" y2="1809.5" stroke="#000" stroke-width="1" />
<line x1="1236.5" y1="1821.5" x2="1236.5" y2="1809.5" stroke="#000" stroke-width="1" />
<line x1="1260.5" y1="1821.5" x2="1260.5" y2="1809.5" stroke="#000" stroke-width="1" />
<line x1="1284.5" y1="1821.5" x2="1284.5" y2="1797.5" stroke="#000" stroke-width="1" />
<text transform="translate(1283.5,1852.0) scale(1,1.07)" text-anchor="middle" class="lab">0.5</text>
<line x1="1311.5" y1="1821.5" x2="1311.5" y2="1809.5" stroke="#000" stroke-width="1" />
<line x1="1335.5" y1="1821.5" x2="1335.5" y2="1809.5" stroke="#000" stroke-width="1" />
<line x1="1362.5" y1="1821.5" x2="1362.5" y2="1809.5" stroke="#000" stroke-width="1" />
<line x1="1386.5" y1="1821.5" x2="1386.5" y2="1809.5" stroke="#000" stroke-width="1" />
<line x1="1413.5" y1="1821.5" x2="1413.5" y2="1797.5" stroke="#000" stroke-width="1" />
<text transform="translate(1412.5,1852.0) scale(1,1.07)" text-anchor="middle" class="lab">1</text>
<line x1="1437.5" y1="1821.5" x2="1437.5" y2="1809.5" stroke="#000" stroke-width="1" />
<line x1="1464.5" y1="1821.5" x2="1464.5" y2="1809.5" stroke="#000" stroke-width="1" />
<line x1="1488.5" y1="1821.5" x2="1488.5" y2="1809.5" stroke="#000" stroke-width="1" />
<line x1="1515.5" y1="1821.5" x2="1515.5" y2="1809.5" stroke="#000" stroke-width="1" />
<line x1="1539.5" y1="1821.5" x2="1539.5" y2="1797.5" stroke="#000" stroke-width="1" />
<text transform="translate(1538.5,1852.0) scale(1,1.07)" text-anchor="middle" class="lab">1.5</text>
<line x1="1563.5" y1="1821.5" x2="1563.5" y2="1809.5" stroke="#000" stroke-width="1" />
<line x1="1590.5" y1="1821.5" x2="1590.5" y2="1809.5" stroke="#000" stroke-width="1" />
<line x1="1614.5" y1="1821.5" x2="1614.5" y2="1809.5" stroke="#000" stroke-width="1" />
<line x1="1641.5" y1="1821.5" x2="1641.5" y2="1809.5" stroke="#000" stroke-width="1" />
<line x1="1665.5" y1="1821.5" x2="1665.5" y2="1797.5" stroke="#000" stroke-width="1" />
<text transform="translate(1664.5,1852.0) scale(1,1.07)" text-anchor="middle" class="lab">2</text>
<line x1="1692.5" y1="1821.5" x2="1692.5" y2="1809.5" stroke="#000" stroke-width="1" />
<line x1="1716.5" y1="1821.5" x2="1716.5" y2="1809.5" stroke="#000" stroke-width="1" />
<line x1="1743.5" y1="1821.5" x2="1743.5" y2="1809.5" stroke="#000" stroke-width="1" />
<line x1="1767.5" y1="1821.5" x2="1767.5" y2="1809.5" stroke="#000" stroke-width="1" />
<line x1="1794.5" y1="1821.5" x2="1794.5" y2="1797.5" stroke="#000" stroke-width="1" />
<text transform="translate(1793.5,1852.0) scale(1,1.07)" text-anchor="middle" class="lab">2.5</text>
<line x1="1818.5" y1="1821.5" x2="1818.5" y2="1809.5" stroke="#000" stroke-width="1" />
<line x1="1845.5" y1="1821.5" x2="1845.5" y2="1809.5" stroke="#000" stroke-width="1" />
<line x1="1869.5" y1="1821.5" x2="1869.5" y2="1809.5" stroke="#000" stroke-width="1" />
<line x1="1893.5" y1="1821.5" x2="1893.5" y2="1809.5" stroke="#000" stroke-width="1" />
<line x1="1920.5" y1="1821.5" x2="1920.5" y2="1797.5" stroke="#000" stroke-width="1" />
<text transform="translate(1919.5,1852.0) scale(1,1.07)" text-anchor="middle" class="lab">3</text>
<line x1="1944.5" y1="1821.5" x2="1944.5" y2="1809.5" stroke="#000" stroke-width="1" />
<line x1="1158.5" y1="1821.5" x2="1183.0" y2="1821.5" stroke="#000" stroke-width="1" />
<text transform="translate(1151.0,1834.0) scale(1,1.07)" text-anchor="end" class="lab">0</text>
<line x1="1158.5" y1="1797.5" x2="1171.0" y2="1797.5" stroke="#000" stroke-width="1" />
<line x1="1158.5" y1="1770.5" x2="1171.0" y2="1770.5" stroke="#000" stroke-width="1" />
<line x1="1158.5" y1="1746.5" x2="1171.0" y2="1746.5" stroke="#000" stroke-width="1" />
<line x1="1158.5" y1="1722.5" x2="1171.0" y2="1722.5" stroke="#000" stroke-width="1" />
<line x1="1158.5" y1="1698.5" x2="1183.0" y2="1698.5" stroke="#000" stroke-width="1" />
<text transform="translate(1152.5,1711.0) scale(1,1.07)" text-anchor="end" class="lab">10</text>
<line x1="1158.5" y1="1674.5" x2="1171.0" y2="1674.5" stroke="#000" stroke-width="1" />
<line x1="1158.5" y1="1650.5" x2="1171.0" y2="1650.5" stroke="#000" stroke-width="1" />
<line x1="1158.5" y1="1626.5" x2="1171.0" y2="1626.5" stroke="#000" stroke-width="1" />
<line x1="1158.5" y1="1602.5" x2="1171.0" y2="1602.5" stroke="#000" stroke-width="1" />
<line x1="1158.5" y1="1578.5" x2="1183.0" y2="1578.5" stroke="#000" stroke-width="1" />
<text transform="translate(1152.5,1591.0) scale(1,1.07)" text-anchor="end" class="lab">20</text>
<line x1="1158.5" y1="1554.5" x2="1171.0" y2="1554.5" stroke="#000" stroke-width="1" />
<line x1="1158.5" y1="1527.5" x2="1171.0" y2="1527.5" stroke="#000" stroke-width="1" />
<line x1="1158.5" y1="1503.5" x2="1171.0" y2="1503.5" stroke="#000" stroke-width="1" />
<line x1="1158.5" y1="1479.5" x2="1171.0" y2="1479.5" stroke="#000" stroke-width="1" />
<line x1="1158.5" y1="1455.5" x2="1183.0" y2="1455.5" stroke="#000" stroke-width="1" />
<text transform="translate(1152.5,1468.0) scale(1,1.07)" text-anchor="end" class="lab">30</text>
<line x1="1158.5" y1="1431.5" x2="1171.0" y2="1431.5" stroke="#000" stroke-width="1" />
<line x1="1158.5" y1="1407.5" x2="1171.0" y2="1407.5" stroke="#000" stroke-width="1" />
<line x1="1158.5" y1="1383.5" x2="1171.0" y2="1383.5" stroke="#000" stroke-width="1" />
<line x1="1158.5" y1="1359.5" x2="1171.0" y2="1359.5" stroke="#000" stroke-width="1" />
<line x1="1158.5" y1="1335.5" x2="1183.0" y2="1335.5" stroke="#000" stroke-width="1" />
<text transform="translate(1152.5,1348.0) scale(1,1.07)" text-anchor="end" class="lab">40</text>
<line x1="1158.5" y1="1311.5" x2="1171.0" y2="1311.5" stroke="#000" stroke-width="1" />
<line x1="1158.5" y1="1284.5" x2="1171.0" y2="1284.5" stroke="#000" stroke-width="1" />
<line x1="1158.5" y1="1260.5" x2="1171.0" y2="1260.5" stroke="#000" stroke-width="1" />
<line x1="1158.5" y1="1236.5" x2="1171.0" y2="1236.5" stroke="#000" stroke-width="1" />
<line x1="1158.5" y1="1212.5" x2="1183.0" y2="1212.5" stroke="#000" stroke-width="1" />
<text transform="translate(1152.5,1225.0) scale(1,1.07)" text-anchor="end" class="lab">50</text>
<line x1="1158.5" y1="1188.5" x2="1171.0" y2="1188.5" stroke="#000" stroke-width="1" />
<line x1="1158.5" y1="1164.5" x2="1171.0" y2="1164.5" stroke="#000" stroke-width="1" />
<line x1="1158.5" y1="1140.5" x2="1171.0" y2="1140.5" stroke="#000" stroke-width="1" />
<line x1="1158.5" y1="1116.5" x2="1171.0" y2="1116.5" stroke="#000" stroke-width="1" />
<line x1="1158.5" y1="1092.5" x2="1183.0" y2="1092.5" stroke="#000" stroke-width="1" />
<text transform="translate(1152.5,1105.0) scale(1,1.07)" text-anchor="end" class="lab">60</text>
<text x="1211" y="1032" textLength="655" lengthAdjust="spacing" style="font-size:37px">Data distribution with fitted contributions</text>
<text x="1956.5" y="1884.5" text-anchor="end" class="lab">x</text>
<g clip-path="url(#c4)">
<line x1="1167.5" y1="1311" x2="1167.5" y2="1375.5" stroke="#000099" stroke-width="1" />
<line x1="1167.5" y1="1391.5" x2="1167.5" y2="1456" stroke="#000099" stroke-width="1" />
<line x1="1158.0" y1="1383.5" x2="1159.5" y2="1383.5" stroke="#000099" stroke-width="1" />
<line x1="1175.5" y1="1383.5" x2="1180.0" y2="1383.5" stroke="#000099" stroke-width="1" />
<circle cx="1167.5" cy="1383.5" r="8.6" fill="#000" shape-rendering="auto"/>
<line x1="1188.5" y1="1218" x2="1188.5" y2="1288.5" stroke="#000099" stroke-width="1" />
<line x1="1188.5" y1="1304.5" x2="1188.5" y2="1378" stroke="#000099" stroke-width="1" />
<line x1="1179.0" y1="1296.5" x2="1180.5" y2="1296.5" stroke="#000099" stroke-width="1" />
<line x1="1196.5" y1="1296.5" x2="1198.0" y2="1296.5" stroke="#000099" stroke-width="1" />
<circle cx="1188.5" cy="1296.5" r="8.6" fill="#000" shape-rendering="auto"/>
<line x1="1209.5" y1="1323" x2="1209.5" y2="1387.5" stroke="#000099" stroke-width="1" />
<line x1="1209.5" y1="1403.5" x2="1209.5" y2="1468" stroke="#000099" stroke-width="1" />
<line x1="1197.0" y1="1395.5" x2="1201.5" y2="1395.5" stroke="#000099" stroke-width="1" />
<line x1="1217.5" y1="1395.5" x2="1219.0" y2="1395.5" stroke="#000099" stroke-width="1" />
<circle cx="1209.5" cy="1395.5" r="8.6" fill="#000" shape-rendering="auto"/>
<line x1="1227.5" y1="1284" x2="1227.5" y2="1351.5" stroke="#000099" stroke-width="1" />
<line x1="1227.5" y1="1367.5" x2="1227.5" y2="1435" stroke="#000099" stroke-width="1" />
<line x1="1218.0" y1="1359.5" x2="1219.5" y2="1359.5" stroke="#000099" stroke-width="1" />
<line x1="1235.5" y1="1359.5" x2="1240.0" y2="1359.5" stroke="#000099" stroke-width="1" />
<circle cx="1227.5" cy="1359.5" r="8.6" fill="#000" shape-rendering="auto"/>
<line x1="1248.5" y1="1269" x2="1248.5" y2="1339.5" stroke="#000099" stroke-width="1" />
<line x1="1248.5" y1="1355.5" x2="1248.5" y2="1423" stroke="#000099" stroke-width="1" />
<line x1="1239.0" y1="1347.5" x2="1240.5" y2="1347.5" stroke="#000099" stroke-width="1" />
<line x1="1256.5" y1="1347.5" x2="1258.0" y2="1347.5" stroke="#000099" stroke-width="1" />
<circle cx="1248.5" cy="1347.5" r="8.6" fill="#000" shape-rendering="auto"/>
<line x1="1269.5" y1="1296" x2="1269.5" y2="1363.5" stroke="#000099" stroke-width="1" />
<line x1="1269.5" y1="1379.5" x2="1269.5" y2="1444" stroke="#000099" stroke-width="1" />
<line x1="1257.0" y1="1371.5" x2="1261.5" y2="1371.5" stroke="#000099" stroke-width="1" />
<line x1="1277.5" y1="1371.5" x2="1279.0" y2="1371.5" stroke="#000099" stroke-width="1" />
<circle cx="1269.5" cy="1371.5" r="8.6" fill="#000" shape-rendering="auto"/>
<line x1="1287.5" y1="1536" x2="1287.5" y2="1582.5" stroke="#000099" stroke-width="1" />
<line x1="1287.5" y1="1598.5" x2="1287.5" y2="1642" stroke="#000099" stroke-width="1" />
<line x1="1278.0" y1="1590.5" x2="1279.5" y2="1590.5" stroke="#000099" stroke-width="1" />
<line x1="1295.5" y1="1590.5" x2="1300.0" y2="1590.5" stroke="#000099" stroke-width="1" />
<circle cx="1287.5" cy="1590.5" r="8.6" fill="#000" shape-rendering="auto"/>
<line x1="1308.5" y1="1350" x2="1308.5" y2="1411.5" stroke="#000099" stroke-width="1" />
<line x1="1308.5" y1="1427.5" x2="1308.5" y2="1489" stroke="#000099" stroke-width="1" />
<line x1="1299.0" y1="1419.5" x2="1300.5" y2="1419.5" stroke="#000099" stroke-width="1" />
<line x1="1316.5" y1="1419.5" x2="1318.0" y2="1419.5" stroke="#000099" stroke-width="1" />
<circle cx="1308.5" cy="1419.5" r="8.6" fill="#000" shape-rendering="auto"/>
<line x1="1329.5" y1="1269" x2="1329.5" y2="1339.5" stroke="#000099" stroke-width="1" />
<line x1="1329.5" y1="1355.5" x2="1329.5" y2="1423" stroke="#000099" stroke-width="1" />
<line x1="1317.0" y1="1347.5" x2="1321.5" y2="1347.5" stroke="#000099" stroke-width="1" />
<line x1="1337.5" y1="1347.5" x2="1339.0" y2="1347.5" stroke="#000099" stroke-width="1" />
<circle cx="1329.5" cy="1347.5" r="8.6" fill="#000" shape-rendering="auto"/>
<line x1="1347.5" y1="1377" x2="1347.5" y2="1435.5" stroke="#000099" stroke-width="1" />
<line x1="1347.5" y1="1451.5" x2="1347.5" y2="1513" stroke="#000099" stroke-width="1" />
<line x1="1338.0" y1="1443.5" x2="1339.5" y2="1443.5" stroke="#000099" stroke-width="1" />
<line x1="1355.5" y1="1443.5" x2="1360.0" y2="1443.5" stroke="#000099" stroke-width="1" />
<circle cx="1347.5" cy="1443.5" r="8.6" fill="#000" shape-rendering="auto"/>
<line x1="1368.5" y1="1206" x2="1368.5" y2="1276.5" stroke="#000099" stroke-width="1" />
<line x1="1368.5" y1="1292.5" x2="1368.5" y2="1366" stroke="#000099" stroke-width="1" />
<line x1="1359.0" y1="1284.5" x2="1360.5" y2="1284.5" stroke="#000099" stroke-width="1" />
<line x1="1376.5" y1="1284.5" x2="1378.0" y2="1284.5" stroke="#000099" stroke-width="1" />
<circle cx="1368.5" cy="1284.5" r="8.6" fill="#000" shape-rendering="auto"/>
<line x1="1389.5" y1="1284" x2="1389.5" y2="1351.5" stroke="#000099" stroke-width="1" />
<line x1="1389.5" y1="1367.5" x2="1389.5" y2="1435" stroke="#000099" stroke-width="1" />
<line x1="1377.0" y1="1359.5" x2="1381.5" y2="1359.5" stroke="#000099" stroke-width="1" />
<line x1="1397.5" y1="1359.5" x2="1399.0" y2="1359.5" stroke="#000099" stroke-width="1" />
<circle cx="1389.5" cy="1359.5" r="8.6" fill="#000" shape-rendering="auto"/>
<line x1="1407.5" y1="1335" x2="1407.5" y2="1399.5" stroke="#000099" stroke-width="1" />
<line x1="1407.5" y1="1415.5" x2="1407.5" y2="1480" stroke="#000099" stroke-width="1" />
<line x1="1398.0" y1="1407.5" x2="1399.5" y2="1407.5" stroke="#000099" stroke-width="1" />
<line x1="1415.5" y1="1407.5" x2="1417.0" y2="1407.5" stroke="#000099" stroke-width="1" />
<circle cx="1407.5" cy="1407.5" r="8.6" fill="#000" shape-rendering="auto"/>
<line x1="1428.5" y1="1257" x2="1428.5" y2="1327.5" stroke="#000099" stroke-width="1" />
<line x1="1428.5" y1="1343.5" x2="1428.5" y2="1411" stroke="#000099" stroke-width="1" />
<line x1="1416.0" y1="1335.5" x2="1420.5" y2="1335.5" stroke="#000099" stroke-width="1" />
<line x1="1436.5" y1="1335.5" x2="1438.0" y2="1335.5" stroke="#000099" stroke-width="1" />
<circle cx="1428.5" cy="1335.5" r="8.6" fill="#000" shape-rendering="auto"/>
<line x1="1446.5" y1="1377" x2="1446.5" y2="1435.5" stroke="#000099" stroke-width="1" />
<line x1="1446.5" y1="1451.5" x2="1446.5" y2="1513" stroke="#000099" stroke-width="1" />
<line x1="1437.0" y1="1443.5" x2="1438.5" y2="1443.5" stroke="#000099" stroke-width="1" />
<line x1="1454.5" y1="1443.5" x2="1459.0" y2="1443.5" stroke="#000099" stroke-width="1" />
<circle cx="1446.5" cy="1443.5" r="8.6" fill="#000" shape-rendering="auto"/>
<line x1="1467.5" y1="1113" x2="1467.5" y2="1192.5" stroke="#000099" stroke-width="1" />
<line x1="1467.5" y1="1208.5" x2="1467.5" y2="1288" stroke="#000099" stroke-width="1" />
<line x1="1458.0" y1="1200.5" x2="1459.5" y2="1200.5" stroke="#000099" stroke-width="1" />
<line x1="1475.5" y1="1200.5" x2="1477.0" y2="1200.5" stroke="#000099" stroke-width="1" />
<circle cx="1467.5" cy="1200.5" r="8.6" fill="#000" shape-rendering="auto"/>
<line x1="1488.5" y1="1206" x2="1488.5" y2="1276.5" stroke="#000099" stroke-width="1" />
<line x1="1488.5" y1="1292.5" x2="1488.5" y2="1366" stroke="#000099" stroke-width="1" />
<line x1="1476.0" y1="1284.5" x2="1480.5" y2="1284.5" stroke="#000099" stroke-width="1" />
<line x1="1496.5" y1="1284.5" x2="1498.0" y2="1284.5" stroke="#000099" stroke-width="1" />
<circle cx="1488.5" cy="1284.5" r="8.6" fill="#000" shape-rendering="auto"/>
<line x1="1506.5" y1="1296" x2="1506.5" y2="1363.5" stroke="#000099" stroke-width="1" />
<line x1="1506.5" y1="1379.5" x2="1506.5" y2="1444" stroke="#000099" stroke-width="1" />
<line x1="1497.0" y1="1371.5" x2="1498.5" y2="1371.5" stroke="#000099" stroke-width="1" />
<line x1="1514.5" y1="1371.5" x2="1519.0" y2="1371.5" stroke="#000099" stroke-width="1" />
<circle cx="1506.5" cy="1371.5" r="8.6" fill="#000" shape-rendering="auto"/>
<line x1="1527.5" y1="1152" x2="1527.5" y2="1228.5" stroke="#000099" stroke-width="1" />
<line x1="1527.5" y1="1244.5" x2="1527.5" y2="1321" stroke="#000099" stroke-width="1" />
<line x1="1518.0" y1="1236.5" x2="1519.5" y2="1236.5" stroke="#000099" stroke-width="1" />
<line x1="1535.5" y1="1236.5" x2="1537.0" y2="1236.5" stroke="#000099" stroke-width="1" />
<circle cx="1527.5" cy="1236.5" r="8.6" fill="#000" shape-rendering="auto"/>
<line x1="1548.5" y1="1389" x2="1548.5" y2="1447.5" stroke="#000099" stroke-width="1" />
<line x1="1548.5" y1="1463.5" x2="1548.5" y2="1522" stroke="#000099" stroke-width="1" />
<line x1="1536.0" y1="1455.5" x2="1540.5" y2="1455.5" stroke="#000099" stroke-width="1" />
<line x1="1556.5" y1="1455.5" x2="1558.0" y2="1455.5" stroke="#000099" stroke-width="1" />
<circle cx="1548.5" cy="1455.5" r="8.6" fill="#000" shape-rendering="auto"/>
<line x1="1566.5" y1="1428" x2="1566.5" y2="1483.5" stroke="#000099" stroke-width="1" />
<line x1="1566.5" y1="1499.5" x2="1566.5" y2="1555" stroke="#000099" stroke-width="1" />
<line x1="1557.0" y1="1491.5" x2="1558.5" y2="1491.5" stroke="#000099" stroke-width="1" />
<line x1="1574.5" y1="1491.5" x2="1579.0" y2="1491.5" stroke="#000099" stroke-width="1" />
<circle cx="1566.5" cy="1491.5" r="8.6" fill="#000" shape-rendering="auto"/>
<line x1="1587.5" y1="1443" x2="1587.5" y2="1495.5" stroke="#000099" stroke-width="1" />
<line x1="1587.5" y1="1511.5" x2="1587.5" y2="1567" stroke="#000099" stroke-width="1" />
<line x1="1578.0" y1="1503.5" x2="1579.5" y2="1503.5" stroke="#000099" stroke-width="1" />
<line x1="1595.5" y1="1503.5" x2="1597.0" y2="1503.5" stroke="#000099" stroke-width="1" />
<circle cx="1587.5" cy="1503.5" r="8.6" fill="#000" shape-rendering="auto"/>
<line x1="1608.5" y1="1443" x2="1608.5" y2="1495.5" stroke="#000099" stroke-width="1" />
<line x1="1608.5" y1="1511.5" x2="1608.5" y2="1567" stroke="#000099" stroke-width="1" />
<line x1="1596.0" y1="1503.5" x2="1600.5" y2="1503.5" stroke="#000099" stroke-width="1" />
<line x1="1616.5" y1="1503.5" x2="1618.0" y2="1503.5" stroke="#000099" stroke-width="1" />
<circle cx="1608.5" cy="1503.5" r="8.6" fill="#000" shape-rendering="auto"/>
<line x1="1626.5" y1="1377" x2="1626.5" y2="1435.5" stroke="#000099" stroke-width="1" />
<line x1="1626.5" y1="1451.5" x2="1626.5" y2="1513" stroke="#000099" stroke-width="1" />
<line x1="1617.0" y1="1443.5" x2="1618.5" y2="1443.5" stroke="#000099" stroke-width="1" />
<line x1="1634.5" y1="1443.5" x2="1639.0" y2="1443.5" stroke="#000099" stroke-width="1" />
<circle cx="1626.5" cy="1443.5" r="8.6" fill="#000" shape-rendering="auto"/>
<line x1="1647.5" y1="1509" x2="1647.5" y2="1558.5" stroke="#000099" stroke-width="1" />
<line x1="1647.5" y1="1574.5" x2="1647.5" y2="1621" stroke="#000099" stroke-width="1" />
<line x1="1638.0" y1="1566.5" x2="1639.5" y2="1566.5" stroke="#000099" stroke-width="1" />
<line x1="1655.5" y1="1566.5" x2="1657.0" y2="1566.5" stroke="#000099" stroke-width="1" />
<circle cx="1647.5" cy="1566.5" r="8.6" fill="#000" shape-rendering="auto"/>
<line x1="1668.5" y1="1578" x2="1668.5" y2="1618.5" stroke="#000099" stroke-width="1" />
<line x1="1668.5" y1="1634.5" x2="1668.5" y2="1675" stroke="#000099" stroke-width="1" />
<line x1="1656.0" y1="1626.5" x2="1660.5" y2="1626.5" stroke="#000099" stroke-width="1" />
<line x1="1676.5" y1="1626.5" x2="1678.0" y2="1626.5" stroke="#000099" stroke-width="1" />
<circle cx="1668.5" cy="1626.5" r="8.6" fill="#000" shape-rendering="auto"/>
<line x1="1686.5" y1="1578" x2="1686.5" y2="1618.5" stroke="#000099" stroke-width="1" />
<line x1="1686.5" y1="1634.5" x2="1686.5" y2="1675" stroke="#000099" stroke-width="1" />
<line x1="1677.0" y1="1626.5" x2="1678.5" y2="1626.5" stroke="#000099" stroke-width="1" />
<line x1="1694.5" y1="1626.5" x2="1699.0" y2="1626.5" stroke="#000099" stroke-width="1" />
<circle cx="1686.5" cy="1626.5" r="8.6" fill="#000" shape-rendering="auto"/>
<line x1="1707.5" y1="1605" x2="1707.5" y2="1642.5" stroke="#000099" stroke-width="1" />
<line x1="1707.5" y1="1658.5" x2="1707.5" y2="1696" stroke="#000099" stroke-width="1" />
<line x1="1698.0" y1="1650.5" x2="1699.5" y2="1650.5" stroke="#000099" stroke-width="1" />
<line x1="1715.5" y1="1650.5" x2="1717.0" y2="1650.5" stroke="#000099" stroke-width="1" />
<circle cx="1707.5" cy="1650.5" r="8.6" fill="#000" shape-rendering="auto"/>
<line x1="1725.5" y1="1605" x2="1725.5" y2="1642.5" stroke="#000099" stroke-width="1" />
<line x1="1725.5" y1="1658.5" x2="1725.5" y2="1696" stroke="#000099" stroke-width="1" />
<line x1="1716.0" y1="1650.5" x2="1717.5" y2="1650.5" stroke="#000099" stroke-width="1" />
<line x1="1733.5" y1="1650.5" x2="1738.0" y2="1650.5" stroke="#000099" stroke-width="1" />
<circle cx="1725.5" cy="1650.5" r="8.6" fill="#000" shape-rendering="auto"/>
<line x1="1746.5" y1="1647" x2="1746.5" y2="1678.5" stroke="#000099" stroke-width="1" />
<line x1="1746.5" y1="1694.5" x2="1746.5" y2="1729" stroke="#000099" stroke-width="1" />
<line x1="1737.0" y1="1686.5" x2="1738.5" y2="1686.5" stroke="#000099" stroke-width="1" />
<line x1="1754.5" y1="1686.5" x2="1756.0" y2="1686.5" stroke="#000099" stroke-width="1" />
<circle cx="1746.5" cy="1686.5" r="8.6" fill="#000" shape-rendering="auto"/>
<line x1="1767.5" y1="1716" x2="1767.5" y2="1738.5" stroke="#000099" stroke-width="1" />
<line x1="1767.5" y1="1754.5" x2="1767.5" y2="1777" stroke="#000099" stroke-width="1" />
<line x1="1755.0" y1="1746.5" x2="1759.5" y2="1746.5" stroke="#000099" stroke-width="1" />
<line x1="1775.5" y1="1746.5" x2="1777.0" y2="1746.5" stroke="#000099" stroke-width="1" />
<circle cx="1767.5" cy="1746.5" r="8.6" fill="#000" shape-rendering="auto"/>
<line x1="1785.5" y1="1578" x2="1785.5" y2="1618.5" stroke="#000099" stroke-width="1" />
<line x1="1785.5" y1="1634.5" x2="1785.5" y2="1675" stroke="#000099" stroke-width="1" />
<line x1="1776.0" y1="1626.5" x2="1777.5" y2="1626.5" stroke="#000099" stroke-width="1" />
<line x1="1793.5" y1="1626.5" x2="1798.0" y2="1626.5" stroke="#000099" stroke-width="1" />
<circle cx="1785.5" cy="1626.5" r="8.6" fill="#000" shape-rendering="auto"/>
<line x1="1806.5" y1="1731" x2="1806.5" y2="1750.5" stroke="#000099" stroke-width="1" />
<line x1="1806.5" y1="1766.5" x2="1806.5" y2="1786" stroke="#000099" stroke-width="1" />
<line x1="1797.0" y1="1758.5" x2="1798.5" y2="1758.5" stroke="#000099" stroke-width="1" />
<line x1="1814.5" y1="1758.5" x2="1816.0" y2="1758.5" stroke="#000099" stroke-width="1" />
<circle cx="1806.5" cy="1758.5" r="8.6" fill="#000" shape-rendering="auto"/>
<line x1="1827.5" y1="1779" x2="1827.5" y2="1789.5" stroke="#000099" stroke-width="1" />
<line x1="1827.5" y1="1805.5" x2="1827.5" y2="1813" stroke="#000099" stroke-width="1" />
<line x1="1815.0" y1="1797.5" x2="1819.5" y2="1797.5" stroke="#000099" stroke-width="1" />
<line x1="1835.5" y1="1797.5" x2="1837.0" y2="1797.5" stroke="#000099" stroke-width="1" />
<circle cx="1827.5" cy="1797.5" r="8.6" fill="#000" shape-rendering="auto"/>
<line x1="1845.5" y1="1674" x2="1845.5" y2="1702.5" stroke="#000099" stroke-width="1" />
<line x1="1845.5" y1="1718.5" x2="1845.5" y2="1747" stroke="#000099" stroke-width="1" />
<line x1="1836.0" y1="1710.5" x2="1837.5" y2="1710.5" stroke="#000099" stroke-width="1" />
<line x1="1853.5" y1="1710.5" x2="1858.0" y2="1710.5" stroke="#000099" stroke-width="1" />
<circle cx="1845.5" cy="1710.5" r="8.6" fill="#000" shape-rendering="auto"/>
<line x1="1866.5" y1="1716" x2="1866.5" y2="1738.5" stroke="#000099" stroke-width="1" />
<line x1="1866.5" y1="1754.5" x2="1866.5" y2="1777" stroke="#000099" stroke-width="1" />
<line x1="1857.0" y1="1746.5" x2="1858.5" y2="1746.5" stroke="#000099" stroke-width="1" />
<line x1="1874.5" y1="1746.5" x2="1876.0" y2="1746.5" stroke="#000099" stroke-width="1" />
<circle cx="1866.5" cy="1746.5" r="8.6" fill="#000" shape-rendering="auto"/>
<line x1="1887.5" y1="1731" x2="1887.5" y2="1750.5" stroke="#000099" stroke-width="1" />
<line x1="1887.5" y1="1766.5" x2="1887.5" y2="1786" stroke="#000099" stroke-width="1" />
<line x1="1875.0" y1="1758.5" x2="1879.5" y2="1758.5" stroke="#000099" stroke-width="1" />
<line x1="1895.5" y1="1758.5" x2="1897.0" y2="1758.5" stroke="#000099" stroke-width="1" />
<circle cx="1887.5" cy="1758.5" r="8.6" fill="#000" shape-rendering="auto"/>
<line x1="1905.5" y1="1797" x2="1905.5" y2="1801.5" stroke="#000099" stroke-width="1" />
<line x1="1905.5" y1="1817.5" x2="1905.5" y2="1822" stroke="#000099" stroke-width="1" />
<line x1="1896.0" y1="1809.5" x2="1897.5" y2="1809.5" stroke="#000099" stroke-width="1" />
<line x1="1913.5" y1="1809.5" x2="1918.0" y2="1809.5" stroke="#000099" stroke-width="1" />
<circle cx="1905.5" cy="1809.5" r="8.6" fill="#000" shape-rendering="auto"/>
<line x1="1926.5" y1="1797" x2="1926.5" y2="1801.5" stroke="#000099" stroke-width="1" />
<line x1="1926.5" y1="1817.5" x2="1926.5" y2="1822" stroke="#000099" stroke-width="1" />
<line x1="1917.0" y1="1809.5" x2="1918.5" y2="1809.5" stroke="#000099" stroke-width="1" />
<line x1="1934.5" y1="1809.5" x2="1936.0" y2="1809.5" stroke="#000099" stroke-width="1" />
<circle cx="1926.5" cy="1809.5" r="8.6" fill="#000" shape-rendering="auto"/>
</g>
<path d="M1158.5,1383.5 L1179.5,1383.5 L1179.5,1347.5 L1197.5,1347.5 L1197.5,1398.5 L1218.5,1398.5 L1218.5,1254.5 L1239.5,1254.5 L1239.5,1383.5 L1257.5,1383.5 L1257.5,1398.5 L1278.5,1398.5 L1278.5,1497.5 L1299.5,1497.5 L1299.5,1374.5 L1317.5,1374.5 L1317.5,1383.5 L1338.5,1383.5 L1338.5,1365.5 L1359.5,1365.5 L1359.5,1380.5 L1377.5,1380.5 L1377.5,1302.5 L1398.5,1302.5 L1398.5,1389.5 L1416.5,1389.5 L1416.5,1386.5 L1437.5,1386.5 L1437.5,1431.5 L1458.5,1431.5 L1458.5,1302.5 L1476.5,1302.5 L1476.5,1383.5 L1497.5,1383.5 L1497.5,1407.5 L1518.5,1407.5 L1518.5,1323.5 L1536.5,1323.5 L1536.5,1488.5 L1557.5,1488.5 L1557.5,1458.5 L1578.5,1458.5 L1578.5,1434.5 L1596.5,1434.5 L1596.5,1443.5 L1617.5,1443.5 L1617.5,1536.5 L1638.5,1536.5 L1638.5,1563.5 L1656.5,1563.5 L1656.5,1578.5 L1677.5,1578.5 L1677.5,1557.5 L1698.5,1557.5 L1698.5,1617.5 L1716.5,1617.5 L1716.5,1638.5 L1737.5,1638.5 L1737.5,1656.5 L1755.5,1656.5 L1755.5,1689.5 L1776.5,1689.5 L1776.5,1710.5 L1797.5,1710.5 L1797.5,1716.5 L1815.5,1716.5 L1815.5,1743.5 L1836.5,1743.5 L1836.5,1746.5 L1857.5,1746.5 L1857.5,1758.5 L1875.5,1758.5 L1875.5,1791.5 L1896.5,1791.5 L1896.5,1803.5 L1917.5,1803.5 L1917.5,1809.5 L1935.5,1809.5 L1935.5,1821.5 L1956.5,1821.5" fill="none" stroke="#000099" stroke-width="1" stroke-linejoin="miter"/>
<g fill="none" stroke="#ff0000" stroke-width="2.6" stroke-dasharray="3 3">
<path d="M1161,1821L1170,1821" pathLength="9"/>
<path d="M1170,1821L1179,1821" pathLength="9"/>
<path d="M1179,1821L1185,1821" pathLength="6"/>
<path d="M1185,1821L1194,1821" pathLength="9"/>
<path d="M1194,1821L1203,1821" pathLength="9"/>
<path d="M1203,1821L1209,1821" pathLength="6"/>
<path d="M1209,1821L1218,1821" pathLength="9"/>
<path d="M1218,1821L1227,1821" pathLength="9"/>
<path d="M1227,1821L1233,1821" pathLength="6"/>
<path d="M1233,1821L1242,1821" pathLength="9"/>
<path d="M1242,1821L1251,1821" pathLength="9"/>
<path d="M1251,1821L1257,1821" pathLength="6"/>
<path d="M1257,1821L1266,1821" pathLength="9"/>
<path d="M1266,1821L1275,1821" pathLength="9"/>
<path d="M1275,1821L1281,1821" pathLength="6"/>
<path d="M1281,1821L1290,1821" pathLength="9"/>
<path d="M1290,1821L1299,1821" pathLength="9"/>
<path d="M1299,1821L1305,1821" pathLength="6"/>
<path d="M1305,1821L1314,1821" pathLength="9"/>
<path d="M1314,1821L1323,1821" pathLength="9"/>
<path d="M1323,1821L1329,1821" pathLength="6"/>
<path d="M1329,1821L1338,1821" pathLength="9"/>
<path d="M1338,1821L1347,1821" pathLength="9"/>
<path d="M1347,1821L1353,1821" pathLength="6"/>
<path d="M1353,1821L1362,1821" pathLength="9"/>
<path d="M1362,1821L1371,1821" pathLength="9"/>
<path d="M1371,1821L1377,1821" pathLength="6"/>
<path d="M1377,1821L1386,1821" pathLength="9"/>
<path d="M1386,1821L1395,1821" pathLength="9"/>
<path d="M1395,1821L1401,1821" pathLength="6"/>
<path d="M1401,1821L1410,1821" pathLength="9"/>
<path d="M1410,1821L1416,1821" pathLength="6"/>
<path d="M1416,1821L1425,1821" pathLength="9"/>
<path d="M1425,1821L1434,1821" pathLength="9"/>
<path d="M1434,1821L1440,1821" pathLength="6"/>
<path d="M1440,1821L1449,1821" pathLength="9"/>
<path d="M1449,1821L1458,1821" pathLength="9"/>
<path d="M1458,1821L1464,1821" pathLength="6"/>
<path d="M1464,1821L1473,1821" pathLength="9"/>
<path d="M1473,1821L1482,1821" pathLength="9"/>
<path d="M1482,1821L1488,1821" pathLength="6"/>
<path d="M1488,1821L1497,1821" pathLength="9"/>
<path d="M1497,1821L1506,1821" pathLength="9"/>
<path d="M1506,1821L1512,1821" pathLength="6"/>
<path d="M1512,1821L1521,1821" pathLength="9"/>
<path d="M1521,1821L1530,1821" pathLength="9"/>
<path d="M1530,1821L1536,1821" pathLength="6"/>
<path d="M1536,1821L1545,1821" pathLength="9"/>
<path d="M1545,1821L1554,1821" pathLength="9"/>
<path d="M1554,1821L1560,1821" pathLength="6"/>
<path d="M1560,1821L1569,1821" pathLength="9"/>
<path d="M1569,1821L1578,1821" pathLength="9"/>
<path d="M1578,1821L1584,1821" pathLength="6"/>
<path d="M1584,1821L1593,1821" pathLength="9"/>
<path d="M1593,1821L1602,1821" pathLength="9"/>
<path d="M1602,1821L1608,1821" pathLength="6"/>
<path d="M1608,1821L1617,1821" pathLength="9"/>
<path d="M1617,1821L1626,1821" pathLength="9"/>
<path d="M1626,1821L1632,1821" pathLength="6"/>
<path d="M1632,1821L1641,1821" pathLength="9"/>
<path d="M1641,1821L1650,1821" pathLength="9"/>
<path d="M1650,1821L1656,1821" pathLength="6"/>
<path d="M1656,1821L1665,1821" pathLength="9"/>
<path d="M1665,1821L1674,1821" pathLength="9"/>
<path d="M1674,1821L1680,1821" pathLength="6"/>
<path d="M1680,1821L1689,1821" pathLength="9"/>
<path d="M1689,1821L1698,1821" pathLength="9"/>
<path d="M1698,1821L1704,1821" pathLength="6"/>
<path d="M1704,1821L1713,1821" pathLength="9"/>
<path d="M1713,1821L1719,1821" pathLength="6"/>
<path d="M1719,1821L1728,1821" pathLength="9"/>
<path d="M1728,1821L1737,1821" pathLength="9"/>
<path d="M1737,1821L1743,1821" pathLength="6"/>
<path d="M1743,1821L1752,1821" pathLength="9"/>
<path d="M1752,1821L1761,1821" pathLength="9"/>
<path d="M1761,1821L1767,1821" pathLength="6"/>
<path d="M1767,1821L1776,1821" pathLength="9"/>
<path d="M1776,1821L1785,1821" pathLength="9"/>
<path d="M1785,1821L1791,1821" pathLength="6"/>
<path d="M1791,1821L1800,1821" pathLength="9"/>
<path d="M1800,1821L1809,1821" pathLength="9"/>
<path d="M1809,1821L1815,1821" pathLength="6"/>
<path d="M1815,1821L1824,1821" pathLength="9"/>
<path d="M1824,1821L1833,1821" pathLength="9"/>
<path d="M1833,1821L1839,1821" pathLength="6"/>
<path d="M1839,1821L1848,1821" pathLength="9"/>
<path d="M1848,1821L1857,1821" pathLength="9"/>
<path d="M1857,1821L1863,1821" pathLength="6"/>
<path d="M1863,1821L1872,1821" pathLength="9"/>
<path d="M1872,1821L1881,1821" pathLength="9"/>
<path d="M1881,1821L1887,1821" pathLength="6"/>
<path d="M1887,1821L1896,1821" pathLength="9"/>
<path d="M1896,1821L1905,1821" pathLength="9"/>
<path d="M1905,1821L1911,1821" pathLength="6"/>
<path d="M1911,1821L1920,1821" pathLength="9"/>
<path d="M1920,1821L1929,1821" pathLength="9"/>
<path d="M1929,1821L1935,1821" pathLength="6"/>
<path d="M1935,1821L1944,1821" pathLength="9"/>
<path d="M1944,1821L1953,1821" pathLength="9"/>
</g>
<g fill="none" stroke="#00ff00" stroke-width="2.6" stroke-dasharray="3 3">
<path d="M1161,1821L1170,1821" pathLength="9"/>
<path d="M1170,1821L1179,1818" pathLength="9"/>
<path d="M1179,1818L1185,1818" pathLength="6"/>
<path d="M1185,1818L1194,1818" pathLength="9"/>
<path d="M1194,1818L1203,1815" pathLength="9"/>
<path d="M1203,1815L1209,1812" pathLength="6"/>
<path d="M1209,1812L1218,1812" pathLength="9"/>
<path d="M1218,1812L1227,1809" pathLength="9"/>
<path d="M1227,1809L1233,1806" pathLength="6"/>
<path d="M1233,1806L1242,1803" pathLength="9"/>
<path d="M1242,1803L1251,1797" pathLength="9"/>
<path d="M1251,1797L1257,1794" pathLength="6"/>
<path d="M1257,1794L1266,1791" pathLength="9"/>
<path d="M1266,1791L1275,1788" pathLength="9"/>
<path d="M1275,1788L1281,1782" pathLength="6"/>
<path d="M1281,1782L1290,1779" pathLength="9"/>
<path d="M1290,1779L1299,1773" pathLength="9"/>
<path d="M1299,1773L1305,1767" pathLength="6"/>
<path d="M1305,1767L1314,1764" pathLength="9"/>
<path d="M1314,1764L1323,1758" pathLength="9"/>
<path d="M1323,1758L1329,1752" pathLength="6"/>
<path d="M1329,1752L1338,1746" pathLength="9"/>
<path d="M1338,1746L1347,1743" pathLength="9"/>
<path d="M1347,1743L1353,1737" pathLength="6"/>
<path d="M1353,1737L1362,1731" pathLength="9"/>
<path d="M1362,1731L1371,1725" pathLength="9"/>
<path d="M1371,1725L1377,1719" pathLength="6"/>
<path d="M1377,1719L1386,1716" pathLength="9"/>
<path d="M1386,1716L1395,1710" pathLength="9"/>
<path d="M1395,1710L1401,1704" pathLength="6"/>
<path d="M1401,1704L1410,1701" pathLength="9"/>
<path d="M1410,1701L1416,1695" pathLength="6"/>
<path d="M1416,1695L1425,1689" pathLength="9"/>
<path d="M1425,1689L1434,1686" pathLength="9"/>
<path d="M1434,1686L1440,1680" pathLength="6"/>
<path d="M1440,1680L1449,1677" pathLength="9"/>
<path d="M1449,1677L1458,1674" pathLength="9"/>
<path d="M1458,1674L1464,1668" pathLength="6"/>
<path d="M1464,1668L1473,1665" pathLength="9"/>
<path d="M1473,1665L1482,1662" pathLength="9"/>
<path d="M1482,1662L1488,1659" pathLength="6"/>
<path d="M1488,1659L1497,1656" pathLength="9"/>
<path d="M1497,1656L1506,1656" pathLength="9"/>
<path d="M1506,1656L1512,1653" pathLength="6"/>
<path d="M1512,1653L1521,1650" pathLength="9"/>
<path d="M1521,1650L1530,1650" pathLength="9"/>
<path d="M1530,1650L1536,1650" pathLength="6"/>
<path d="M1536,1650L1545,1647" pathLength="9"/>
<path d="M1545,1647L1554,1647" pathLength="9"/>
<path d="M1554,1647L1560,1647" pathLength="6"/>
<path d="M1560,1647L1569,1647" pathLength="9"/>
<path d="M1569,1647L1578,1650" pathLength="9"/>
<path d="M1578,1650L1584,1650" pathLength="6"/>
<path d="M1584,1650L1593,1650" pathLength="9"/>
<path d="M1593,1650L1602,1653" pathLength="9"/>
<path d="M1602,1653L1608,1656" pathLength="6"/>
<path d="M1608,1656L1617,1656" pathLength="9"/>
<path d="M1617,1656L1626,1659" pathLength="9"/>
<path d="M1626,1659L1632,1662" pathLength="6"/>
<path d="M1632,1662L1641,1665" pathLength="9"/>
<path d="M1641,1665L1650,1668" pathLength="9"/>
<path d="M1650,1668L1656,1674" pathLength="6"/>
<path d="M1656,1674L1665,1677" pathLength="9"/>
<path d="M1665,1677L1674,1680" pathLength="9"/>
<path d="M1674,1680L1680,1686" pathLength="6"/>
<path d="M1680,1686L1689,1689" pathLength="9"/>
<path d="M1689,1689L1698,1695" pathLength="9"/>
<path d="M1698,1695L1704,1701" pathLength="6"/>
<path d="M1704,1701L1713,1704" pathLength="9"/>
<path d="M1713,1704L1719,1710" pathLength="6"/>
<path d="M1719,1710L1728,1716" pathLength="9"/>
<path d="M1728,1716L1737,1719" pathLength="9"/>
<path d="M1737,1719L1743,1725" pathLength="6"/>
<path d="M1743,1725L1752,1731" pathLength="9"/>
<path d="M1752,1731L1761,1737" pathLength="9"/>
<path d="M1761,1737L1767,1743" pathLength="6"/>
<path d="M1767,1743L1776,1746" pathLength="9"/>
<path d="M1776,1746L1785,1752" pathLength="9"/>
<path d="M1785,1752L1791,1758" pathLength="6"/>
<path d="M1791,1758L1800,1764" pathLength="9"/>
<path d="M1800,1764L1809,1767" pathLength="9"/>
<path d="M1809,1767L1815,1773" pathLength="6"/>
<path d="M1815,1773L1824,1779" pathLength="9"/>
<path d="M1824,1779L1833,1782" pathLength="9"/>
<path d="M1833,1782L1839,1788" pathLength="6"/>
<path d="M1839,1788L1848,1791" pathLength="9"/>
<path d="M1848,1791L1857,1794" pathLength="9"/>
<path d="M1857,1794L1863,1797" pathLength="6"/>
<path d="M1863,1797L1872,1803" pathLength="9"/>
<path d="M1872,1803L1881,1806" pathLength="9"/>
<path d="M1881,1806L1887,1809" pathLength="6"/>
<path d="M1887,1809L1896,1812" pathLength="9"/>
<path d="M1896,1812L1905,1812" pathLength="9"/>
<path d="M1905,1812L1911,1815" pathLength="6"/>
<path d="M1911,1815L1920,1818" pathLength="9"/>
<path d="M1920,1818L1929,1818" pathLength="9"/>
<path d="M1929,1818L1935,1818" pathLength="6"/>
<path d="M1935,1818L1944,1821" pathLength="9"/>
<path d="M1944,1821L1953,1821" pathLength="9"/>
</g>
<g fill="none" stroke="#0000ff" stroke-width="2.6" stroke-dasharray="3 3">
<path d="M1161,1383L1170,1386" pathLength="9"/>
<path d="M1170,1386L1179,1386" pathLength="9"/>
<path d="M1179,1386L1185,1386" pathLength="6"/>
<path d="M1185,1386L1194,1386" pathLength="9"/>
<path d="M1194,1386L1203,1389" pathLength="9"/>
<path d="M1203,1389L1209,1389" pathLength="6"/>
<path d="M1209,1389L1218,1389" pathLength="9"/>
<path d="M1218,1389L1227,1392" pathLength="9"/>
<path d="M1227,1392L1233,1395" pathLength="6"/>
<path d="M1233,1395L1242,1395" pathLength="9"/>
<path d="M1242,1395L1251,1398" pathLength="9"/>
<path d="M1251,1398L1257,1401" pathLength="6"/>
<path d="M1257,1401L1266,1404" pathLength="9"/>
<path d="M1266,1404L1275,1407" pathLength="9"/>
<path d="M1275,1407L1281,1410" pathLength="6"/>
<path d="M1281,1410L1290,1413" pathLength="9"/>
<path d="M1290,1413L1299,1416" pathLength="9"/>
<path d="M1299,1416L1305,1419" pathLength="6"/>
<path d="M1305,1419L1314,1425" pathLength="9"/>
<path d="M1314,1425L1323,1428" pathLength="9"/>
<path d="M1323,1428L1329,1431" pathLength="6"/>
<path d="M1329,1431L1338,1437" pathLength="9"/>
<path d="M1338,1437L1347,1440" pathLength="9"/>
<path d="M1347,1440L1353,1446" pathLength="6"/>
<path d="M1353,1446L1362,1452" pathLength="9"/>
<path d="M1362,1452L1371,1455" pathLength="9"/>
<path d="M1371,1455L1377,1461" pathLength="6"/>
<path d="M1377,1461L1386,1467" pathLength="9"/>
<path d="M1386,1467L1395,1470" pathLength="9"/>
<path d="M1395,1470L1401,1476" pathLength="6"/>
<path d="M1401,1476L1410,1482" pathLength="9"/>
<path d="M1410,1482L1416,1488" pathLength="6"/>
<path d="M1416,1488L1425,1494" pathLength="9"/>
<path d="M1425,1494L1434,1500" pathLength="9"/>
<path d="M1434,1500L1440,1506" pathLength="6"/>
<path d="M1440,1506L1449,1512" pathLength="9"/>
<path d="M1449,1512L1458,1518" pathLength="9"/>
<path d="M1458,1518L1464,1524" pathLength="6"/>
<path d="M1464,1524L1473,1533" pathLength="9"/>
<path d="M1473,1533L1482,1539" pathLength="9"/>
<path d="M1482,1539L1488,1545" pathLength="6"/>
<path d="M1488,1545L1497,1551" pathLength="9"/>
<path d="M1497,1551L1506,1557" pathLength="9"/>
<path d="M1506,1557L1512,1566" pathLength="9"/>
<path d="M1512,1566L1521,1572" pathLength="9"/>
<path d="M1521,1572L1530,1578" pathLength="9"/>
<path d="M1530,1578L1536,1584" pathLength="6"/>
<path d="M1536,1584L1545,1593" pathLength="9"/>
<path d="M1545,1593L1554,1599" pathLength="9"/>
<path d="M1554,1599L1560,1605" pathLength="6"/>
<path d="M1560,1605L1569,1611" pathLength="9"/>
<path d="M1569,1611L1578,1620" pathLength="9"/>
<path d="M1578,1620L1584,1626" pathLength="6"/>
<path d="M1584,1626L1593,1632" pathLength="9"/>
<path d="M1593,1632L1602,1641" pathLength="9"/>
<path d="M1602,1641L1608,1647" pathLength="6"/>
<path d="M1608,1647L1617,1653" pathLength="9"/>
<path d="M1617,1653L1626,1659" pathLength="9"/>
<path d="M1626,1659L1632,1665" pathLength="6"/>
<path d="M1632,1665L1641,1674" pathLength="9"/>
<path d="M1641,1674L1650,1680" pathLength="9"/>
<path d="M1650,1680L1656,1686" pathLength="6"/>
<path d="M1656,1686L1665,1692" pathLength="9"/>
<path d="M1665,1692L1674,1698" pathLength="9"/>
<path d="M1674,1698L1680,1704" pathLength="6"/>
<path d="M1680,1704L1689,1710" pathLength="9"/>
<path d="M1689,1710L1698,1716" pathLength="9"/>
<path d="M1698,1716L1704,1722" pathLength="6"/>
<path d="M1704,1722L1713,1728" pathLength="9"/>
<path d="M1713,1728L1719,1734" pathLength="6"/>
<path d="M1719,1734L1728,1737" pathLength="9"/>
<path d="M1728,1737L1737,1743" pathLength="9"/>
<path d="M1737,1743L1743,1749" pathLength="6"/>
<path d="M1743,1749L1752,1755" pathLength="9"/>
<path d="M1752,1755L1761,1758" pathLength="9"/>
<path d="M1761,1758L1767,1764" pathLength="6"/>
<path d="M1767,1764L1776,1767" pathLength="9"/>
<path d="M1776,1767L1785,1773" pathLength="9"/>
<path d="M1785,1773L1791,1776" pathLength="6"/>
<path d="M1791,1776L1800,1779" pathLength="9"/>
<path d="M1800,1779L1809,1785" pathLength="9"/>
<path d="M1809,1785L1815,1788" pathLength="6"/>
<path d="M1815,1788L1824,1791" pathLength="9"/>
<path d="M1824,1791L1833,1794" pathLength="9"/>
<path d="M1833,1794L1839,1797" pathLength="6"/>
<path d="M1839,1797L1848,1800" pathLength="9"/>
<path d="M1848,1800L1857,1803" pathLength="9"/>
<path d="M1857,1803L1863,1806" pathLength="6"/>
<path d="M1863,1806L1872,1809" pathLength="9"/>
<path d="M1872,1809L1881,1809" pathLength="9"/>
<path d="M1881,1809L1887,1812" pathLength="6"/>
<path d="M1887,1812L1896,1815" pathLength="9"/>
<path d="M1896,1815L1905,1815" pathLength="9"/>
<path d="M1905,1815L1911,1818" pathLength="6"/>
<path d="M1911,1818L1920,1818" pathLength="9"/>
<path d="M1920,1818L1929,1818" pathLength="9"/>
<path d="M1929,1818L1935,1818" pathLength="6"/>
<path d="M1935,1818L1944,1821" pathLength="9"/>
<path d="M1944,1821L1953,1821" pathLength="9"/>
</g>
<text transform="translate(1505.5,1635) scale(1,1.06)" textLength="493" lengthAdjust="spacing" class="b">0: true 0.01, estimated 0.00 +/- 0.61</text>
<text transform="translate(1505.5,1681) scale(1,1.06)" textLength="493" lengthAdjust="spacing" class="b">1: true 0.30, estimated 0.28 +/- 0.06</text>
<text transform="translate(1505.5,1727) scale(1,1.06)" textLength="493" lengthAdjust="spacing" class="b">2: true 0.69, estimated 0.72 +/- 0.05</text>
</svg></body></html>
